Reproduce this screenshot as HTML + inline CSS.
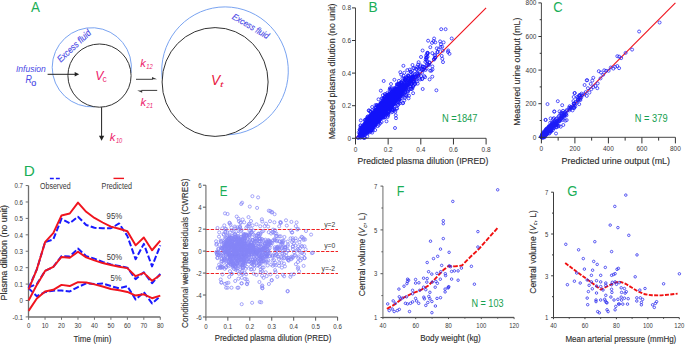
<!DOCTYPE html>
<html><head><meta charset="utf-8"><title>figure</title>
<style>
html,body{margin:0;padding:0;background:#fff;}
body{width:685px;height:344px;overflow:hidden;}
svg{display:block;font-family:"Liberation Sans",sans-serif;}
text[fill="#2d2d2d"]{stroke:#2d2d2d;stroke-width:0.13px;}
</style></head><body>
<svg xmlns="http://www.w3.org/2000/svg" width="685" height="344" viewBox="0 0 685 344">
<rect width="685" height="344" fill="#fff"/>
<text x="30.97" y="11.80" font-size="14.2" fill="#1aae57" textLength="8.95" lengthAdjust="spacingAndGlyphs">A</text>
<path d="M 94.53 106.81 A 39.6 39.6 0 1 1 130.99 72.98" fill="none" stroke="#6a98ee" stroke-width="0.9"/>
<circle cx="99.5" cy="75.6" r="31.6" fill="none" stroke="#333" stroke-width="1.0"/>
<path d="M 162.19 78.81 A 63.3 64.0 0 1 1 227.65 134.84" fill="none" stroke="#6a98ee" stroke-width="0.9"/>
<ellipse cx="215.1" cy="82" rx="53" ry="54.4" fill="none" stroke="#333" stroke-width="1.0"/>
<line x1="47.60" y1="74.30" x2="75.50" y2="74.30" stroke="#222" stroke-width="1"/>
<polygon points="79.20,74.30 74.70,76.50 74.70,72.10" fill="#222"/>
<line x1="101.60" y1="107.20" x2="101.60" y2="136.60" stroke="#222" stroke-width="1"/>
<polygon points="101.60,140.70 98.95,135.80 104.25,135.80" fill="#222"/>
<line x1="136.00" y1="79.30" x2="152.80" y2="79.30" stroke="#333" stroke-width="0.95"/>
<polygon points="157.00,79.30 152.00,76.90 152.00,79.30" fill="#333"/>
<line x1="157.20" y1="90.40" x2="141.40" y2="90.40" stroke="#333" stroke-width="0.95"/>
<polygon points="137.20,90.40 142.20,92.80 142.20,90.40" fill="#333"/>
<text x="15.90" y="71.70" font-size="8.9" fill="#4a4ae6" textLength="29.9" lengthAdjust="spacingAndGlyphs" font-style="italic">Infusion</text>
<text x="25.50" y="83.00" font-size="10.0" fill="#4a4ae6" textLength="6.4" lengthAdjust="spacingAndGlyphs" font-style="italic">R</text>
<text x="31.20" y="86.20" font-size="9.0" fill="#4a4ae6" stroke="#4a4ae6" stroke-width="0.2">o</text>
<text x="95.30" y="79.80" font-size="13.4" fill="#ec1c6c" textLength="8.2" lengthAdjust="spacingAndGlyphs" font-style="italic">V</text>
<text x="102.40" y="81.90" font-size="9.6" fill="#ec1c6c" textLength="4.2" lengthAdjust="spacingAndGlyphs">c</text>
<text x="211.00" y="85.20" font-size="14.0" fill="#e8203f" textLength="9.2" lengthAdjust="spacingAndGlyphs" font-style="italic">V</text>
<text x="219.90" y="87.10" font-size="7.8" fill="#e8203f" textLength="3.4" lengthAdjust="spacingAndGlyphs" font-style="italic">t</text>
<text x="140.20" y="66.80" font-size="11.2" fill="#ec1c6c" textLength="5.6" lengthAdjust="spacingAndGlyphs" font-style="italic">k</text>
<text x="146.30" y="68.70" font-size="6.6" fill="#ec1c6c" textLength="6.4" lengthAdjust="spacingAndGlyphs" font-style="italic">12</text>
<text x="140.40" y="105.60" font-size="11.2" fill="#ec1c6c" textLength="5.6" lengthAdjust="spacingAndGlyphs" font-style="italic">k</text>
<text x="146.50" y="107.50" font-size="6.6" fill="#ec1c6c" textLength="6.4" lengthAdjust="spacingAndGlyphs" font-style="italic">21</text>
<text x="109.80" y="140.80" font-size="11.2" fill="#ec1c6c" textLength="5.6" lengthAdjust="spacingAndGlyphs" font-style="italic">k</text>
<text x="115.90" y="142.70" font-size="6.6" fill="#ec1c6c" textLength="6.4" lengthAdjust="spacingAndGlyphs" font-style="italic">10</text>
<text transform="translate(60.7,62.8) rotate(-43.2)" font-size="9.4" fill="#4a4ae6" font-style="italic" stroke="#4a4ae6" stroke-width="0.15" textLength="42.5" lengthAdjust="spacingAndGlyphs">Excess fluid</text>
<text transform="translate(231.6,18.4) rotate(30.5)" font-size="9.0" fill="#4a4ae6" font-style="italic" stroke="#4a4ae6" stroke-width="0.15" textLength="41" lengthAdjust="spacingAndGlyphs">Excess fluid</text>
<line x1="355.50" y1="138.30" x2="486.10" y2="7.90" stroke="#f0141e" stroke-width="1.15"/>
<g fill="none" stroke="#1212fa" stroke-width="0.72">
<circle cx="382.2" cy="112.5" r="1.5"/><circle cx="378.1" cy="117.2" r="1.5"/><circle cx="375.7" cy="114.1" r="1.5"/><circle cx="383.1" cy="117.1" r="1.5"/><circle cx="375.2" cy="119.0" r="1.5"/><circle cx="390.5" cy="103.0" r="1.5"/><circle cx="383.8" cy="113.3" r="1.5"/><circle cx="381.7" cy="114.8" r="1.5"/><circle cx="366.3" cy="130.4" r="1.5"/><circle cx="362.6" cy="134.1" r="1.5"/><circle cx="367.0" cy="129.0" r="1.5"/><circle cx="384.6" cy="110.4" r="1.5"/><circle cx="381.4" cy="110.5" r="1.5"/><circle cx="364.8" cy="132.5" r="1.5"/><circle cx="384.5" cy="102.7" r="1.5"/><circle cx="371.5" cy="122.4" r="1.5"/><circle cx="371.5" cy="122.2" r="1.5"/><circle cx="398.3" cy="95.4" r="1.5"/><circle cx="380.4" cy="114.7" r="1.5"/><circle cx="383.1" cy="113.4" r="1.5"/><circle cx="383.3" cy="103.7" r="1.5"/><circle cx="364.7" cy="128.0" r="1.5"/><circle cx="384.0" cy="108.6" r="1.5"/><circle cx="426.6" cy="58.1" r="1.5"/><circle cx="367.6" cy="127.8" r="1.5"/><circle cx="392.1" cy="97.2" r="1.5"/><circle cx="394.2" cy="97.5" r="1.5"/><circle cx="393.8" cy="102.7" r="1.5"/><circle cx="373.0" cy="117.0" r="1.5"/><circle cx="375.6" cy="114.8" r="1.5"/><circle cx="367.7" cy="123.3" r="1.5"/><circle cx="379.2" cy="116.8" r="1.5"/><circle cx="404.1" cy="85.1" r="1.5"/><circle cx="371.6" cy="116.3" r="1.5"/><circle cx="361.7" cy="130.2" r="1.5"/><circle cx="380.7" cy="114.2" r="1.5"/><circle cx="394.3" cy="97.7" r="1.5"/><circle cx="376.8" cy="117.1" r="1.5"/><circle cx="413.3" cy="85.9" r="1.5"/><circle cx="377.7" cy="119.2" r="1.5"/><circle cx="380.3" cy="111.9" r="1.5"/><circle cx="368.4" cy="122.9" r="1.5"/><circle cx="375.8" cy="123.5" r="1.5"/><circle cx="393.6" cy="98.7" r="1.5"/><circle cx="393.9" cy="94.3" r="1.5"/><circle cx="401.9" cy="89.2" r="1.5"/><circle cx="392.2" cy="104.9" r="1.5"/><circle cx="387.9" cy="99.3" r="1.5"/><circle cx="361.4" cy="135.4" r="1.5"/><circle cx="370.5" cy="120.2" r="1.5"/><circle cx="434.1" cy="38.5" r="1.5"/><circle cx="373.6" cy="126.6" r="1.5"/><circle cx="390.5" cy="100.2" r="1.5"/><circle cx="379.1" cy="112.1" r="1.5"/><circle cx="391.0" cy="99.9" r="1.5"/><circle cx="380.9" cy="114.7" r="1.5"/><circle cx="368.9" cy="125.1" r="1.5"/><circle cx="370.9" cy="126.8" r="1.5"/><circle cx="385.2" cy="106.4" r="1.5"/><circle cx="374.0" cy="118.3" r="1.5"/><circle cx="361.6" cy="133.7" r="1.5"/><circle cx="388.2" cy="108.4" r="1.5"/><circle cx="397.5" cy="97.0" r="1.5"/><circle cx="395.6" cy="96.3" r="1.5"/><circle cx="396.1" cy="95.5" r="1.5"/><circle cx="364.7" cy="128.9" r="1.5"/><circle cx="411.2" cy="80.1" r="1.5"/><circle cx="378.1" cy="119.7" r="1.5"/><circle cx="369.7" cy="132.4" r="1.5"/><circle cx="374.6" cy="115.8" r="1.5"/><circle cx="371.7" cy="116.3" r="1.5"/><circle cx="366.9" cy="130.8" r="1.5"/><circle cx="379.8" cy="115.4" r="1.5"/><circle cx="382.3" cy="108.7" r="1.5"/><circle cx="377.4" cy="111.4" r="1.5"/><circle cx="382.3" cy="107.3" r="1.5"/><circle cx="377.8" cy="109.7" r="1.5"/><circle cx="371.5" cy="121.6" r="1.5"/><circle cx="373.0" cy="118.3" r="1.5"/><circle cx="387.7" cy="102.5" r="1.5"/><circle cx="365.4" cy="129.2" r="1.5"/><circle cx="373.5" cy="114.9" r="1.5"/><circle cx="395.2" cy="93.4" r="1.5"/><circle cx="383.3" cy="104.8" r="1.5"/><circle cx="389.8" cy="104.2" r="1.5"/><circle cx="380.0" cy="108.2" r="1.5"/><circle cx="367.4" cy="129.1" r="1.5"/><circle cx="375.0" cy="116.2" r="1.5"/><circle cx="381.6" cy="122.0" r="1.5"/><circle cx="375.0" cy="121.5" r="1.5"/><circle cx="377.7" cy="111.9" r="1.5"/><circle cx="382.5" cy="111.9" r="1.5"/><circle cx="394.1" cy="97.0" r="1.5"/><circle cx="374.3" cy="124.4" r="1.5"/><circle cx="399.7" cy="83.4" r="1.5"/><circle cx="380.0" cy="110.0" r="1.5"/><circle cx="396.1" cy="96.0" r="1.5"/><circle cx="399.1" cy="90.5" r="1.5"/><circle cx="413.1" cy="76.6" r="1.5"/><circle cx="397.8" cy="86.3" r="1.5"/><circle cx="398.1" cy="84.1" r="1.5"/><circle cx="412.3" cy="88.9" r="1.5"/><circle cx="363.6" cy="130.5" r="1.5"/><circle cx="369.3" cy="119.5" r="1.5"/><circle cx="397.3" cy="91.5" r="1.5"/><circle cx="361.0" cy="133.7" r="1.5"/><circle cx="382.8" cy="106.9" r="1.5"/><circle cx="382.7" cy="109.1" r="1.5"/><circle cx="364.9" cy="119.9" r="1.5"/><circle cx="369.8" cy="128.6" r="1.5"/><circle cx="390.7" cy="105.8" r="1.5"/><circle cx="388.9" cy="100.0" r="1.5"/><circle cx="373.2" cy="120.4" r="1.5"/><circle cx="370.6" cy="121.1" r="1.5"/><circle cx="371.8" cy="114.3" r="1.5"/><circle cx="387.7" cy="105.9" r="1.5"/><circle cx="365.9" cy="126.7" r="1.5"/><circle cx="380.8" cy="114.0" r="1.5"/><circle cx="365.4" cy="133.9" r="1.5"/><circle cx="395.4" cy="97.0" r="1.5"/><circle cx="383.4" cy="115.4" r="1.5"/><circle cx="404.3" cy="100.3" r="1.5"/><circle cx="360.5" cy="137.8" r="1.5"/><circle cx="361.8" cy="132.0" r="1.5"/><circle cx="372.9" cy="115.9" r="1.5"/><circle cx="408.5" cy="82.5" r="1.5"/><circle cx="367.8" cy="124.9" r="1.5"/><circle cx="403.7" cy="84.1" r="1.5"/><circle cx="382.9" cy="106.4" r="1.5"/><circle cx="382.7" cy="114.9" r="1.5"/><circle cx="391.6" cy="94.4" r="1.5"/><circle cx="369.0" cy="127.2" r="1.5"/><circle cx="372.9" cy="119.2" r="1.5"/><circle cx="366.9" cy="118.3" r="1.5"/><circle cx="382.0" cy="110.0" r="1.5"/><circle cx="418.6" cy="62.2" r="1.5"/><circle cx="375.6" cy="118.4" r="1.5"/><circle cx="388.4" cy="100.8" r="1.5"/><circle cx="386.2" cy="105.8" r="1.5"/><circle cx="383.4" cy="107.1" r="1.5"/><circle cx="378.2" cy="117.8" r="1.5"/><circle cx="405.1" cy="92.4" r="1.5"/><circle cx="382.1" cy="108.9" r="1.5"/><circle cx="374.4" cy="124.1" r="1.5"/><circle cx="400.0" cy="96.7" r="1.5"/><circle cx="393.9" cy="94.8" r="1.5"/><circle cx="385.6" cy="109.5" r="1.5"/><circle cx="379.1" cy="117.0" r="1.5"/><circle cx="413.0" cy="85.8" r="1.5"/><circle cx="381.2" cy="110.6" r="1.5"/><circle cx="373.5" cy="120.7" r="1.5"/><circle cx="390.8" cy="100.6" r="1.5"/><circle cx="377.1" cy="116.2" r="1.5"/><circle cx="381.1" cy="103.5" r="1.5"/><circle cx="376.5" cy="117.8" r="1.5"/><circle cx="378.9" cy="121.6" r="1.5"/><circle cx="364.3" cy="128.7" r="1.5"/><circle cx="371.0" cy="122.0" r="1.5"/><circle cx="371.9" cy="120.4" r="1.5"/><circle cx="377.6" cy="121.4" r="1.5"/><circle cx="385.2" cy="101.9" r="1.5"/><circle cx="369.5" cy="123.6" r="1.5"/><circle cx="427.0" cy="65.2" r="1.5"/><circle cx="379.1" cy="119.8" r="1.5"/><circle cx="387.4" cy="102.6" r="1.5"/><circle cx="368.4" cy="124.9" r="1.5"/><circle cx="370.4" cy="118.0" r="1.5"/><circle cx="413.3" cy="81.1" r="1.5"/><circle cx="391.6" cy="106.7" r="1.5"/><circle cx="379.2" cy="112.8" r="1.5"/><circle cx="366.2" cy="129.8" r="1.5"/><circle cx="412.2" cy="77.0" r="1.5"/><circle cx="370.1" cy="126.6" r="1.5"/><circle cx="375.1" cy="118.1" r="1.5"/><circle cx="379.1" cy="114.4" r="1.5"/><circle cx="387.0" cy="105.4" r="1.5"/><circle cx="381.5" cy="113.1" r="1.5"/><circle cx="380.9" cy="115.4" r="1.5"/><circle cx="422.8" cy="69.4" r="1.5"/><circle cx="383.0" cy="111.9" r="1.5"/><circle cx="388.6" cy="102.8" r="1.5"/><circle cx="365.7" cy="128.3" r="1.5"/><circle cx="394.6" cy="109.2" r="1.5"/><circle cx="363.5" cy="130.1" r="1.5"/><circle cx="373.0" cy="114.9" r="1.5"/><circle cx="434.5" cy="55.4" r="1.5"/><circle cx="371.8" cy="119.0" r="1.5"/><circle cx="381.3" cy="109.2" r="1.5"/><circle cx="368.0" cy="126.6" r="1.5"/><circle cx="368.0" cy="129.4" r="1.5"/><circle cx="402.2" cy="85.0" r="1.5"/><circle cx="375.5" cy="113.3" r="1.5"/><circle cx="380.1" cy="110.0" r="1.5"/><circle cx="377.2" cy="113.7" r="1.5"/><circle cx="365.5" cy="126.6" r="1.5"/><circle cx="379.3" cy="113.3" r="1.5"/><circle cx="400.8" cy="89.5" r="1.5"/><circle cx="371.8" cy="121.1" r="1.5"/><circle cx="388.7" cy="101.9" r="1.5"/><circle cx="401.4" cy="95.9" r="1.5"/><circle cx="367.4" cy="127.7" r="1.5"/><circle cx="396.6" cy="92.3" r="1.5"/><circle cx="362.2" cy="132.2" r="1.5"/><circle cx="392.5" cy="111.8" r="1.5"/><circle cx="376.6" cy="115.5" r="1.5"/><circle cx="368.2" cy="132.2" r="1.5"/><circle cx="379.5" cy="105.2" r="1.5"/><circle cx="373.3" cy="116.9" r="1.5"/><circle cx="363.7" cy="127.7" r="1.5"/><circle cx="400.4" cy="95.2" r="1.5"/><circle cx="402.4" cy="96.0" r="1.5"/><circle cx="369.0" cy="124.7" r="1.5"/><circle cx="375.6" cy="117.0" r="1.5"/><circle cx="374.7" cy="120.9" r="1.5"/><circle cx="377.7" cy="106.7" r="1.5"/><circle cx="366.8" cy="124.3" r="1.5"/><circle cx="398.3" cy="90.4" r="1.5"/><circle cx="382.2" cy="114.6" r="1.5"/><circle cx="369.7" cy="130.4" r="1.5"/><circle cx="374.9" cy="117.8" r="1.5"/><circle cx="371.8" cy="130.1" r="1.5"/><circle cx="378.8" cy="110.5" r="1.5"/><circle cx="392.3" cy="91.5" r="1.5"/><circle cx="392.6" cy="91.2" r="1.5"/><circle cx="368.6" cy="123.5" r="1.5"/><circle cx="382.9" cy="104.6" r="1.5"/><circle cx="370.4" cy="117.0" r="1.5"/><circle cx="363.4" cy="129.9" r="1.5"/><circle cx="368.7" cy="123.5" r="1.5"/><circle cx="381.2" cy="107.6" r="1.5"/><circle cx="364.8" cy="128.6" r="1.5"/><circle cx="372.2" cy="122.4" r="1.5"/><circle cx="388.4" cy="107.2" r="1.5"/><circle cx="372.5" cy="120.3" r="1.5"/><circle cx="372.1" cy="122.9" r="1.5"/><circle cx="369.8" cy="120.6" r="1.5"/><circle cx="362.6" cy="131.7" r="1.5"/><circle cx="377.5" cy="109.4" r="1.5"/><circle cx="381.7" cy="105.6" r="1.5"/><circle cx="382.9" cy="114.7" r="1.5"/><circle cx="369.1" cy="120.5" r="1.5"/><circle cx="369.4" cy="124.9" r="1.5"/><circle cx="395.4" cy="89.3" r="1.5"/><circle cx="369.9" cy="121.4" r="1.5"/><circle cx="377.0" cy="115.7" r="1.5"/><circle cx="358.0" cy="137.8" r="1.5"/><circle cx="368.7" cy="126.1" r="1.5"/><circle cx="368.7" cy="123.3" r="1.5"/><circle cx="365.0" cy="127.2" r="1.5"/><circle cx="409.8" cy="82.7" r="1.5"/><circle cx="376.4" cy="114.7" r="1.5"/><circle cx="362.3" cy="133.9" r="1.5"/><circle cx="381.7" cy="108.3" r="1.5"/><circle cx="380.7" cy="116.6" r="1.5"/><circle cx="381.1" cy="108.6" r="1.5"/><circle cx="407.5" cy="81.3" r="1.5"/><circle cx="380.1" cy="109.4" r="1.5"/><circle cx="381.1" cy="113.5" r="1.5"/><circle cx="372.2" cy="110.1" r="1.5"/><circle cx="369.0" cy="124.7" r="1.5"/><circle cx="380.6" cy="108.5" r="1.5"/><circle cx="379.4" cy="116.0" r="1.5"/><circle cx="370.0" cy="118.2" r="1.5"/><circle cx="374.5" cy="119.8" r="1.5"/><circle cx="382.1" cy="106.0" r="1.5"/><circle cx="383.2" cy="113.1" r="1.5"/><circle cx="373.7" cy="117.9" r="1.5"/><circle cx="361.2" cy="131.7" r="1.5"/><circle cx="384.5" cy="103.5" r="1.5"/><circle cx="376.1" cy="117.5" r="1.5"/><circle cx="369.7" cy="126.0" r="1.5"/><circle cx="374.5" cy="116.5" r="1.5"/><circle cx="367.5" cy="133.3" r="1.5"/><circle cx="384.4" cy="111.9" r="1.5"/><circle cx="375.9" cy="113.8" r="1.5"/><circle cx="363.8" cy="134.7" r="1.5"/><circle cx="386.1" cy="102.2" r="1.5"/><circle cx="388.5" cy="105.3" r="1.5"/><circle cx="378.3" cy="117.6" r="1.5"/><circle cx="389.4" cy="101.4" r="1.5"/><circle cx="364.9" cy="134.6" r="1.5"/><circle cx="404.6" cy="90.4" r="1.5"/><circle cx="385.9" cy="106.9" r="1.5"/><circle cx="399.5" cy="87.7" r="1.5"/><circle cx="365.1" cy="125.9" r="1.5"/><circle cx="373.5" cy="119.3" r="1.5"/><circle cx="376.8" cy="118.5" r="1.5"/><circle cx="419.3" cy="78.2" r="1.5"/><circle cx="380.6" cy="114.1" r="1.5"/><circle cx="367.0" cy="124.0" r="1.5"/><circle cx="389.3" cy="99.9" r="1.5"/><circle cx="383.9" cy="106.9" r="1.5"/><circle cx="371.9" cy="116.1" r="1.5"/><circle cx="395.1" cy="98.1" r="1.5"/><circle cx="402.4" cy="91.3" r="1.5"/><circle cx="377.6" cy="116.2" r="1.5"/><circle cx="369.4" cy="117.3" r="1.5"/><circle cx="392.2" cy="109.7" r="1.5"/><circle cx="387.2" cy="103.4" r="1.5"/><circle cx="376.9" cy="113.8" r="1.5"/><circle cx="370.9" cy="121.6" r="1.5"/><circle cx="377.3" cy="106.2" r="1.5"/><circle cx="388.5" cy="97.9" r="1.5"/><circle cx="381.9" cy="107.0" r="1.5"/><circle cx="358.2" cy="137.6" r="1.5"/><circle cx="391.5" cy="97.9" r="1.5"/><circle cx="418.0" cy="75.7" r="1.5"/><circle cx="387.3" cy="104.4" r="1.5"/><circle cx="396.3" cy="94.3" r="1.5"/><circle cx="381.5" cy="112.6" r="1.5"/><circle cx="425.3" cy="61.9" r="1.5"/><circle cx="381.4" cy="104.0" r="1.5"/><circle cx="408.8" cy="76.3" r="1.5"/><circle cx="411.9" cy="78.1" r="1.5"/><circle cx="379.4" cy="120.5" r="1.5"/><circle cx="396.2" cy="89.6" r="1.5"/><circle cx="364.9" cy="125.1" r="1.5"/><circle cx="387.7" cy="105.0" r="1.5"/><circle cx="364.8" cy="129.6" r="1.5"/><circle cx="390.5" cy="98.0" r="1.5"/><circle cx="375.4" cy="119.9" r="1.5"/><circle cx="378.6" cy="110.5" r="1.5"/><circle cx="370.4" cy="125.9" r="1.5"/><circle cx="385.4" cy="110.5" r="1.5"/><circle cx="394.0" cy="97.5" r="1.5"/><circle cx="370.3" cy="127.2" r="1.5"/><circle cx="377.1" cy="115.2" r="1.5"/><circle cx="385.6" cy="103.9" r="1.5"/><circle cx="373.5" cy="122.9" r="1.5"/><circle cx="405.6" cy="80.3" r="1.5"/><circle cx="426.6" cy="68.5" r="1.5"/><circle cx="385.7" cy="103.8" r="1.5"/><circle cx="380.3" cy="111.0" r="1.5"/><circle cx="384.0" cy="109.9" r="1.5"/><circle cx="371.3" cy="127.9" r="1.5"/><circle cx="365.5" cy="132.4" r="1.5"/><circle cx="372.0" cy="122.9" r="1.5"/><circle cx="385.6" cy="106.7" r="1.5"/><circle cx="377.3" cy="108.8" r="1.5"/><circle cx="370.6" cy="118.7" r="1.5"/><circle cx="369.2" cy="127.9" r="1.5"/><circle cx="381.7" cy="107.0" r="1.5"/><circle cx="377.1" cy="114.4" r="1.5"/><circle cx="394.5" cy="98.9" r="1.5"/><circle cx="369.1" cy="122.2" r="1.5"/><circle cx="443.6" cy="42.4" r="1.5"/><circle cx="380.5" cy="113.9" r="1.5"/><circle cx="428.3" cy="64.8" r="1.5"/><circle cx="376.9" cy="114.8" r="1.5"/><circle cx="390.5" cy="105.8" r="1.5"/><circle cx="375.0" cy="116.7" r="1.5"/><circle cx="418.3" cy="73.4" r="1.5"/><circle cx="394.2" cy="100.8" r="1.5"/><circle cx="372.5" cy="122.9" r="1.5"/><circle cx="379.2" cy="111.7" r="1.5"/><circle cx="394.1" cy="93.0" r="1.5"/><circle cx="363.6" cy="128.6" r="1.5"/><circle cx="372.2" cy="123.2" r="1.5"/><circle cx="373.8" cy="118.5" r="1.5"/><circle cx="360.0" cy="133.0" r="1.5"/><circle cx="386.3" cy="102.9" r="1.5"/><circle cx="426.0" cy="57.6" r="1.5"/><circle cx="362.9" cy="132.8" r="1.5"/><circle cx="367.5" cy="125.8" r="1.5"/><circle cx="383.4" cy="111.1" r="1.5"/><circle cx="387.8" cy="107.9" r="1.5"/><circle cx="387.0" cy="95.8" r="1.5"/><circle cx="377.6" cy="110.2" r="1.5"/><circle cx="374.6" cy="124.1" r="1.5"/><circle cx="363.7" cy="128.3" r="1.5"/><circle cx="422.1" cy="72.7" r="1.5"/><circle cx="408.3" cy="76.1" r="1.5"/><circle cx="373.0" cy="119.2" r="1.5"/><circle cx="381.3" cy="111.5" r="1.5"/><circle cx="377.9" cy="113.8" r="1.5"/><circle cx="376.0" cy="114.9" r="1.5"/><circle cx="368.6" cy="124.0" r="1.5"/><circle cx="435.3" cy="57.7" r="1.5"/><circle cx="378.6" cy="114.1" r="1.5"/><circle cx="394.7" cy="94.2" r="1.5"/><circle cx="379.1" cy="117.5" r="1.5"/><circle cx="386.5" cy="121.3" r="1.5"/><circle cx="414.1" cy="79.9" r="1.5"/><circle cx="383.4" cy="110.5" r="1.5"/><circle cx="412.5" cy="74.2" r="1.5"/><circle cx="373.1" cy="123.9" r="1.5"/><circle cx="393.8" cy="99.6" r="1.5"/><circle cx="410.1" cy="86.2" r="1.5"/><circle cx="395.5" cy="93.1" r="1.5"/><circle cx="373.1" cy="117.6" r="1.5"/><circle cx="370.3" cy="122.2" r="1.5"/><circle cx="376.8" cy="114.0" r="1.5"/><circle cx="373.3" cy="124.7" r="1.5"/><circle cx="387.3" cy="102.4" r="1.5"/><circle cx="379.2" cy="115.9" r="1.5"/><circle cx="372.1" cy="121.3" r="1.5"/><circle cx="367.4" cy="125.8" r="1.5"/><circle cx="373.4" cy="116.3" r="1.5"/><circle cx="381.3" cy="107.7" r="1.5"/><circle cx="394.4" cy="88.1" r="1.5"/><circle cx="388.0" cy="102.9" r="1.5"/><circle cx="393.1" cy="100.7" r="1.5"/><circle cx="406.2" cy="88.0" r="1.5"/><circle cx="388.7" cy="100.0" r="1.5"/><circle cx="365.4" cy="123.0" r="1.5"/><circle cx="378.3" cy="112.5" r="1.5"/><circle cx="366.2" cy="128.5" r="1.5"/><circle cx="383.8" cy="106.9" r="1.5"/><circle cx="363.5" cy="129.0" r="1.5"/><circle cx="380.8" cy="111.1" r="1.5"/><circle cx="383.6" cy="111.5" r="1.5"/><circle cx="391.6" cy="112.2" r="1.5"/><circle cx="381.5" cy="112.6" r="1.5"/><circle cx="375.6" cy="112.9" r="1.5"/><circle cx="396.2" cy="94.1" r="1.5"/><circle cx="375.3" cy="125.0" r="1.5"/><circle cx="369.7" cy="123.0" r="1.5"/><circle cx="375.4" cy="123.6" r="1.5"/><circle cx="365.5" cy="121.8" r="1.5"/><circle cx="384.5" cy="106.5" r="1.5"/><circle cx="363.0" cy="133.4" r="1.5"/><circle cx="396.5" cy="90.8" r="1.5"/><circle cx="380.9" cy="114.2" r="1.5"/><circle cx="393.1" cy="95.6" r="1.5"/><circle cx="367.8" cy="124.9" r="1.5"/><circle cx="411.4" cy="86.9" r="1.5"/><circle cx="404.4" cy="83.0" r="1.5"/><circle cx="399.4" cy="99.1" r="1.5"/><circle cx="379.8" cy="107.0" r="1.5"/><circle cx="395.8" cy="95.3" r="1.5"/><circle cx="380.8" cy="115.3" r="1.5"/><circle cx="405.6" cy="96.2" r="1.5"/><circle cx="363.3" cy="125.5" r="1.5"/><circle cx="382.4" cy="98.8" r="1.5"/><circle cx="408.1" cy="90.5" r="1.5"/><circle cx="396.8" cy="86.0" r="1.5"/><circle cx="397.9" cy="92.5" r="1.5"/><circle cx="396.0" cy="96.6" r="1.5"/><circle cx="384.6" cy="107.6" r="1.5"/><circle cx="370.2" cy="123.3" r="1.5"/><circle cx="389.9" cy="95.0" r="1.5"/><circle cx="375.9" cy="115.8" r="1.5"/><circle cx="378.1" cy="121.1" r="1.5"/><circle cx="380.1" cy="103.6" r="1.5"/><circle cx="381.8" cy="106.6" r="1.5"/><circle cx="369.8" cy="126.4" r="1.5"/><circle cx="393.8" cy="99.5" r="1.5"/><circle cx="385.1" cy="110.7" r="1.5"/><circle cx="403.8" cy="87.2" r="1.5"/><circle cx="427.2" cy="61.4" r="1.5"/><circle cx="395.3" cy="94.9" r="1.5"/><circle cx="383.7" cy="110.7" r="1.5"/><circle cx="366.5" cy="128.8" r="1.5"/><circle cx="381.4" cy="107.2" r="1.5"/><circle cx="385.1" cy="107.1" r="1.5"/><circle cx="386.7" cy="95.1" r="1.5"/><circle cx="382.7" cy="112.6" r="1.5"/><circle cx="374.9" cy="114.7" r="1.5"/><circle cx="398.6" cy="92.5" r="1.5"/><circle cx="384.5" cy="110.6" r="1.5"/><circle cx="401.6" cy="82.1" r="1.5"/><circle cx="372.6" cy="119.4" r="1.5"/><circle cx="387.2" cy="108.6" r="1.5"/><circle cx="405.1" cy="88.0" r="1.5"/><circle cx="405.1" cy="80.2" r="1.5"/><circle cx="368.5" cy="128.1" r="1.5"/><circle cx="380.7" cy="105.8" r="1.5"/><circle cx="377.0" cy="112.7" r="1.5"/><circle cx="405.2" cy="87.7" r="1.5"/><circle cx="388.9" cy="96.5" r="1.5"/><circle cx="373.4" cy="113.0" r="1.5"/><circle cx="381.6" cy="107.9" r="1.5"/><circle cx="375.2" cy="116.5" r="1.5"/><circle cx="382.6" cy="101.7" r="1.5"/><circle cx="376.1" cy="110.7" r="1.5"/><circle cx="385.6" cy="110.3" r="1.5"/><circle cx="405.4" cy="87.0" r="1.5"/><circle cx="435.0" cy="58.0" r="1.5"/><circle cx="396.7" cy="96.9" r="1.5"/><circle cx="422.4" cy="78.5" r="1.5"/><circle cx="361.9" cy="129.0" r="1.5"/><circle cx="393.8" cy="97.3" r="1.5"/><circle cx="395.2" cy="95.7" r="1.5"/><circle cx="389.8" cy="93.5" r="1.5"/><circle cx="381.0" cy="113.4" r="1.5"/><circle cx="360.2" cy="133.3" r="1.5"/><circle cx="369.1" cy="122.7" r="1.5"/><circle cx="378.8" cy="115.1" r="1.5"/><circle cx="388.3" cy="103.9" r="1.5"/><circle cx="370.4" cy="119.8" r="1.5"/><circle cx="381.7" cy="110.3" r="1.5"/><circle cx="379.8" cy="107.0" r="1.5"/><circle cx="380.0" cy="115.1" r="1.5"/><circle cx="382.4" cy="102.8" r="1.5"/><circle cx="392.0" cy="106.5" r="1.5"/><circle cx="377.2" cy="115.5" r="1.5"/><circle cx="379.7" cy="115.1" r="1.5"/><circle cx="370.5" cy="112.0" r="1.5"/><circle cx="376.4" cy="113.1" r="1.5"/><circle cx="371.3" cy="119.6" r="1.5"/><circle cx="388.7" cy="94.5" r="1.5"/><circle cx="427.2" cy="54.4" r="1.5"/><circle cx="420.2" cy="66.4" r="1.5"/><circle cx="373.2" cy="121.7" r="1.5"/><circle cx="389.5" cy="109.0" r="1.5"/><circle cx="382.9" cy="109.1" r="1.5"/><circle cx="362.8" cy="131.3" r="1.5"/><circle cx="360.5" cy="134.6" r="1.5"/><circle cx="372.4" cy="121.1" r="1.5"/><circle cx="378.9" cy="119.7" r="1.5"/><circle cx="365.6" cy="119.6" r="1.5"/><circle cx="368.8" cy="127.5" r="1.5"/><circle cx="369.8" cy="125.0" r="1.5"/><circle cx="368.9" cy="122.0" r="1.5"/><circle cx="366.1" cy="131.7" r="1.5"/><circle cx="377.5" cy="111.2" r="1.5"/><circle cx="391.9" cy="95.0" r="1.5"/><circle cx="385.3" cy="107.9" r="1.5"/><circle cx="369.7" cy="126.4" r="1.5"/><circle cx="378.5" cy="115.5" r="1.5"/><circle cx="381.5" cy="118.1" r="1.5"/><circle cx="361.7" cy="127.9" r="1.5"/><circle cx="398.2" cy="98.3" r="1.5"/><circle cx="371.7" cy="123.4" r="1.5"/><circle cx="366.0" cy="129.6" r="1.5"/><circle cx="440.5" cy="47.0" r="1.5"/><circle cx="368.4" cy="119.7" r="1.5"/><circle cx="376.4" cy="120.7" r="1.5"/><circle cx="371.3" cy="123.2" r="1.5"/><circle cx="398.3" cy="102.5" r="1.5"/><circle cx="376.8" cy="112.9" r="1.5"/><circle cx="364.6" cy="129.0" r="1.5"/><circle cx="360.4" cy="127.3" r="1.5"/><circle cx="373.5" cy="113.0" r="1.5"/><circle cx="422.7" cy="89.0" r="1.5"/><circle cx="368.0" cy="127.0" r="1.5"/><circle cx="404.4" cy="81.9" r="1.5"/><circle cx="369.9" cy="128.0" r="1.5"/><circle cx="364.3" cy="126.7" r="1.5"/><circle cx="378.2" cy="113.0" r="1.5"/><circle cx="384.8" cy="109.3" r="1.5"/><circle cx="379.0" cy="116.7" r="1.5"/><circle cx="360.9" cy="129.8" r="1.5"/><circle cx="372.5" cy="113.5" r="1.5"/><circle cx="385.7" cy="108.1" r="1.5"/><circle cx="373.4" cy="117.2" r="1.5"/><circle cx="387.9" cy="95.8" r="1.5"/><circle cx="365.3" cy="129.5" r="1.5"/><circle cx="442.8" cy="50.7" r="1.5"/><circle cx="367.7" cy="128.9" r="1.5"/><circle cx="379.0" cy="113.7" r="1.5"/><circle cx="379.0" cy="113.5" r="1.5"/><circle cx="395.4" cy="98.2" r="1.5"/><circle cx="375.9" cy="119.2" r="1.5"/><circle cx="381.4" cy="110.9" r="1.5"/><circle cx="379.4" cy="118.0" r="1.5"/><circle cx="388.2" cy="108.0" r="1.5"/><circle cx="388.0" cy="100.7" r="1.5"/><circle cx="380.2" cy="113.9" r="1.5"/><circle cx="395.7" cy="100.2" r="1.5"/><circle cx="408.7" cy="78.5" r="1.5"/><circle cx="372.2" cy="118.4" r="1.5"/><circle cx="373.0" cy="122.1" r="1.5"/><circle cx="372.5" cy="122.2" r="1.5"/><circle cx="371.8" cy="118.5" r="1.5"/><circle cx="372.4" cy="118.9" r="1.5"/><circle cx="381.5" cy="113.9" r="1.5"/><circle cx="393.5" cy="96.8" r="1.5"/><circle cx="372.0" cy="120.6" r="1.5"/><circle cx="387.4" cy="99.2" r="1.5"/><circle cx="375.0" cy="120.5" r="1.5"/><circle cx="440.9" cy="44.3" r="1.5"/><circle cx="384.4" cy="113.9" r="1.5"/><circle cx="392.9" cy="103.7" r="1.5"/><circle cx="368.9" cy="120.5" r="1.5"/><circle cx="370.0" cy="119.7" r="1.5"/><circle cx="383.7" cy="113.9" r="1.5"/><circle cx="371.0" cy="114.9" r="1.5"/><circle cx="379.7" cy="117.0" r="1.5"/><circle cx="401.8" cy="94.7" r="1.5"/><circle cx="371.3" cy="122.3" r="1.5"/><circle cx="370.2" cy="119.9" r="1.5"/><circle cx="382.8" cy="106.6" r="1.5"/><circle cx="376.8" cy="115.8" r="1.5"/><circle cx="390.7" cy="89.0" r="1.5"/><circle cx="378.4" cy="112.1" r="1.5"/><circle cx="368.0" cy="120.4" r="1.5"/><circle cx="360.6" cy="125.5" r="1.5"/><circle cx="385.7" cy="105.3" r="1.5"/><circle cx="371.5" cy="129.9" r="1.5"/><circle cx="382.1" cy="111.8" r="1.5"/><circle cx="362.4" cy="133.8" r="1.5"/><circle cx="371.0" cy="121.3" r="1.5"/><circle cx="385.8" cy="105.6" r="1.5"/><circle cx="398.6" cy="99.5" r="1.5"/><circle cx="399.1" cy="98.6" r="1.5"/><circle cx="403.9" cy="88.9" r="1.5"/><circle cx="379.9" cy="112.9" r="1.5"/><circle cx="397.0" cy="108.4" r="1.5"/><circle cx="385.5" cy="101.9" r="1.5"/><circle cx="376.8" cy="114.4" r="1.5"/><circle cx="374.2" cy="118.3" r="1.5"/><circle cx="370.6" cy="121.0" r="1.5"/><circle cx="398.4" cy="84.6" r="1.5"/><circle cx="380.9" cy="111.3" r="1.5"/><circle cx="371.2" cy="117.8" r="1.5"/><circle cx="378.5" cy="109.4" r="1.5"/><circle cx="419.4" cy="68.7" r="1.5"/><circle cx="365.0" cy="128.8" r="1.5"/><circle cx="365.4" cy="130.1" r="1.5"/><circle cx="407.9" cy="75.3" r="1.5"/><circle cx="364.9" cy="126.6" r="1.5"/><circle cx="406.8" cy="87.0" r="1.5"/><circle cx="373.0" cy="127.2" r="1.5"/><circle cx="386.8" cy="109.0" r="1.5"/><circle cx="404.9" cy="97.9" r="1.5"/><circle cx="405.0" cy="78.7" r="1.5"/><circle cx="393.7" cy="96.8" r="1.5"/><circle cx="380.2" cy="115.0" r="1.5"/><circle cx="376.6" cy="116.7" r="1.5"/><circle cx="376.9" cy="105.2" r="1.5"/><circle cx="411.3" cy="72.2" r="1.5"/><circle cx="385.7" cy="112.3" r="1.5"/><circle cx="402.2" cy="89.9" r="1.5"/><circle cx="359.3" cy="137.2" r="1.5"/><circle cx="375.7" cy="123.2" r="1.5"/><circle cx="385.3" cy="105.7" r="1.5"/><circle cx="375.3" cy="107.9" r="1.5"/><circle cx="427.4" cy="53.0" r="1.5"/><circle cx="367.3" cy="125.5" r="1.5"/><circle cx="389.3" cy="104.2" r="1.5"/><circle cx="396.3" cy="94.0" r="1.5"/><circle cx="370.3" cy="118.9" r="1.5"/><circle cx="395.9" cy="103.4" r="1.5"/><circle cx="387.6" cy="117.0" r="1.5"/><circle cx="409.8" cy="69.6" r="1.5"/><circle cx="380.2" cy="110.7" r="1.5"/><circle cx="398.5" cy="83.9" r="1.5"/><circle cx="387.5" cy="103.0" r="1.5"/><circle cx="374.7" cy="112.2" r="1.5"/><circle cx="392.2" cy="102.5" r="1.5"/><circle cx="389.1" cy="100.1" r="1.5"/><circle cx="413.2" cy="68.0" r="1.5"/><circle cx="365.1" cy="124.8" r="1.5"/><circle cx="365.5" cy="128.9" r="1.5"/><circle cx="371.1" cy="118.4" r="1.5"/><circle cx="392.3" cy="102.7" r="1.5"/><circle cx="400.9" cy="98.7" r="1.5"/><circle cx="379.2" cy="110.8" r="1.5"/><circle cx="384.9" cy="100.5" r="1.5"/><circle cx="381.6" cy="106.7" r="1.5"/><circle cx="363.5" cy="133.2" r="1.5"/><circle cx="370.4" cy="119.2" r="1.5"/><circle cx="397.4" cy="90.3" r="1.5"/><circle cx="396.0" cy="101.6" r="1.5"/><circle cx="403.2" cy="103.0" r="1.5"/><circle cx="393.0" cy="93.3" r="1.5"/><circle cx="358.8" cy="132.5" r="1.5"/><circle cx="385.7" cy="103.8" r="1.5"/><circle cx="386.8" cy="113.1" r="1.5"/><circle cx="365.7" cy="131.8" r="1.5"/><circle cx="421.0" cy="57.0" r="1.5"/><circle cx="378.9" cy="110.0" r="1.5"/><circle cx="398.3" cy="90.3" r="1.5"/><circle cx="394.8" cy="98.0" r="1.5"/><circle cx="391.4" cy="98.1" r="1.5"/><circle cx="408.6" cy="98.3" r="1.5"/><circle cx="379.0" cy="114.4" r="1.5"/><circle cx="398.3" cy="98.0" r="1.5"/><circle cx="388.6" cy="101.8" r="1.5"/><circle cx="366.8" cy="130.0" r="1.5"/><circle cx="372.6" cy="130.6" r="1.5"/><circle cx="367.0" cy="123.6" r="1.5"/><circle cx="364.0" cy="137.8" r="1.5"/><circle cx="389.0" cy="93.7" r="1.5"/><circle cx="365.0" cy="131.4" r="1.5"/><circle cx="398.9" cy="89.9" r="1.5"/><circle cx="377.4" cy="110.5" r="1.5"/><circle cx="377.2" cy="109.9" r="1.5"/><circle cx="366.5" cy="133.3" r="1.5"/><circle cx="387.1" cy="99.8" r="1.5"/><circle cx="369.6" cy="118.9" r="1.5"/><circle cx="392.1" cy="92.0" r="1.5"/><circle cx="393.0" cy="110.2" r="1.5"/><circle cx="363.0" cy="132.1" r="1.5"/><circle cx="389.1" cy="103.1" r="1.5"/><circle cx="360.9" cy="133.7" r="1.5"/><circle cx="395.5" cy="88.6" r="1.5"/><circle cx="360.6" cy="134.6" r="1.5"/><circle cx="368.2" cy="120.5" r="1.5"/><circle cx="406.1" cy="81.6" r="1.5"/><circle cx="384.5" cy="114.0" r="1.5"/><circle cx="393.0" cy="103.7" r="1.5"/><circle cx="359.1" cy="135.6" r="1.5"/><circle cx="394.7" cy="96.3" r="1.5"/><circle cx="370.4" cy="118.8" r="1.5"/><circle cx="415.1" cy="77.3" r="1.5"/><circle cx="381.8" cy="106.2" r="1.5"/><circle cx="379.5" cy="119.2" r="1.5"/><circle cx="363.5" cy="137.8" r="1.5"/><circle cx="369.6" cy="124.3" r="1.5"/><circle cx="380.5" cy="109.6" r="1.5"/><circle cx="407.7" cy="85.8" r="1.5"/><circle cx="405.5" cy="92.0" r="1.5"/><circle cx="377.3" cy="113.3" r="1.5"/><circle cx="367.2" cy="119.5" r="1.5"/><circle cx="366.5" cy="126.8" r="1.5"/><circle cx="416.2" cy="79.8" r="1.5"/><circle cx="385.8" cy="110.0" r="1.5"/><circle cx="368.0" cy="118.3" r="1.5"/><circle cx="411.6" cy="79.9" r="1.5"/><circle cx="390.3" cy="98.2" r="1.5"/><circle cx="394.6" cy="90.3" r="1.5"/><circle cx="396.6" cy="88.9" r="1.5"/><circle cx="386.7" cy="109.5" r="1.5"/><circle cx="374.1" cy="114.7" r="1.5"/><circle cx="363.4" cy="127.3" r="1.5"/><circle cx="365.6" cy="125.8" r="1.5"/><circle cx="369.9" cy="125.4" r="1.5"/><circle cx="389.8" cy="104.7" r="1.5"/><circle cx="371.4" cy="121.4" r="1.5"/><circle cx="395.4" cy="98.9" r="1.5"/><circle cx="397.6" cy="89.5" r="1.5"/><circle cx="411.8" cy="83.6" r="1.5"/><circle cx="412.7" cy="75.9" r="1.5"/><circle cx="414.8" cy="83.6" r="1.5"/><circle cx="384.8" cy="107.6" r="1.5"/><circle cx="383.7" cy="109.8" r="1.5"/><circle cx="372.9" cy="120.0" r="1.5"/><circle cx="385.7" cy="105.4" r="1.5"/><circle cx="383.4" cy="109.3" r="1.5"/><circle cx="372.5" cy="120.8" r="1.5"/><circle cx="362.1" cy="136.9" r="1.5"/><circle cx="408.4" cy="75.7" r="1.5"/><circle cx="391.2" cy="103.6" r="1.5"/><circle cx="369.0" cy="124.5" r="1.5"/><circle cx="374.9" cy="120.6" r="1.5"/><circle cx="395.6" cy="90.4" r="1.5"/><circle cx="374.2" cy="121.7" r="1.5"/><circle cx="386.7" cy="102.6" r="1.5"/><circle cx="401.4" cy="82.9" r="1.5"/><circle cx="397.4" cy="84.7" r="1.5"/><circle cx="379.6" cy="107.5" r="1.5"/><circle cx="370.4" cy="120.1" r="1.5"/><circle cx="376.5" cy="120.5" r="1.5"/><circle cx="395.4" cy="89.0" r="1.5"/><circle cx="379.2" cy="108.0" r="1.5"/><circle cx="416.5" cy="69.0" r="1.5"/><circle cx="420.5" cy="65.2" r="1.5"/><circle cx="412.5" cy="78.2" r="1.5"/><circle cx="394.8" cy="99.4" r="1.5"/><circle cx="367.3" cy="122.0" r="1.5"/><circle cx="418.0" cy="64.6" r="1.5"/><circle cx="395.8" cy="115.3" r="1.5"/><circle cx="373.1" cy="116.0" r="1.5"/><circle cx="370.6" cy="121.1" r="1.5"/><circle cx="373.5" cy="115.6" r="1.5"/><circle cx="384.5" cy="106.0" r="1.5"/><circle cx="365.4" cy="124.2" r="1.5"/><circle cx="405.0" cy="79.9" r="1.5"/><circle cx="376.9" cy="111.8" r="1.5"/><circle cx="391.8" cy="106.8" r="1.5"/><circle cx="363.4" cy="127.3" r="1.5"/><circle cx="401.2" cy="89.7" r="1.5"/><circle cx="380.4" cy="116.4" r="1.5"/><circle cx="367.4" cy="123.1" r="1.5"/><circle cx="412.8" cy="87.2" r="1.5"/><circle cx="376.0" cy="112.7" r="1.5"/><circle cx="375.7" cy="110.0" r="1.5"/><circle cx="370.2" cy="117.3" r="1.5"/><circle cx="366.8" cy="123.2" r="1.5"/><circle cx="380.5" cy="109.6" r="1.5"/><circle cx="382.0" cy="107.0" r="1.5"/><circle cx="375.7" cy="121.8" r="1.5"/><circle cx="368.0" cy="122.7" r="1.5"/><circle cx="412.2" cy="77.9" r="1.5"/><circle cx="414.9" cy="71.2" r="1.5"/><circle cx="370.4" cy="122.1" r="1.5"/><circle cx="406.9" cy="77.4" r="1.5"/><circle cx="382.2" cy="111.1" r="1.5"/><circle cx="380.4" cy="108.7" r="1.5"/><circle cx="426.2" cy="55.3" r="1.5"/><circle cx="423.0" cy="66.7" r="1.5"/><circle cx="375.2" cy="113.2" r="1.5"/><circle cx="393.7" cy="96.5" r="1.5"/><circle cx="372.9" cy="117.6" r="1.5"/><circle cx="363.4" cy="131.2" r="1.5"/><circle cx="397.0" cy="90.0" r="1.5"/><circle cx="388.6" cy="97.0" r="1.5"/><circle cx="393.9" cy="97.9" r="1.5"/><circle cx="432.3" cy="53.1" r="1.5"/><circle cx="376.9" cy="113.6" r="1.5"/><circle cx="389.2" cy="107.8" r="1.5"/><circle cx="383.3" cy="99.1" r="1.5"/><circle cx="361.5" cy="128.1" r="1.5"/><circle cx="377.9" cy="116.1" r="1.5"/><circle cx="363.6" cy="134.6" r="1.5"/><circle cx="381.5" cy="109.5" r="1.5"/><circle cx="367.9" cy="126.9" r="1.5"/><circle cx="367.1" cy="119.7" r="1.5"/><circle cx="408.7" cy="82.5" r="1.5"/><circle cx="374.8" cy="117.4" r="1.5"/><circle cx="376.5" cy="118.1" r="1.5"/><circle cx="385.8" cy="104.7" r="1.5"/><circle cx="360.2" cy="134.6" r="1.5"/><circle cx="369.1" cy="126.5" r="1.5"/><circle cx="370.7" cy="122.0" r="1.5"/><circle cx="387.2" cy="108.2" r="1.5"/><circle cx="384.1" cy="101.7" r="1.5"/><circle cx="372.2" cy="124.4" r="1.5"/><circle cx="417.4" cy="74.0" r="1.5"/><circle cx="373.3" cy="121.6" r="1.5"/><circle cx="370.3" cy="126.9" r="1.5"/><circle cx="386.7" cy="97.1" r="1.5"/><circle cx="371.2" cy="128.6" r="1.5"/><circle cx="403.9" cy="78.4" r="1.5"/><circle cx="385.2" cy="112.9" r="1.5"/><circle cx="371.2" cy="121.0" r="1.5"/><circle cx="432.0" cy="42.9" r="1.5"/><circle cx="374.8" cy="125.5" r="1.5"/><circle cx="379.7" cy="118.0" r="1.5"/><circle cx="385.2" cy="100.5" r="1.5"/><circle cx="385.6" cy="105.3" r="1.5"/><circle cx="386.6" cy="107.5" r="1.5"/><circle cx="365.5" cy="127.5" r="1.5"/><circle cx="381.1" cy="114.9" r="1.5"/><circle cx="360.8" cy="120.4" r="1.5"/><circle cx="376.6" cy="109.7" r="1.5"/><circle cx="378.4" cy="115.2" r="1.5"/><circle cx="388.9" cy="101.9" r="1.5"/><circle cx="370.2" cy="111.3" r="1.5"/><circle cx="384.5" cy="98.3" r="1.5"/><circle cx="374.2" cy="120.2" r="1.5"/><circle cx="381.2" cy="109.3" r="1.5"/><circle cx="368.9" cy="125.6" r="1.5"/><circle cx="397.4" cy="97.3" r="1.5"/><circle cx="396.2" cy="97.2" r="1.5"/><circle cx="363.3" cy="131.5" r="1.5"/><circle cx="376.3" cy="122.5" r="1.5"/><circle cx="374.9" cy="124.8" r="1.5"/><circle cx="360.9" cy="134.3" r="1.5"/><circle cx="365.7" cy="126.8" r="1.5"/><circle cx="376.2" cy="111.2" r="1.5"/><circle cx="366.1" cy="128.4" r="1.5"/><circle cx="382.0" cy="110.6" r="1.5"/><circle cx="391.9" cy="96.2" r="1.5"/><circle cx="371.7" cy="118.2" r="1.5"/><circle cx="389.7" cy="102.3" r="1.5"/><circle cx="406.2" cy="85.1" r="1.5"/><circle cx="371.8" cy="114.1" r="1.5"/><circle cx="401.5" cy="91.5" r="1.5"/><circle cx="402.0" cy="92.0" r="1.5"/><circle cx="406.0" cy="94.9" r="1.5"/><circle cx="380.6" cy="109.4" r="1.5"/><circle cx="384.8" cy="108.1" r="1.5"/><circle cx="370.3" cy="115.8" r="1.5"/><circle cx="396.1" cy="97.0" r="1.5"/><circle cx="393.5" cy="93.6" r="1.5"/><circle cx="386.7" cy="100.6" r="1.5"/><circle cx="380.6" cy="104.4" r="1.5"/><circle cx="372.0" cy="125.0" r="1.5"/><circle cx="359.7" cy="129.7" r="1.5"/><circle cx="373.1" cy="123.8" r="1.5"/><circle cx="362.6" cy="128.5" r="1.5"/><circle cx="378.6" cy="114.6" r="1.5"/><circle cx="370.2" cy="123.6" r="1.5"/><circle cx="434.0" cy="59.6" r="1.5"/><circle cx="372.6" cy="128.1" r="1.5"/><circle cx="369.2" cy="121.7" r="1.5"/><circle cx="418.7" cy="69.6" r="1.5"/><circle cx="363.4" cy="132.4" r="1.5"/><circle cx="403.2" cy="88.2" r="1.5"/><circle cx="404.3" cy="72.8" r="1.5"/><circle cx="379.6" cy="110.8" r="1.5"/><circle cx="365.7" cy="128.4" r="1.5"/><circle cx="373.0" cy="113.1" r="1.5"/><circle cx="383.3" cy="112.0" r="1.5"/><circle cx="396.5" cy="95.6" r="1.5"/><circle cx="390.4" cy="100.5" r="1.5"/><circle cx="388.3" cy="104.4" r="1.5"/><circle cx="375.2" cy="114.2" r="1.5"/><circle cx="401.2" cy="86.6" r="1.5"/><circle cx="368.5" cy="126.6" r="1.5"/><circle cx="372.1" cy="120.8" r="1.5"/><circle cx="383.9" cy="107.5" r="1.5"/><circle cx="394.7" cy="98.8" r="1.5"/><circle cx="388.9" cy="102.7" r="1.5"/><circle cx="389.8" cy="105.2" r="1.5"/><circle cx="374.5" cy="120.5" r="1.5"/><circle cx="399.3" cy="99.7" r="1.5"/><circle cx="360.8" cy="135.2" r="1.5"/><circle cx="372.4" cy="118.5" r="1.5"/><circle cx="365.8" cy="127.6" r="1.5"/><circle cx="368.0" cy="127.7" r="1.5"/><circle cx="388.3" cy="106.2" r="1.5"/><circle cx="395.5" cy="98.3" r="1.5"/><circle cx="368.8" cy="110.5" r="1.5"/><circle cx="381.0" cy="110.4" r="1.5"/><circle cx="422.1" cy="70.3" r="1.5"/><circle cx="386.1" cy="109.5" r="1.5"/><circle cx="410.5" cy="71.5" r="1.5"/><circle cx="401.0" cy="84.9" r="1.5"/><circle cx="403.5" cy="86.9" r="1.5"/><circle cx="376.9" cy="111.5" r="1.5"/><circle cx="387.3" cy="102.7" r="1.5"/><circle cx="434.0" cy="59.0" r="1.5"/><circle cx="371.4" cy="120.8" r="1.5"/><circle cx="367.7" cy="116.6" r="1.5"/><circle cx="405.5" cy="79.5" r="1.5"/><circle cx="373.6" cy="115.0" r="1.5"/><circle cx="382.4" cy="108.0" r="1.5"/><circle cx="391.9" cy="96.4" r="1.5"/><circle cx="376.0" cy="107.6" r="1.5"/><circle cx="378.1" cy="112.2" r="1.5"/><circle cx="367.3" cy="122.1" r="1.5"/><circle cx="379.4" cy="107.4" r="1.5"/><circle cx="366.1" cy="124.8" r="1.5"/><circle cx="388.1" cy="96.0" r="1.5"/><circle cx="383.1" cy="107.6" r="1.5"/><circle cx="401.5" cy="86.7" r="1.5"/><circle cx="377.8" cy="116.7" r="1.5"/><circle cx="401.2" cy="74.7" r="1.5"/><circle cx="403.6" cy="85.7" r="1.5"/><circle cx="405.2" cy="85.1" r="1.5"/><circle cx="394.8" cy="89.2" r="1.5"/><circle cx="388.8" cy="105.1" r="1.5"/><circle cx="385.8" cy="99.3" r="1.5"/><circle cx="375.0" cy="120.2" r="1.5"/><circle cx="380.5" cy="111.3" r="1.5"/><circle cx="380.8" cy="112.8" r="1.5"/><circle cx="427.5" cy="52.8" r="1.5"/><circle cx="366.9" cy="126.3" r="1.5"/><circle cx="377.5" cy="116.9" r="1.5"/><circle cx="385.5" cy="107.5" r="1.5"/><circle cx="369.5" cy="123.6" r="1.5"/><circle cx="393.9" cy="100.1" r="1.5"/><circle cx="372.8" cy="116.3" r="1.5"/><circle cx="387.1" cy="101.4" r="1.5"/><circle cx="381.8" cy="109.4" r="1.5"/><circle cx="359.9" cy="136.5" r="1.5"/><circle cx="391.4" cy="97.5" r="1.5"/><circle cx="366.3" cy="130.4" r="1.5"/><circle cx="386.5" cy="104.3" r="1.5"/><circle cx="410.4" cy="81.9" r="1.5"/><circle cx="396.8" cy="97.7" r="1.5"/><circle cx="381.2" cy="114.2" r="1.5"/><circle cx="382.1" cy="112.7" r="1.5"/><circle cx="384.1" cy="98.6" r="1.5"/><circle cx="378.1" cy="115.0" r="1.5"/><circle cx="370.6" cy="122.7" r="1.5"/><circle cx="381.3" cy="106.5" r="1.5"/><circle cx="380.3" cy="109.9" r="1.5"/><circle cx="426.7" cy="57.1" r="1.5"/><circle cx="389.7" cy="107.7" r="1.5"/><circle cx="432.4" cy="66.4" r="1.5"/><circle cx="380.8" cy="90.7" r="1.5"/><circle cx="387.2" cy="104.7" r="1.5"/><circle cx="381.8" cy="98.3" r="1.5"/><circle cx="370.7" cy="121.3" r="1.5"/><circle cx="369.5" cy="119.9" r="1.5"/><circle cx="377.3" cy="119.4" r="1.5"/><circle cx="399.1" cy="90.5" r="1.5"/><circle cx="368.4" cy="124.4" r="1.5"/><circle cx="365.9" cy="125.0" r="1.5"/><circle cx="380.6" cy="110.6" r="1.5"/><circle cx="372.9" cy="121.4" r="1.5"/><circle cx="372.2" cy="123.3" r="1.5"/><circle cx="413.1" cy="93.2" r="1.5"/><circle cx="380.4" cy="107.5" r="1.5"/><circle cx="390.5" cy="108.2" r="1.5"/><circle cx="379.9" cy="113.7" r="1.5"/><circle cx="394.4" cy="88.3" r="1.5"/><circle cx="379.7" cy="114.0" r="1.5"/><circle cx="378.5" cy="111.1" r="1.5"/><circle cx="392.5" cy="100.0" r="1.5"/><circle cx="379.8" cy="109.3" r="1.5"/><circle cx="405.8" cy="85.1" r="1.5"/><circle cx="371.8" cy="122.4" r="1.5"/><circle cx="410.7" cy="72.0" r="1.5"/><circle cx="367.7" cy="125.8" r="1.5"/><circle cx="375.2" cy="130.1" r="1.5"/><circle cx="382.6" cy="110.6" r="1.5"/><circle cx="367.5" cy="123.6" r="1.5"/><circle cx="372.9" cy="123.4" r="1.5"/><circle cx="393.1" cy="94.3" r="1.5"/><circle cx="377.3" cy="111.9" r="1.5"/><circle cx="371.3" cy="114.0" r="1.5"/><circle cx="393.5" cy="101.1" r="1.5"/><circle cx="382.2" cy="107.7" r="1.5"/><circle cx="390.3" cy="109.3" r="1.5"/><circle cx="409.5" cy="84.1" r="1.5"/><circle cx="380.8" cy="110.7" r="1.5"/><circle cx="386.2" cy="103.6" r="1.5"/><circle cx="361.1" cy="132.3" r="1.5"/><circle cx="383.9" cy="108.3" r="1.5"/><circle cx="370.9" cy="123.7" r="1.5"/><circle cx="387.8" cy="105.9" r="1.5"/><circle cx="370.6" cy="120.9" r="1.5"/><circle cx="374.6" cy="115.6" r="1.5"/><circle cx="366.0" cy="125.0" r="1.5"/><circle cx="393.5" cy="92.7" r="1.5"/><circle cx="381.1" cy="105.9" r="1.5"/><circle cx="376.7" cy="122.3" r="1.5"/><circle cx="368.3" cy="126.0" r="1.5"/><circle cx="403.1" cy="89.0" r="1.5"/><circle cx="363.2" cy="131.7" r="1.5"/><circle cx="400.3" cy="72.2" r="1.5"/><circle cx="387.0" cy="101.2" r="1.5"/><circle cx="373.8" cy="118.9" r="1.5"/><circle cx="382.2" cy="106.4" r="1.5"/><circle cx="364.8" cy="124.5" r="1.5"/><circle cx="408.3" cy="84.9" r="1.5"/><circle cx="366.2" cy="127.6" r="1.5"/><circle cx="373.2" cy="115.9" r="1.5"/><circle cx="396.7" cy="92.1" r="1.5"/><circle cx="375.4" cy="111.5" r="1.5"/><circle cx="384.3" cy="105.8" r="1.5"/><circle cx="383.7" cy="104.8" r="1.5"/><circle cx="372.0" cy="122.3" r="1.5"/><circle cx="374.5" cy="121.3" r="1.5"/><circle cx="417.2" cy="72.9" r="1.5"/><circle cx="396.6" cy="108.8" r="1.5"/><circle cx="390.3" cy="99.2" r="1.5"/><circle cx="381.8" cy="106.0" r="1.5"/><circle cx="370.0" cy="122.4" r="1.5"/><circle cx="366.0" cy="127.5" r="1.5"/><circle cx="391.0" cy="95.1" r="1.5"/><circle cx="373.1" cy="119.4" r="1.5"/><circle cx="377.0" cy="111.4" r="1.5"/><circle cx="367.7" cy="118.3" r="1.5"/><circle cx="363.3" cy="127.7" r="1.5"/><circle cx="382.5" cy="105.4" r="1.5"/><circle cx="369.4" cy="121.7" r="1.5"/><circle cx="422.8" cy="66.5" r="1.5"/><circle cx="414.2" cy="75.0" r="1.5"/><circle cx="376.9" cy="115.0" r="1.5"/><circle cx="401.7" cy="83.2" r="1.5"/><circle cx="370.1" cy="127.8" r="1.5"/><circle cx="401.9" cy="90.7" r="1.5"/><circle cx="426.6" cy="60.0" r="1.5"/><circle cx="391.4" cy="104.2" r="1.5"/><circle cx="429.5" cy="62.3" r="1.5"/><circle cx="360.5" cy="134.6" r="1.5"/><circle cx="380.0" cy="110.1" r="1.5"/><circle cx="377.2" cy="111.6" r="1.5"/><circle cx="392.4" cy="91.7" r="1.5"/><circle cx="381.2" cy="108.6" r="1.5"/><circle cx="391.0" cy="104.0" r="1.5"/><circle cx="383.4" cy="107.4" r="1.5"/><circle cx="370.3" cy="120.3" r="1.5"/><circle cx="365.9" cy="122.7" r="1.5"/><circle cx="399.8" cy="103.3" r="1.5"/><circle cx="372.0" cy="119.2" r="1.5"/><circle cx="390.1" cy="110.2" r="1.5"/><circle cx="386.8" cy="101.5" r="1.5"/><circle cx="374.4" cy="116.3" r="1.5"/><circle cx="364.5" cy="125.1" r="1.5"/><circle cx="384.6" cy="103.3" r="1.5"/><circle cx="404.4" cy="84.4" r="1.5"/><circle cx="365.4" cy="129.4" r="1.5"/><circle cx="442.2" cy="46.7" r="1.5"/><circle cx="383.3" cy="104.3" r="1.5"/><circle cx="387.9" cy="104.2" r="1.5"/><circle cx="407.4" cy="78.9" r="1.5"/><circle cx="414.6" cy="84.0" r="1.5"/><circle cx="386.7" cy="99.7" r="1.5"/><circle cx="394.8" cy="99.2" r="1.5"/><circle cx="372.7" cy="122.3" r="1.5"/><circle cx="381.4" cy="112.4" r="1.5"/><circle cx="366.7" cy="128.7" r="1.5"/><circle cx="392.7" cy="103.3" r="1.5"/><circle cx="390.0" cy="95.3" r="1.5"/><circle cx="390.4" cy="97.2" r="1.5"/><circle cx="391.8" cy="92.5" r="1.5"/><circle cx="362.2" cy="126.9" r="1.5"/><circle cx="378.3" cy="117.3" r="1.5"/><circle cx="369.8" cy="121.2" r="1.5"/><circle cx="376.7" cy="109.8" r="1.5"/><circle cx="390.5" cy="89.8" r="1.5"/><circle cx="411.0" cy="88.7" r="1.5"/><circle cx="378.5" cy="119.2" r="1.5"/><circle cx="371.7" cy="119.1" r="1.5"/><circle cx="374.6" cy="118.9" r="1.5"/><circle cx="379.5" cy="116.5" r="1.5"/><circle cx="378.2" cy="112.3" r="1.5"/><circle cx="384.7" cy="117.1" r="1.5"/><circle cx="393.0" cy="109.8" r="1.5"/><circle cx="364.1" cy="129.0" r="1.5"/><circle cx="363.6" cy="129.1" r="1.5"/><circle cx="372.0" cy="118.3" r="1.5"/><circle cx="373.6" cy="115.4" r="1.5"/><circle cx="410.2" cy="79.7" r="1.5"/><circle cx="377.2" cy="115.8" r="1.5"/><circle cx="398.1" cy="96.8" r="1.5"/><circle cx="368.2" cy="129.7" r="1.5"/><circle cx="365.8" cy="128.4" r="1.5"/><circle cx="399.7" cy="85.9" r="1.5"/><circle cx="368.5" cy="122.2" r="1.5"/><circle cx="378.7" cy="105.3" r="1.5"/><circle cx="424.5" cy="67.5" r="1.5"/><circle cx="388.5" cy="111.5" r="1.5"/><circle cx="374.1" cy="115.2" r="1.5"/><circle cx="398.1" cy="87.5" r="1.5"/><circle cx="389.1" cy="108.0" r="1.5"/><circle cx="361.4" cy="136.0" r="1.5"/><circle cx="435.2" cy="55.0" r="1.5"/><circle cx="401.1" cy="86.1" r="1.5"/><circle cx="380.3" cy="116.2" r="1.5"/><circle cx="374.0" cy="119.5" r="1.5"/><circle cx="371.5" cy="123.6" r="1.5"/><circle cx="362.2" cy="134.2" r="1.5"/><circle cx="383.6" cy="113.9" r="1.5"/><circle cx="372.5" cy="119.5" r="1.5"/><circle cx="367.5" cy="126.5" r="1.5"/><circle cx="371.5" cy="123.3" r="1.5"/><circle cx="429.6" cy="79.4" r="1.5"/><circle cx="372.5" cy="113.9" r="1.5"/><circle cx="402.2" cy="94.4" r="1.5"/><circle cx="411.5" cy="80.4" r="1.5"/><circle cx="383.2" cy="113.5" r="1.5"/><circle cx="395.5" cy="93.9" r="1.5"/><circle cx="369.0" cy="128.6" r="1.5"/><circle cx="376.7" cy="115.1" r="1.5"/><circle cx="383.8" cy="108.9" r="1.5"/><circle cx="369.6" cy="120.1" r="1.5"/><circle cx="370.1" cy="126.2" r="1.5"/><circle cx="425.5" cy="70.0" r="1.5"/><circle cx="405.0" cy="87.5" r="1.5"/><circle cx="381.0" cy="102.4" r="1.5"/><circle cx="368.7" cy="128.7" r="1.5"/><circle cx="383.7" cy="106.9" r="1.5"/><circle cx="368.8" cy="126.0" r="1.5"/><circle cx="378.3" cy="112.6" r="1.5"/><circle cx="382.1" cy="107.1" r="1.5"/><circle cx="384.2" cy="107.0" r="1.5"/><circle cx="373.1" cy="118.4" r="1.5"/><circle cx="395.5" cy="94.4" r="1.5"/><circle cx="407.4" cy="85.5" r="1.5"/><circle cx="376.5" cy="116.5" r="1.5"/><circle cx="384.9" cy="96.4" r="1.5"/><circle cx="375.0" cy="118.7" r="1.5"/><circle cx="385.0" cy="110.2" r="1.5"/><circle cx="408.6" cy="84.1" r="1.5"/><circle cx="374.2" cy="117.5" r="1.5"/><circle cx="372.3" cy="118.9" r="1.5"/><circle cx="378.9" cy="111.3" r="1.5"/><circle cx="376.8" cy="111.2" r="1.5"/><circle cx="385.2" cy="117.2" r="1.5"/><circle cx="382.7" cy="117.1" r="1.5"/><circle cx="362.3" cy="131.0" r="1.5"/><circle cx="403.7" cy="88.0" r="1.5"/><circle cx="376.6" cy="120.6" r="1.5"/><circle cx="380.1" cy="109.7" r="1.5"/><circle cx="374.1" cy="114.2" r="1.5"/><circle cx="405.1" cy="80.0" r="1.5"/><circle cx="399.8" cy="99.3" r="1.5"/><circle cx="383.3" cy="105.9" r="1.5"/><circle cx="390.0" cy="97.2" r="1.5"/><circle cx="386.0" cy="97.5" r="1.5"/><circle cx="371.8" cy="116.5" r="1.5"/><circle cx="378.0" cy="113.6" r="1.5"/><circle cx="411.8" cy="78.7" r="1.5"/><circle cx="391.3" cy="99.5" r="1.5"/><circle cx="437.6" cy="52.2" r="1.5"/><circle cx="391.5" cy="88.0" r="1.5"/><circle cx="365.7" cy="125.0" r="1.5"/><circle cx="388.9" cy="106.0" r="1.5"/><circle cx="378.6" cy="116.7" r="1.5"/><circle cx="365.5" cy="126.4" r="1.5"/><circle cx="365.4" cy="129.3" r="1.5"/><circle cx="404.2" cy="88.4" r="1.5"/><circle cx="398.2" cy="104.5" r="1.5"/><circle cx="370.8" cy="130.5" r="1.5"/><circle cx="376.6" cy="122.1" r="1.5"/><circle cx="379.5" cy="113.1" r="1.5"/><circle cx="392.8" cy="96.4" r="1.5"/><circle cx="385.6" cy="105.3" r="1.5"/><circle cx="411.4" cy="84.1" r="1.5"/><circle cx="375.7" cy="109.7" r="1.5"/><circle cx="415.8" cy="78.1" r="1.5"/><circle cx="395.5" cy="90.8" r="1.5"/><circle cx="384.9" cy="98.8" r="1.5"/><circle cx="383.4" cy="111.2" r="1.5"/><circle cx="391.0" cy="100.1" r="1.5"/><circle cx="397.7" cy="98.1" r="1.5"/><circle cx="377.9" cy="110.2" r="1.5"/><circle cx="375.9" cy="117.7" r="1.5"/><circle cx="378.2" cy="113.1" r="1.5"/><circle cx="376.5" cy="110.8" r="1.5"/><circle cx="398.8" cy="92.1" r="1.5"/><circle cx="394.1" cy="101.9" r="1.5"/><circle cx="363.9" cy="125.9" r="1.5"/><circle cx="375.0" cy="116.7" r="1.5"/><circle cx="367.7" cy="116.7" r="1.5"/><circle cx="378.6" cy="106.8" r="1.5"/><circle cx="376.0" cy="118.3" r="1.5"/><circle cx="372.1" cy="121.3" r="1.5"/><circle cx="392.2" cy="103.7" r="1.5"/><circle cx="375.7" cy="116.1" r="1.5"/><circle cx="384.8" cy="106.8" r="1.5"/><circle cx="378.3" cy="110.9" r="1.5"/><circle cx="392.3" cy="98.8" r="1.5"/><circle cx="391.4" cy="107.4" r="1.5"/><circle cx="377.7" cy="117.6" r="1.5"/><circle cx="388.4" cy="96.6" r="1.5"/><circle cx="384.1" cy="102.7" r="1.5"/><circle cx="409.8" cy="82.3" r="1.5"/><circle cx="371.8" cy="121.2" r="1.5"/><circle cx="384.8" cy="97.2" r="1.5"/><circle cx="381.3" cy="110.6" r="1.5"/><circle cx="378.8" cy="122.5" r="1.5"/><circle cx="425.7" cy="59.5" r="1.5"/><circle cx="386.6" cy="113.8" r="1.5"/><circle cx="401.2" cy="89.3" r="1.5"/><circle cx="402.6" cy="103.2" r="1.5"/><circle cx="386.3" cy="104.4" r="1.5"/><circle cx="387.1" cy="98.5" r="1.5"/><circle cx="371.8" cy="128.4" r="1.5"/><circle cx="373.0" cy="114.1" r="1.5"/><circle cx="383.2" cy="106.7" r="1.5"/><circle cx="363.7" cy="131.5" r="1.5"/><circle cx="397.9" cy="102.0" r="1.5"/><circle cx="417.1" cy="66.6" r="1.5"/><circle cx="367.5" cy="124.5" r="1.5"/><circle cx="389.6" cy="99.3" r="1.5"/><circle cx="399.4" cy="93.5" r="1.5"/><circle cx="374.0" cy="121.3" r="1.5"/><circle cx="372.1" cy="107.0" r="1.5"/><circle cx="365.4" cy="130.4" r="1.5"/><circle cx="392.1" cy="95.0" r="1.5"/><circle cx="381.1" cy="117.8" r="1.5"/><circle cx="388.5" cy="107.5" r="1.5"/><circle cx="371.8" cy="125.8" r="1.5"/><circle cx="382.6" cy="103.7" r="1.5"/><circle cx="399.3" cy="101.7" r="1.5"/><circle cx="382.4" cy="114.4" r="1.5"/><circle cx="394.7" cy="93.4" r="1.5"/><circle cx="403.5" cy="86.4" r="1.5"/><circle cx="384.6" cy="97.6" r="1.5"/><circle cx="391.0" cy="84.0" r="1.5"/><circle cx="399.6" cy="88.3" r="1.5"/><circle cx="398.1" cy="89.5" r="1.5"/><circle cx="406.6" cy="95.6" r="1.5"/><circle cx="383.8" cy="111.9" r="1.5"/><circle cx="379.2" cy="114.2" r="1.5"/><circle cx="429.6" cy="62.9" r="1.5"/><circle cx="384.5" cy="113.4" r="1.5"/><circle cx="391.5" cy="102.1" r="1.5"/><circle cx="424.1" cy="66.9" r="1.5"/><circle cx="360.3" cy="130.4" r="1.5"/><circle cx="377.1" cy="113.5" r="1.5"/><circle cx="360.8" cy="133.4" r="1.5"/><circle cx="404.7" cy="88.2" r="1.5"/><circle cx="437.5" cy="51.9" r="1.5"/><circle cx="379.3" cy="115.6" r="1.5"/><circle cx="391.1" cy="101.7" r="1.5"/><circle cx="394.7" cy="105.7" r="1.5"/><circle cx="362.9" cy="128.4" r="1.5"/><circle cx="377.1" cy="111.5" r="1.5"/><circle cx="387.7" cy="104.3" r="1.5"/><circle cx="366.2" cy="125.3" r="1.5"/><circle cx="374.9" cy="116.1" r="1.5"/><circle cx="403.5" cy="75.8" r="1.5"/><circle cx="390.5" cy="100.1" r="1.5"/><circle cx="368.6" cy="128.3" r="1.5"/><circle cx="370.1" cy="126.1" r="1.5"/><circle cx="389.8" cy="98.4" r="1.5"/><circle cx="366.3" cy="123.4" r="1.5"/><circle cx="371.9" cy="117.9" r="1.5"/><circle cx="380.3" cy="108.3" r="1.5"/><circle cx="399.2" cy="91.2" r="1.5"/><circle cx="374.0" cy="123.8" r="1.5"/><circle cx="377.8" cy="117.2" r="1.5"/><circle cx="384.1" cy="115.7" r="1.5"/><circle cx="375.9" cy="117.9" r="1.5"/><circle cx="378.3" cy="119.2" r="1.5"/><circle cx="412.7" cy="77.8" r="1.5"/><circle cx="415.6" cy="76.6" r="1.5"/><circle cx="388.5" cy="112.4" r="1.5"/><circle cx="386.9" cy="101.5" r="1.5"/><circle cx="386.1" cy="102.3" r="1.5"/><circle cx="407.9" cy="91.8" r="1.5"/><circle cx="377.7" cy="114.0" r="1.5"/><circle cx="400.8" cy="86.5" r="1.5"/><circle cx="396.5" cy="96.5" r="1.5"/><circle cx="417.8" cy="67.9" r="1.5"/><circle cx="399.4" cy="90.9" r="1.5"/><circle cx="377.0" cy="111.1" r="1.5"/><circle cx="388.7" cy="102.2" r="1.5"/><circle cx="388.1" cy="113.1" r="1.5"/><circle cx="371.4" cy="119.5" r="1.5"/><circle cx="376.4" cy="113.0" r="1.5"/><circle cx="368.4" cy="123.6" r="1.5"/><circle cx="364.9" cy="129.5" r="1.5"/><circle cx="392.7" cy="91.9" r="1.5"/><circle cx="367.3" cy="126.7" r="1.5"/><circle cx="384.4" cy="105.2" r="1.5"/><circle cx="373.4" cy="118.4" r="1.5"/><circle cx="400.8" cy="95.1" r="1.5"/><circle cx="388.3" cy="103.9" r="1.5"/><circle cx="388.9" cy="102.8" r="1.5"/><circle cx="397.3" cy="89.0" r="1.5"/><circle cx="384.0" cy="101.1" r="1.5"/><circle cx="368.4" cy="120.6" r="1.5"/><circle cx="382.7" cy="111.8" r="1.5"/><circle cx="388.7" cy="101.0" r="1.5"/><circle cx="381.3" cy="112.1" r="1.5"/><circle cx="386.8" cy="107.8" r="1.5"/><circle cx="367.5" cy="126.1" r="1.5"/><circle cx="386.0" cy="108.7" r="1.5"/><circle cx="430.2" cy="70.7" r="1.5"/><circle cx="370.8" cy="130.2" r="1.5"/><circle cx="371.1" cy="120.9" r="1.5"/><circle cx="394.8" cy="90.6" r="1.5"/><circle cx="421.1" cy="76.1" r="1.5"/><circle cx="405.8" cy="78.6" r="1.5"/><circle cx="365.9" cy="128.3" r="1.5"/><circle cx="412.1" cy="77.4" r="1.5"/><circle cx="385.8" cy="109.7" r="1.5"/><circle cx="372.8" cy="120.5" r="1.5"/><circle cx="393.7" cy="98.5" r="1.5"/><circle cx="388.4" cy="114.6" r="1.5"/><circle cx="390.7" cy="99.9" r="1.5"/><circle cx="367.8" cy="125.5" r="1.5"/><circle cx="432.3" cy="76.7" r="1.5"/><circle cx="380.2" cy="109.3" r="1.5"/><circle cx="399.9" cy="91.8" r="1.5"/><circle cx="364.1" cy="128.4" r="1.5"/><circle cx="367.7" cy="124.1" r="1.5"/><circle cx="391.5" cy="102.2" r="1.5"/><circle cx="396.7" cy="100.6" r="1.5"/><circle cx="373.4" cy="120.8" r="1.5"/><circle cx="395.0" cy="98.9" r="1.5"/><circle cx="373.4" cy="111.2" r="1.5"/><circle cx="374.7" cy="110.9" r="1.5"/><circle cx="373.2" cy="121.1" r="1.5"/><circle cx="369.5" cy="124.7" r="1.5"/><circle cx="366.1" cy="125.9" r="1.5"/><circle cx="383.1" cy="106.5" r="1.5"/><circle cx="401.8" cy="93.7" r="1.5"/><circle cx="393.9" cy="102.9" r="1.5"/><circle cx="435.3" cy="42.4" r="1.5"/><circle cx="378.9" cy="109.0" r="1.5"/><circle cx="388.5" cy="110.7" r="1.5"/><circle cx="371.8" cy="127.0" r="1.5"/><circle cx="383.3" cy="112.3" r="1.5"/><circle cx="399.7" cy="90.5" r="1.5"/><circle cx="386.8" cy="102.6" r="1.5"/><circle cx="371.1" cy="122.8" r="1.5"/><circle cx="369.5" cy="128.6" r="1.5"/><circle cx="374.1" cy="117.6" r="1.5"/><circle cx="368.5" cy="122.4" r="1.5"/><circle cx="367.6" cy="125.4" r="1.5"/><circle cx="384.7" cy="109.5" r="1.5"/><circle cx="366.9" cy="124.3" r="1.5"/><circle cx="371.6" cy="121.3" r="1.5"/><circle cx="388.5" cy="108.7" r="1.5"/><circle cx="362.9" cy="130.1" r="1.5"/><circle cx="391.8" cy="106.4" r="1.5"/><circle cx="369.2" cy="120.4" r="1.5"/><circle cx="366.1" cy="125.5" r="1.5"/><circle cx="377.2" cy="119.0" r="1.5"/><circle cx="374.8" cy="116.9" r="1.5"/><circle cx="377.3" cy="110.1" r="1.5"/><circle cx="409.0" cy="95.7" r="1.5"/><circle cx="382.8" cy="109.8" r="1.5"/><circle cx="364.6" cy="123.7" r="1.5"/><circle cx="375.4" cy="122.9" r="1.5"/><circle cx="388.0" cy="104.6" r="1.5"/><circle cx="385.7" cy="112.7" r="1.5"/><circle cx="369.4" cy="123.6" r="1.5"/><circle cx="374.9" cy="126.6" r="1.5"/><circle cx="373.3" cy="125.2" r="1.5"/><circle cx="367.2" cy="127.5" r="1.5"/><circle cx="380.6" cy="111.0" r="1.5"/><circle cx="373.2" cy="118.0" r="1.5"/><circle cx="378.9" cy="111.7" r="1.5"/><circle cx="382.8" cy="104.3" r="1.5"/><circle cx="373.0" cy="117.1" r="1.5"/><circle cx="409.6" cy="77.1" r="1.5"/><circle cx="384.0" cy="112.4" r="1.5"/><circle cx="378.7" cy="114.2" r="1.5"/><circle cx="382.9" cy="95.2" r="1.5"/><circle cx="407.3" cy="70.1" r="1.5"/><circle cx="369.0" cy="121.1" r="1.5"/><circle cx="394.6" cy="93.2" r="1.5"/><circle cx="368.8" cy="120.9" r="1.5"/><circle cx="390.3" cy="103.5" r="1.5"/><circle cx="367.1" cy="119.7" r="1.5"/><circle cx="378.1" cy="115.7" r="1.5"/><circle cx="372.5" cy="120.4" r="1.5"/><circle cx="375.5" cy="108.6" r="1.5"/><circle cx="397.9" cy="105.2" r="1.5"/><circle cx="400.5" cy="88.9" r="1.5"/><circle cx="381.2" cy="118.2" r="1.5"/><circle cx="373.2" cy="121.7" r="1.5"/><circle cx="397.1" cy="90.3" r="1.5"/><circle cx="368.0" cy="126.0" r="1.5"/><circle cx="365.4" cy="127.2" r="1.5"/><circle cx="380.1" cy="115.3" r="1.5"/><circle cx="379.9" cy="112.7" r="1.5"/><circle cx="384.6" cy="112.8" r="1.5"/><circle cx="381.4" cy="112.4" r="1.5"/><circle cx="371.2" cy="126.3" r="1.5"/><circle cx="375.9" cy="114.0" r="1.5"/><circle cx="372.4" cy="124.9" r="1.5"/><circle cx="398.3" cy="89.4" r="1.5"/><circle cx="371.7" cy="122.4" r="1.5"/><circle cx="367.8" cy="126.1" r="1.5"/><circle cx="378.9" cy="116.7" r="1.5"/><circle cx="373.5" cy="118.6" r="1.5"/><circle cx="386.3" cy="114.5" r="1.5"/><circle cx="361.6" cy="130.4" r="1.5"/><circle cx="395.3" cy="111.9" r="1.5"/><circle cx="385.5" cy="105.3" r="1.5"/><circle cx="376.3" cy="117.6" r="1.5"/><circle cx="373.1" cy="124.5" r="1.5"/><circle cx="387.8" cy="103.7" r="1.5"/><circle cx="377.4" cy="116.2" r="1.5"/><circle cx="387.5" cy="94.8" r="1.5"/><circle cx="418.5" cy="75.8" r="1.5"/><circle cx="382.3" cy="101.3" r="1.5"/><circle cx="401.3" cy="82.0" r="1.5"/><circle cx="391.3" cy="103.5" r="1.5"/><circle cx="373.4" cy="122.2" r="1.5"/><circle cx="405.8" cy="77.4" r="1.5"/><circle cx="394.1" cy="92.0" r="1.5"/><circle cx="369.7" cy="122.6" r="1.5"/><circle cx="386.5" cy="106.6" r="1.5"/><circle cx="420.0" cy="79.5" r="1.5"/><circle cx="398.2" cy="95.4" r="1.5"/><circle cx="394.8" cy="102.0" r="1.5"/><circle cx="375.6" cy="122.7" r="1.5"/><circle cx="381.2" cy="112.2" r="1.5"/><circle cx="388.8" cy="94.2" r="1.5"/><circle cx="372.2" cy="114.6" r="1.5"/><circle cx="363.6" cy="129.8" r="1.5"/><circle cx="414.1" cy="76.4" r="1.5"/><circle cx="372.8" cy="117.9" r="1.5"/><circle cx="414.2" cy="68.2" r="1.5"/><circle cx="378.9" cy="112.1" r="1.5"/><circle cx="370.5" cy="123.9" r="1.5"/><circle cx="368.3" cy="125.9" r="1.5"/><circle cx="400.7" cy="84.1" r="1.5"/><circle cx="376.9" cy="105.2" r="1.5"/><circle cx="366.3" cy="128.7" r="1.5"/><circle cx="387.8" cy="114.0" r="1.5"/><circle cx="381.4" cy="107.2" r="1.5"/><circle cx="373.2" cy="119.7" r="1.5"/><circle cx="372.6" cy="128.0" r="1.5"/><circle cx="372.7" cy="115.5" r="1.5"/><circle cx="381.5" cy="110.4" r="1.5"/><circle cx="374.6" cy="115.7" r="1.5"/><circle cx="368.0" cy="131.3" r="1.5"/><circle cx="399.4" cy="92.3" r="1.5"/><circle cx="407.5" cy="91.2" r="1.5"/><circle cx="379.0" cy="112.0" r="1.5"/><circle cx="381.7" cy="116.0" r="1.5"/><circle cx="399.6" cy="94.0" r="1.5"/><circle cx="372.9" cy="125.1" r="1.5"/><circle cx="387.2" cy="106.4" r="1.5"/><circle cx="405.0" cy="89.2" r="1.5"/><circle cx="378.0" cy="111.8" r="1.5"/><circle cx="361.9" cy="127.8" r="1.5"/><circle cx="367.5" cy="126.1" r="1.5"/><circle cx="372.2" cy="132.6" r="1.5"/><circle cx="381.1" cy="102.6" r="1.5"/><circle cx="363.7" cy="124.8" r="1.5"/><circle cx="365.2" cy="126.0" r="1.5"/><circle cx="388.2" cy="102.7" r="1.5"/><circle cx="427.9" cy="53.2" r="1.5"/><circle cx="392.5" cy="94.0" r="1.5"/><circle cx="379.3" cy="106.9" r="1.5"/><circle cx="403.1" cy="89.2" r="1.5"/><circle cx="402.0" cy="94.6" r="1.5"/><circle cx="399.9" cy="95.1" r="1.5"/><circle cx="367.2" cy="126.1" r="1.5"/><circle cx="421.5" cy="69.2" r="1.5"/><circle cx="365.7" cy="127.3" r="1.5"/><circle cx="376.9" cy="114.2" r="1.5"/><circle cx="360.1" cy="133.3" r="1.5"/><circle cx="386.6" cy="107.4" r="1.5"/><circle cx="378.5" cy="120.5" r="1.5"/><circle cx="392.6" cy="94.7" r="1.5"/><circle cx="377.7" cy="112.2" r="1.5"/><circle cx="367.3" cy="122.3" r="1.5"/><circle cx="380.3" cy="109.8" r="1.5"/><circle cx="365.4" cy="126.5" r="1.5"/><circle cx="427.1" cy="63.8" r="1.5"/><circle cx="363.6" cy="134.9" r="1.5"/><circle cx="392.5" cy="105.5" r="1.5"/><circle cx="368.3" cy="126.6" r="1.5"/><circle cx="371.7" cy="115.1" r="1.5"/><circle cx="373.8" cy="121.9" r="1.5"/><circle cx="394.8" cy="98.7" r="1.5"/><circle cx="381.8" cy="115.2" r="1.5"/><circle cx="383.4" cy="110.8" r="1.5"/><circle cx="365.8" cy="131.2" r="1.5"/><circle cx="396.0" cy="118.2" r="1.5"/><circle cx="377.7" cy="126.1" r="1.5"/><circle cx="375.3" cy="114.6" r="1.5"/><circle cx="410.0" cy="81.1" r="1.5"/><circle cx="398.3" cy="96.7" r="1.5"/><circle cx="382.5" cy="105.3" r="1.5"/><circle cx="395.0" cy="91.3" r="1.5"/><circle cx="367.7" cy="132.1" r="1.5"/><circle cx="379.4" cy="113.6" r="1.5"/><circle cx="384.7" cy="102.2" r="1.5"/><circle cx="376.1" cy="118.9" r="1.5"/><circle cx="373.1" cy="120.7" r="1.5"/><circle cx="380.0" cy="108.1" r="1.5"/><circle cx="367.8" cy="126.0" r="1.5"/><circle cx="380.1" cy="117.2" r="1.5"/><circle cx="403.1" cy="92.5" r="1.5"/><circle cx="390.8" cy="107.7" r="1.5"/><circle cx="386.2" cy="103.1" r="1.5"/><circle cx="374.2" cy="124.8" r="1.5"/><circle cx="427.6" cy="56.7" r="1.5"/><circle cx="383.2" cy="116.2" r="1.5"/><circle cx="369.0" cy="123.7" r="1.5"/><circle cx="431.4" cy="70.7" r="1.5"/><circle cx="429.0" cy="64.8" r="1.5"/><circle cx="383.3" cy="104.1" r="1.5"/><circle cx="393.2" cy="92.5" r="1.5"/><circle cx="389.5" cy="95.8" r="1.5"/><circle cx="385.0" cy="107.4" r="1.5"/><circle cx="396.9" cy="84.1" r="1.5"/><circle cx="373.5" cy="118.2" r="1.5"/><circle cx="373.6" cy="116.6" r="1.5"/><circle cx="369.9" cy="124.2" r="1.5"/><circle cx="389.2" cy="97.1" r="1.5"/><circle cx="382.3" cy="108.4" r="1.5"/><circle cx="381.0" cy="106.2" r="1.5"/><circle cx="400.8" cy="87.8" r="1.5"/><circle cx="375.1" cy="114.7" r="1.5"/><circle cx="379.8" cy="115.5" r="1.5"/><circle cx="390.3" cy="103.6" r="1.5"/><circle cx="424.3" cy="76.1" r="1.5"/><circle cx="423.8" cy="69.6" r="1.5"/><circle cx="395.0" cy="97.6" r="1.5"/><circle cx="384.3" cy="106.3" r="1.5"/><circle cx="394.1" cy="104.2" r="1.5"/><circle cx="394.4" cy="79.8" r="1.5"/><circle cx="401.0" cy="83.1" r="1.5"/><circle cx="381.8" cy="104.8" r="1.5"/><circle cx="365.9" cy="123.9" r="1.5"/><circle cx="394.7" cy="110.5" r="1.5"/><circle cx="376.0" cy="117.5" r="1.5"/><circle cx="382.5" cy="103.0" r="1.5"/><circle cx="372.7" cy="128.7" r="1.5"/><circle cx="385.8" cy="102.5" r="1.5"/><circle cx="366.6" cy="129.2" r="1.5"/><circle cx="378.1" cy="116.1" r="1.5"/><circle cx="394.9" cy="95.5" r="1.5"/><circle cx="378.9" cy="121.1" r="1.5"/><circle cx="377.7" cy="113.8" r="1.5"/><circle cx="407.8" cy="87.7" r="1.5"/><circle cx="441.7" cy="55.9" r="1.5"/><circle cx="380.1" cy="109.1" r="1.5"/><circle cx="378.5" cy="99.3" r="1.5"/><circle cx="370.0" cy="121.6" r="1.5"/><circle cx="387.8" cy="101.3" r="1.5"/><circle cx="400.9" cy="90.9" r="1.5"/><circle cx="387.4" cy="107.9" r="1.5"/><circle cx="376.2" cy="115.2" r="1.5"/><circle cx="391.6" cy="92.3" r="1.5"/><circle cx="383.1" cy="108.1" r="1.5"/><circle cx="377.4" cy="106.7" r="1.5"/><circle cx="369.5" cy="124.1" r="1.5"/><circle cx="389.7" cy="89.5" r="1.5"/><circle cx="383.0" cy="116.4" r="1.5"/><circle cx="408.3" cy="79.4" r="1.5"/><circle cx="373.8" cy="116.7" r="1.5"/><circle cx="384.2" cy="106.6" r="1.5"/><circle cx="390.2" cy="107.2" r="1.5"/><circle cx="375.4" cy="121.5" r="1.5"/><circle cx="377.9" cy="115.4" r="1.5"/><circle cx="378.6" cy="113.2" r="1.5"/><circle cx="389.1" cy="108.7" r="1.5"/><circle cx="417.0" cy="81.5" r="1.5"/><circle cx="391.3" cy="97.5" r="1.5"/><circle cx="365.7" cy="124.2" r="1.5"/><circle cx="371.0" cy="123.7" r="1.5"/><circle cx="381.7" cy="113.5" r="1.5"/><circle cx="395.2" cy="100.4" r="1.5"/><circle cx="385.9" cy="94.4" r="1.5"/><circle cx="393.6" cy="95.5" r="1.5"/><circle cx="372.6" cy="120.3" r="1.5"/><circle cx="378.4" cy="109.8" r="1.5"/><circle cx="365.4" cy="120.6" r="1.5"/><circle cx="383.1" cy="103.7" r="1.5"/><circle cx="422.1" cy="79.2" r="1.5"/><circle cx="370.6" cy="131.4" r="1.5"/><circle cx="393.0" cy="100.8" r="1.5"/><circle cx="390.3" cy="103.3" r="1.5"/><circle cx="415.1" cy="84.3" r="1.5"/><circle cx="387.9" cy="105.9" r="1.5"/><circle cx="398.6" cy="99.2" r="1.5"/><circle cx="387.6" cy="92.7" r="1.5"/><circle cx="390.9" cy="100.7" r="1.5"/><circle cx="371.0" cy="126.7" r="1.5"/><circle cx="369.0" cy="129.6" r="1.5"/><circle cx="386.4" cy="107.9" r="1.5"/><circle cx="382.5" cy="106.8" r="1.5"/><circle cx="384.8" cy="104.9" r="1.5"/><circle cx="407.0" cy="84.8" r="1.5"/><circle cx="367.3" cy="136.3" r="1.5"/><circle cx="382.0" cy="112.4" r="1.5"/><circle cx="404.6" cy="91.5" r="1.5"/><circle cx="367.6" cy="126.4" r="1.5"/><circle cx="370.5" cy="126.5" r="1.5"/><circle cx="363.1" cy="131.5" r="1.5"/><circle cx="393.4" cy="101.8" r="1.5"/><circle cx="389.9" cy="88.2" r="1.5"/><circle cx="365.4" cy="125.6" r="1.5"/><circle cx="404.4" cy="88.3" r="1.5"/><circle cx="375.7" cy="117.0" r="1.5"/><circle cx="377.4" cy="115.4" r="1.5"/><circle cx="390.3" cy="100.5" r="1.5"/><circle cx="396.4" cy="97.5" r="1.5"/><circle cx="370.1" cy="122.7" r="1.5"/><circle cx="386.3" cy="100.7" r="1.5"/><circle cx="381.0" cy="107.6" r="1.5"/><circle cx="411.1" cy="78.3" r="1.5"/><circle cx="372.4" cy="115.4" r="1.5"/><circle cx="410.7" cy="79.3" r="1.5"/><circle cx="363.3" cy="132.9" r="1.5"/><circle cx="392.8" cy="108.2" r="1.5"/><circle cx="414.1" cy="81.9" r="1.5"/><circle cx="394.1" cy="98.0" r="1.5"/><circle cx="408.3" cy="80.6" r="1.5"/><circle cx="401.5" cy="83.6" r="1.5"/><circle cx="365.7" cy="129.1" r="1.5"/><circle cx="373.8" cy="121.8" r="1.5"/><circle cx="405.3" cy="81.3" r="1.5"/><circle cx="386.6" cy="99.7" r="1.5"/><circle cx="380.3" cy="113.9" r="1.5"/><circle cx="411.5" cy="77.7" r="1.5"/><circle cx="390.4" cy="94.4" r="1.5"/><circle cx="361.6" cy="129.4" r="1.5"/><circle cx="368.3" cy="124.8" r="1.5"/><circle cx="383.7" cy="117.9" r="1.5"/><circle cx="376.6" cy="110.6" r="1.5"/><circle cx="369.9" cy="120.7" r="1.5"/><circle cx="378.8" cy="113.0" r="1.5"/><circle cx="376.0" cy="118.2" r="1.5"/><circle cx="381.9" cy="115.8" r="1.5"/><circle cx="380.9" cy="111.8" r="1.5"/><circle cx="377.2" cy="115.6" r="1.5"/><circle cx="375.6" cy="112.6" r="1.5"/><circle cx="382.1" cy="115.4" r="1.5"/><circle cx="379.6" cy="106.6" r="1.5"/><circle cx="382.0" cy="110.0" r="1.5"/><circle cx="381.3" cy="105.7" r="1.5"/><circle cx="371.3" cy="124.9" r="1.5"/><circle cx="385.2" cy="105.2" r="1.5"/><circle cx="368.9" cy="110.5" r="1.5"/><circle cx="391.1" cy="99.0" r="1.5"/><circle cx="417.7" cy="83.6" r="1.5"/><circle cx="380.5" cy="113.1" r="1.5"/><circle cx="383.2" cy="106.5" r="1.5"/><circle cx="432.5" cy="69.4" r="1.5"/><circle cx="380.7" cy="117.8" r="1.5"/><circle cx="368.8" cy="123.3" r="1.5"/><circle cx="388.6" cy="108.0" r="1.5"/><circle cx="370.6" cy="119.8" r="1.5"/><circle cx="393.7" cy="104.3" r="1.5"/><circle cx="367.5" cy="131.4" r="1.5"/><circle cx="383.8" cy="111.8" r="1.5"/><circle cx="386.7" cy="98.1" r="1.5"/><circle cx="403.7" cy="93.1" r="1.5"/><circle cx="389.0" cy="102.9" r="1.5"/><circle cx="368.5" cy="117.4" r="1.5"/><circle cx="385.7" cy="110.8" r="1.5"/><circle cx="383.7" cy="114.1" r="1.5"/><circle cx="413.6" cy="76.6" r="1.5"/><circle cx="376.6" cy="114.1" r="1.5"/><circle cx="378.7" cy="120.6" r="1.5"/><circle cx="389.4" cy="111.2" r="1.5"/><circle cx="378.8" cy="124.9" r="1.5"/><circle cx="369.5" cy="124.0" r="1.5"/><circle cx="372.6" cy="116.5" r="1.5"/><circle cx="384.2" cy="104.5" r="1.5"/><circle cx="381.9" cy="103.7" r="1.5"/><circle cx="370.3" cy="123.4" r="1.5"/><circle cx="378.8" cy="114.6" r="1.5"/><circle cx="383.3" cy="106.8" r="1.5"/><circle cx="361.5" cy="127.6" r="1.5"/><circle cx="365.1" cy="130.6" r="1.5"/><circle cx="361.8" cy="129.8" r="1.5"/><circle cx="363.7" cy="130.2" r="1.5"/><circle cx="385.4" cy="108.2" r="1.5"/><circle cx="383.9" cy="104.4" r="1.5"/><circle cx="362.9" cy="132.7" r="1.5"/><circle cx="393.8" cy="103.6" r="1.5"/><circle cx="399.5" cy="88.2" r="1.5"/><circle cx="382.2" cy="110.0" r="1.5"/><circle cx="387.8" cy="105.4" r="1.5"/><circle cx="388.1" cy="104.4" r="1.5"/><circle cx="373.7" cy="117.0" r="1.5"/><circle cx="411.8" cy="82.0" r="1.5"/><circle cx="370.4" cy="122.4" r="1.5"/><circle cx="376.1" cy="114.7" r="1.5"/><circle cx="359.7" cy="129.9" r="1.5"/><circle cx="394.7" cy="90.0" r="1.5"/><circle cx="373.4" cy="116.0" r="1.5"/><circle cx="416.1" cy="76.6" r="1.5"/><circle cx="364.4" cy="128.4" r="1.5"/><circle cx="413.3" cy="81.9" r="1.5"/><circle cx="360.5" cy="125.4" r="1.5"/><circle cx="379.2" cy="114.0" r="1.5"/><circle cx="381.5" cy="108.3" r="1.5"/><circle cx="375.7" cy="111.4" r="1.5"/><circle cx="411.0" cy="89.1" r="1.5"/><circle cx="370.1" cy="125.5" r="1.5"/><circle cx="376.9" cy="117.1" r="1.5"/><circle cx="382.2" cy="114.3" r="1.5"/><circle cx="380.7" cy="117.0" r="1.5"/><circle cx="377.6" cy="116.8" r="1.5"/><circle cx="387.6" cy="105.3" r="1.5"/><circle cx="377.9" cy="111.5" r="1.5"/><circle cx="407.9" cy="83.3" r="1.5"/><circle cx="371.6" cy="121.0" r="1.5"/><circle cx="380.5" cy="118.8" r="1.5"/><circle cx="388.9" cy="99.5" r="1.5"/><circle cx="390.8" cy="98.8" r="1.5"/><circle cx="408.8" cy="89.5" r="1.5"/><circle cx="374.1" cy="117.6" r="1.5"/><circle cx="398.2" cy="94.4" r="1.5"/><circle cx="380.7" cy="113.7" r="1.5"/><circle cx="362.7" cy="133.5" r="1.5"/><circle cx="395.9" cy="99.4" r="1.5"/><circle cx="366.8" cy="129.2" r="1.5"/><circle cx="374.7" cy="116.0" r="1.5"/><circle cx="389.1" cy="100.9" r="1.5"/><circle cx="374.0" cy="117.3" r="1.5"/><circle cx="370.3" cy="123.1" r="1.5"/><circle cx="389.5" cy="104.3" r="1.5"/><circle cx="398.9" cy="80.9" r="1.5"/><circle cx="373.5" cy="124.7" r="1.5"/><circle cx="376.5" cy="111.1" r="1.5"/><circle cx="387.3" cy="102.9" r="1.5"/><circle cx="382.2" cy="109.6" r="1.5"/><circle cx="377.7" cy="116.7" r="1.5"/><circle cx="418.4" cy="74.4" r="1.5"/><circle cx="377.1" cy="120.0" r="1.5"/><circle cx="370.5" cy="127.1" r="1.5"/><circle cx="375.9" cy="116.9" r="1.5"/><circle cx="386.9" cy="113.0" r="1.5"/><circle cx="372.3" cy="117.3" r="1.5"/><circle cx="369.8" cy="119.2" r="1.5"/><circle cx="364.9" cy="137.8" r="1.5"/><circle cx="425.1" cy="77.2" r="1.5"/><circle cx="390.0" cy="100.4" r="1.5"/><circle cx="367.8" cy="124.4" r="1.5"/><circle cx="388.9" cy="102.3" r="1.5"/><circle cx="387.8" cy="102.0" r="1.5"/><circle cx="402.3" cy="84.6" r="1.5"/><circle cx="369.7" cy="115.7" r="1.5"/><circle cx="402.4" cy="78.3" r="1.5"/><circle cx="394.6" cy="96.9" r="1.5"/><circle cx="367.9" cy="122.2" r="1.5"/><circle cx="383.7" cy="105.9" r="1.5"/><circle cx="384.4" cy="99.6" r="1.5"/><circle cx="385.8" cy="106.3" r="1.5"/><circle cx="361.0" cy="128.6" r="1.5"/><circle cx="384.8" cy="94.0" r="1.5"/><circle cx="376.0" cy="114.2" r="1.5"/><circle cx="394.8" cy="103.8" r="1.5"/><circle cx="384.1" cy="108.4" r="1.5"/><circle cx="373.6" cy="118.8" r="1.5"/><circle cx="369.4" cy="122.7" r="1.5"/><circle cx="377.4" cy="110.6" r="1.5"/><circle cx="385.2" cy="102.3" r="1.5"/><circle cx="380.2" cy="123.3" r="1.5"/><circle cx="365.9" cy="122.9" r="1.5"/><circle cx="411.1" cy="83.5" r="1.5"/><circle cx="395.2" cy="99.5" r="1.5"/><circle cx="382.0" cy="103.9" r="1.5"/><circle cx="384.0" cy="109.2" r="1.5"/><circle cx="389.9" cy="108.8" r="1.5"/><circle cx="384.6" cy="113.5" r="1.5"/><circle cx="378.3" cy="113.7" r="1.5"/><circle cx="400.9" cy="85.2" r="1.5"/><circle cx="378.9" cy="107.1" r="1.5"/><circle cx="377.2" cy="115.8" r="1.5"/><circle cx="381.9" cy="112.3" r="1.5"/><circle cx="379.7" cy="105.6" r="1.5"/><circle cx="383.7" cy="114.3" r="1.5"/><circle cx="374.7" cy="112.2" r="1.5"/><circle cx="388.5" cy="102.2" r="1.5"/><circle cx="395.9" cy="94.3" r="1.5"/><circle cx="365.6" cy="128.2" r="1.5"/><circle cx="377.6" cy="113.5" r="1.5"/><circle cx="365.2" cy="129.3" r="1.5"/><circle cx="372.4" cy="122.7" r="1.5"/><circle cx="365.4" cy="128.1" r="1.5"/><circle cx="384.1" cy="110.8" r="1.5"/><circle cx="373.6" cy="117.8" r="1.5"/><circle cx="398.8" cy="92.2" r="1.5"/><circle cx="441.2" cy="29.2" r="1.5"/><circle cx="445.6" cy="29.2" r="1.5"/><circle cx="428.1" cy="40.7" r="1.5"/><circle cx="433.6" cy="41.1" r="1.5"/><circle cx="440.1" cy="41.4" r="1.5"/><circle cx="451.7" cy="38.5" r="1.5"/><circle cx="422.6" cy="50.5" r="1.5"/><circle cx="430.3" cy="47.2" r="1.5"/><circle cx="436.8" cy="48.3" r="1.5"/><circle cx="438.6" cy="49.4" r="1.5"/><circle cx="448.2" cy="50.5" r="1.5"/><circle cx="449.5" cy="53.8" r="1.5"/><circle cx="442.3" cy="58.8" r="1.5"/><circle cx="443.0" cy="62.1" r="1.5"/><circle cx="436.4" cy="90.3" r="1.5"/><circle cx="412.5" cy="65.0" r="1.5"/><circle cx="399.7" cy="86.2" r="1.5"/><circle cx="388.0" cy="115.5" r="1.5"/><circle cx="395.0" cy="128.0" r="1.5"/><circle cx="375.5" cy="105.0" r="1.5"/><circle cx="383.7" cy="81.0" r="1.5"/><circle cx="403.4" cy="65.8" r="1.5"/><circle cx="448.0" cy="52.0" r="1.5"/>
</g>
<line x1="355.50" y1="7.90" x2="355.50" y2="138.30" stroke="#333" stroke-width="0.9"/>
<line x1="355.50" y1="138.30" x2="486.10" y2="138.30" stroke="#333" stroke-width="0.9"/>
<line x1="352.00" y1="138.30" x2="355.50" y2="138.30" stroke="#333" stroke-width="1"/>
<text x="351.00" y="140.80" font-size="7.2" fill="#383838" text-anchor="end" textLength="3.6" lengthAdjust="spacingAndGlyphs">0</text>
<line x1="352.00" y1="105.70" x2="355.50" y2="105.70" stroke="#333" stroke-width="1"/>
<text x="351.00" y="108.20" font-size="7.2" fill="#383838" text-anchor="end" textLength="9.01" lengthAdjust="spacingAndGlyphs">0.2</text>
<line x1="352.00" y1="73.10" x2="355.50" y2="73.10" stroke="#333" stroke-width="1"/>
<text x="351.00" y="75.60" font-size="7.2" fill="#383838" text-anchor="end" textLength="9.01" lengthAdjust="spacingAndGlyphs">0.4</text>
<line x1="352.00" y1="40.50" x2="355.50" y2="40.50" stroke="#333" stroke-width="1"/>
<text x="351.00" y="43.00" font-size="7.2" fill="#383838" text-anchor="end" textLength="9.01" lengthAdjust="spacingAndGlyphs">0.6</text>
<line x1="352.00" y1="7.90" x2="355.50" y2="7.90" stroke="#333" stroke-width="1"/>
<text x="351.00" y="10.40" font-size="7.2" fill="#383838" text-anchor="end" textLength="9.01" lengthAdjust="spacingAndGlyphs">0.8</text>
<line x1="355.50" y1="138.30" x2="355.50" y2="144.50" stroke="#333" stroke-width="1"/>
<text x="355.50" y="152.00" font-size="7.2" fill="#383838" text-anchor="middle" textLength="3.6" lengthAdjust="spacingAndGlyphs">0</text>
<line x1="388.15" y1="138.30" x2="388.15" y2="144.50" stroke="#333" stroke-width="1"/>
<text x="388.15" y="152.00" font-size="7.2" fill="#383838" text-anchor="middle" textLength="9.01" lengthAdjust="spacingAndGlyphs">0.2</text>
<line x1="420.80" y1="138.30" x2="420.80" y2="144.50" stroke="#333" stroke-width="1"/>
<text x="420.80" y="152.00" font-size="7.2" fill="#383838" text-anchor="middle" textLength="9.01" lengthAdjust="spacingAndGlyphs">0.4</text>
<line x1="453.45" y1="138.30" x2="453.45" y2="144.50" stroke="#333" stroke-width="1"/>
<text x="453.45" y="152.00" font-size="7.2" fill="#383838" text-anchor="middle" textLength="9.01" lengthAdjust="spacingAndGlyphs">0.6</text>
<line x1="486.10" y1="138.30" x2="486.10" y2="144.50" stroke="#333" stroke-width="1"/>
<text x="486.10" y="152.00" font-size="7.2" fill="#383838" text-anchor="middle" textLength="9.01" lengthAdjust="spacingAndGlyphs">0.8</text>
<text x="368.38" y="11.90" font-size="14.2" fill="#1aae57" textLength="9.14" lengthAdjust="spacingAndGlyphs">B</text>
<text x="441.90" y="121.80" font-size="10.5" fill="#17a050" textLength="35.6" lengthAdjust="spacingAndGlyphs">N =1847</text>
<text x="357.50" y="164.40" font-size="9.0" fill="#2d2d2d" textLength="130.9" lengthAdjust="spacingAndGlyphs">Predicted plasma dilution (IPRED)</text>
<text transform="translate(334.6,71.4) rotate(-90)" x="0" y="0" font-size="9.0" fill="#2d2d2d" text-anchor="middle" textLength="135.8" lengthAdjust="spacingAndGlyphs">Measured plasma dilution (no unit)</text>
<line x1="541.40" y1="137.30" x2="675.40" y2="2.90" stroke="#f0141e" stroke-width="1.15"/>
<g fill="none" stroke="#1c1cf6" stroke-width="0.72">
<circle cx="543.1" cy="136.4" r="1.5"/><circle cx="553.8" cy="118.1" r="1.5"/><circle cx="543.5" cy="133.9" r="1.5"/><circle cx="548.9" cy="126.1" r="1.5"/><circle cx="543.3" cy="134.4" r="1.5"/><circle cx="548.7" cy="128.5" r="1.5"/><circle cx="550.6" cy="127.7" r="1.5"/><circle cx="543.2" cy="135.8" r="1.5"/><circle cx="546.0" cy="131.6" r="1.5"/><circle cx="547.0" cy="131.4" r="1.5"/><circle cx="545.4" cy="133.5" r="1.5"/><circle cx="550.7" cy="131.1" r="1.5"/><circle cx="550.7" cy="128.7" r="1.5"/><circle cx="547.1" cy="130.5" r="1.5"/><circle cx="558.9" cy="121.3" r="1.5"/><circle cx="542.8" cy="135.4" r="1.5"/><circle cx="543.5" cy="135.4" r="1.5"/><circle cx="541.4" cy="137.3" r="1.5"/><circle cx="546.7" cy="133.5" r="1.5"/><circle cx="544.5" cy="135.2" r="1.5"/><circle cx="548.0" cy="131.2" r="1.5"/><circle cx="543.1" cy="135.9" r="1.5"/><circle cx="542.9" cy="134.4" r="1.5"/><circle cx="546.0" cy="134.4" r="1.5"/><circle cx="543.4" cy="137.3" r="1.5"/><circle cx="547.4" cy="130.0" r="1.5"/><circle cx="547.3" cy="132.2" r="1.5"/><circle cx="545.4" cy="133.5" r="1.5"/><circle cx="550.2" cy="122.7" r="1.5"/><circle cx="546.3" cy="129.8" r="1.5"/><circle cx="544.2" cy="133.6" r="1.5"/><circle cx="542.7" cy="134.8" r="1.5"/><circle cx="547.9" cy="130.6" r="1.5"/><circle cx="543.1" cy="134.4" r="1.5"/><circle cx="552.2" cy="127.9" r="1.5"/><circle cx="547.6" cy="132.3" r="1.5"/><circle cx="543.8" cy="135.5" r="1.5"/><circle cx="542.4" cy="134.4" r="1.5"/><circle cx="542.2" cy="134.7" r="1.5"/><circle cx="555.9" cy="124.5" r="1.5"/><circle cx="541.5" cy="136.0" r="1.5"/><circle cx="543.0" cy="135.8" r="1.5"/><circle cx="551.6" cy="124.5" r="1.5"/><circle cx="559.5" cy="120.1" r="1.5"/><circle cx="549.1" cy="127.5" r="1.5"/><circle cx="546.5" cy="132.3" r="1.5"/><circle cx="548.5" cy="130.7" r="1.5"/><circle cx="543.1" cy="135.6" r="1.5"/><circle cx="542.5" cy="135.9" r="1.5"/><circle cx="542.3" cy="137.1" r="1.5"/><circle cx="542.8" cy="137.3" r="1.5"/><circle cx="552.1" cy="122.3" r="1.5"/><circle cx="546.1" cy="133.2" r="1.5"/><circle cx="549.6" cy="132.8" r="1.5"/><circle cx="542.2" cy="137.3" r="1.5"/><circle cx="544.7" cy="137.3" r="1.5"/><circle cx="556.0" cy="124.4" r="1.5"/><circle cx="554.6" cy="120.2" r="1.5"/><circle cx="542.8" cy="137.3" r="1.5"/><circle cx="561.4" cy="118.3" r="1.5"/><circle cx="558.3" cy="126.3" r="1.5"/><circle cx="552.4" cy="123.4" r="1.5"/><circle cx="541.8" cy="136.4" r="1.5"/><circle cx="543.2" cy="135.1" r="1.5"/><circle cx="548.2" cy="127.8" r="1.5"/><circle cx="545.4" cy="130.6" r="1.5"/><circle cx="546.2" cy="130.7" r="1.5"/><circle cx="548.5" cy="131.3" r="1.5"/><circle cx="547.1" cy="133.9" r="1.5"/><circle cx="550.6" cy="130.3" r="1.5"/><circle cx="558.8" cy="125.6" r="1.5"/><circle cx="547.2" cy="128.2" r="1.5"/><circle cx="544.3" cy="134.6" r="1.5"/><circle cx="545.8" cy="132.6" r="1.5"/><circle cx="542.3" cy="136.2" r="1.5"/><circle cx="546.5" cy="128.6" r="1.5"/><circle cx="554.6" cy="125.5" r="1.5"/><circle cx="541.5" cy="135.9" r="1.5"/><circle cx="541.6" cy="136.8" r="1.5"/><circle cx="552.6" cy="126.4" r="1.5"/><circle cx="543.4" cy="137.3" r="1.5"/><circle cx="545.3" cy="131.8" r="1.5"/><circle cx="548.4" cy="131.7" r="1.5"/><circle cx="561.4" cy="118.8" r="1.5"/><circle cx="552.4" cy="125.6" r="1.5"/><circle cx="552.5" cy="125.8" r="1.5"/><circle cx="550.2" cy="125.9" r="1.5"/><circle cx="542.9" cy="136.6" r="1.5"/><circle cx="548.4" cy="129.9" r="1.5"/><circle cx="541.5" cy="136.9" r="1.5"/><circle cx="549.4" cy="129.1" r="1.5"/><circle cx="542.2" cy="135.6" r="1.5"/><circle cx="544.5" cy="134.5" r="1.5"/><circle cx="547.5" cy="128.9" r="1.5"/><circle cx="560.3" cy="120.7" r="1.5"/><circle cx="545.8" cy="135.2" r="1.5"/><circle cx="547.1" cy="131.6" r="1.5"/><circle cx="555.9" cy="119.1" r="1.5"/><circle cx="543.2" cy="136.1" r="1.5"/><circle cx="541.9" cy="137.3" r="1.5"/><circle cx="555.9" cy="123.7" r="1.5"/><circle cx="541.7" cy="136.8" r="1.5"/><circle cx="542.1" cy="136.7" r="1.5"/><circle cx="550.6" cy="127.2" r="1.5"/><circle cx="551.0" cy="131.6" r="1.5"/><circle cx="549.0" cy="126.5" r="1.5"/><circle cx="553.3" cy="123.7" r="1.5"/><circle cx="543.0" cy="136.7" r="1.5"/><circle cx="544.8" cy="131.8" r="1.5"/><circle cx="543.5" cy="134.5" r="1.5"/><circle cx="546.0" cy="130.2" r="1.5"/><circle cx="545.8" cy="134.7" r="1.5"/><circle cx="542.2" cy="134.5" r="1.5"/><circle cx="547.7" cy="130.8" r="1.5"/><circle cx="549.4" cy="133.5" r="1.5"/><circle cx="550.4" cy="126.5" r="1.5"/><circle cx="545.0" cy="134.1" r="1.5"/><circle cx="546.9" cy="133.5" r="1.5"/><circle cx="544.5" cy="134.4" r="1.5"/><circle cx="541.6" cy="137.3" r="1.5"/><circle cx="554.5" cy="122.4" r="1.5"/><circle cx="554.8" cy="124.3" r="1.5"/><circle cx="542.7" cy="136.3" r="1.5"/><circle cx="544.6" cy="132.0" r="1.5"/><circle cx="547.1" cy="131.5" r="1.5"/><circle cx="548.3" cy="131.6" r="1.5"/><circle cx="546.5" cy="133.8" r="1.5"/><circle cx="545.7" cy="133.0" r="1.5"/><circle cx="547.2" cy="129.4" r="1.5"/><circle cx="541.9" cy="137.3" r="1.5"/><circle cx="547.1" cy="133.4" r="1.5"/><circle cx="544.9" cy="132.4" r="1.5"/><circle cx="564.7" cy="113.5" r="1.5"/><circle cx="548.3" cy="130.4" r="1.5"/><circle cx="544.3" cy="131.3" r="1.5"/><circle cx="551.1" cy="130.3" r="1.5"/><circle cx="542.8" cy="135.6" r="1.5"/><circle cx="556.7" cy="127.3" r="1.5"/><circle cx="544.6" cy="134.4" r="1.5"/><circle cx="546.3" cy="131.3" r="1.5"/><circle cx="542.7" cy="134.6" r="1.5"/><circle cx="543.1" cy="137.2" r="1.5"/><circle cx="561.5" cy="113.9" r="1.5"/><circle cx="549.1" cy="127.9" r="1.5"/><circle cx="544.6" cy="134.2" r="1.5"/><circle cx="553.1" cy="119.1" r="1.5"/><circle cx="545.0" cy="133.6" r="1.5"/><circle cx="547.2" cy="133.0" r="1.5"/><circle cx="547.8" cy="130.0" r="1.5"/><circle cx="543.2" cy="137.3" r="1.5"/><circle cx="545.9" cy="130.2" r="1.5"/><circle cx="551.5" cy="124.7" r="1.5"/><circle cx="548.4" cy="131.0" r="1.5"/><circle cx="542.0" cy="136.0" r="1.5"/><circle cx="544.5" cy="133.3" r="1.5"/><circle cx="542.7" cy="133.6" r="1.5"/><circle cx="543.4" cy="136.0" r="1.5"/><circle cx="546.2" cy="134.6" r="1.5"/><circle cx="542.1" cy="137.3" r="1.5"/><circle cx="541.6" cy="137.3" r="1.5"/><circle cx="555.9" cy="127.3" r="1.5"/><circle cx="541.7" cy="137.1" r="1.5"/><circle cx="553.6" cy="123.9" r="1.5"/><circle cx="546.9" cy="132.4" r="1.5"/><circle cx="547.7" cy="132.7" r="1.5"/><circle cx="563.0" cy="110.8" r="1.5"/><circle cx="542.4" cy="136.5" r="1.5"/><circle cx="541.8" cy="136.6" r="1.5"/><circle cx="553.6" cy="122.4" r="1.5"/><circle cx="553.9" cy="128.2" r="1.5"/><circle cx="548.0" cy="132.3" r="1.5"/><circle cx="542.9" cy="132.6" r="1.5"/><circle cx="542.1" cy="136.7" r="1.5"/><circle cx="544.8" cy="135.4" r="1.5"/><circle cx="548.0" cy="131.1" r="1.5"/><circle cx="542.3" cy="137.1" r="1.5"/><circle cx="553.3" cy="128.5" r="1.5"/><circle cx="543.5" cy="135.7" r="1.5"/><circle cx="544.5" cy="134.2" r="1.5"/><circle cx="553.4" cy="125.2" r="1.5"/><circle cx="544.1" cy="133.8" r="1.5"/><circle cx="552.8" cy="130.2" r="1.5"/><circle cx="547.0" cy="134.3" r="1.5"/><circle cx="543.1" cy="134.5" r="1.5"/><circle cx="543.4" cy="135.8" r="1.5"/><circle cx="548.6" cy="127.5" r="1.5"/><circle cx="550.5" cy="127.4" r="1.5"/><circle cx="550.8" cy="131.0" r="1.5"/><circle cx="555.1" cy="121.9" r="1.5"/><circle cx="550.3" cy="130.5" r="1.5"/><circle cx="549.3" cy="128.7" r="1.5"/><circle cx="544.9" cy="131.9" r="1.5"/><circle cx="545.7" cy="129.5" r="1.5"/><circle cx="542.5" cy="136.2" r="1.5"/><circle cx="543.7" cy="134.0" r="1.5"/><circle cx="545.8" cy="132.3" r="1.5"/><circle cx="544.3" cy="133.2" r="1.5"/><circle cx="541.6" cy="137.3" r="1.5"/><circle cx="542.3" cy="136.8" r="1.5"/><circle cx="557.2" cy="120.4" r="1.5"/><circle cx="542.1" cy="136.0" r="1.5"/><circle cx="555.0" cy="125.7" r="1.5"/><circle cx="547.7" cy="129.3" r="1.5"/><circle cx="549.4" cy="126.9" r="1.5"/><circle cx="549.6" cy="128.8" r="1.5"/><circle cx="544.0" cy="134.9" r="1.5"/><circle cx="543.0" cy="136.1" r="1.5"/><circle cx="543.8" cy="134.6" r="1.5"/><circle cx="550.2" cy="125.7" r="1.5"/><circle cx="542.4" cy="134.5" r="1.5"/><circle cx="546.1" cy="133.3" r="1.5"/><circle cx="547.3" cy="133.0" r="1.5"/><circle cx="548.8" cy="131.4" r="1.5"/><circle cx="548.1" cy="128.6" r="1.5"/><circle cx="542.0" cy="136.4" r="1.5"/><circle cx="561.5" cy="115.9" r="1.5"/><circle cx="543.5" cy="134.5" r="1.5"/><circle cx="550.0" cy="127.7" r="1.5"/><circle cx="545.4" cy="133.4" r="1.5"/><circle cx="545.1" cy="135.2" r="1.5"/><circle cx="543.7" cy="135.8" r="1.5"/><circle cx="557.5" cy="120.7" r="1.5"/><circle cx="544.4" cy="133.7" r="1.5"/><circle cx="542.2" cy="136.9" r="1.5"/><circle cx="542.1" cy="137.1" r="1.5"/><circle cx="543.5" cy="133.3" r="1.5"/><circle cx="553.0" cy="126.8" r="1.5"/><circle cx="544.3" cy="134.0" r="1.5"/><circle cx="546.2" cy="132.9" r="1.5"/><circle cx="553.4" cy="127.4" r="1.5"/><circle cx="551.0" cy="131.1" r="1.5"/><circle cx="551.7" cy="128.2" r="1.5"/><circle cx="549.7" cy="130.7" r="1.5"/><circle cx="546.1" cy="131.1" r="1.5"/><circle cx="547.1" cy="133.6" r="1.5"/><circle cx="548.8" cy="130.6" r="1.5"/><circle cx="547.1" cy="130.3" r="1.5"/><circle cx="546.4" cy="132.4" r="1.5"/><circle cx="543.9" cy="134.0" r="1.5"/><circle cx="542.8" cy="134.8" r="1.5"/><circle cx="544.9" cy="136.2" r="1.5"/><circle cx="543.1" cy="136.1" r="1.5"/><circle cx="541.9" cy="137.3" r="1.5"/><circle cx="552.0" cy="123.3" r="1.5"/><circle cx="542.6" cy="136.2" r="1.5"/><circle cx="562.7" cy="120.0" r="1.5"/><circle cx="582.1" cy="95.4" r="1.5"/><circle cx="576.8" cy="102.9" r="1.5"/><circle cx="555.3" cy="122.2" r="1.5"/><circle cx="563.2" cy="113.0" r="1.5"/><circle cx="580.4" cy="100.0" r="1.5"/><circle cx="576.1" cy="101.9" r="1.5"/><circle cx="577.6" cy="98.6" r="1.5"/><circle cx="560.2" cy="118.0" r="1.5"/><circle cx="579.9" cy="99.5" r="1.5"/><circle cx="573.5" cy="107.7" r="1.5"/><circle cx="566.3" cy="113.9" r="1.5"/><circle cx="574.2" cy="107.5" r="1.5"/><circle cx="561.8" cy="114.3" r="1.5"/><circle cx="580.4" cy="97.9" r="1.5"/><circle cx="557.0" cy="124.6" r="1.5"/><circle cx="562.4" cy="116.1" r="1.5"/><circle cx="575.3" cy="106.5" r="1.5"/><circle cx="566.7" cy="120.1" r="1.5"/><circle cx="579.9" cy="95.5" r="1.5"/><circle cx="578.4" cy="97.2" r="1.5"/><circle cx="574.2" cy="108.1" r="1.5"/><circle cx="565.1" cy="115.3" r="1.5"/><circle cx="567.3" cy="110.7" r="1.5"/><circle cx="564.2" cy="115.3" r="1.5"/><circle cx="563.7" cy="117.0" r="1.5"/><circle cx="555.1" cy="124.7" r="1.5"/><circle cx="562.2" cy="117.0" r="1.5"/><circle cx="574.6" cy="105.3" r="1.5"/><circle cx="570.2" cy="107.8" r="1.5"/><circle cx="564.2" cy="114.9" r="1.5"/><circle cx="564.1" cy="116.4" r="1.5"/><circle cx="559.9" cy="118.6" r="1.5"/><circle cx="557.0" cy="125.8" r="1.5"/><circle cx="559.2" cy="115.7" r="1.5"/><circle cx="572.5" cy="110.4" r="1.5"/><circle cx="581.3" cy="97.5" r="1.5"/><circle cx="574.4" cy="103.3" r="1.5"/><circle cx="564.6" cy="112.9" r="1.5"/><circle cx="570.8" cy="107.1" r="1.5"/><circle cx="558.6" cy="116.8" r="1.5"/><circle cx="557.1" cy="124.3" r="1.5"/><circle cx="556.6" cy="122.2" r="1.5"/><circle cx="570.9" cy="107.2" r="1.5"/><circle cx="571.5" cy="108.3" r="1.5"/><circle cx="559.2" cy="120.9" r="1.5"/><circle cx="581.6" cy="93.6" r="1.5"/><circle cx="558.8" cy="121.6" r="1.5"/><circle cx="569.3" cy="110.4" r="1.5"/><circle cx="573.3" cy="105.9" r="1.5"/><circle cx="555.7" cy="123.4" r="1.5"/><circle cx="562.5" cy="115.6" r="1.5"/><circle cx="570.0" cy="109.1" r="1.5"/><circle cx="574.1" cy="103.5" r="1.5"/><circle cx="574.2" cy="104.0" r="1.5"/><circle cx="573.6" cy="103.7" r="1.5"/><circle cx="556.9" cy="118.3" r="1.5"/><circle cx="556.4" cy="124.3" r="1.5"/><circle cx="579.3" cy="95.1" r="1.5"/><circle cx="559.0" cy="120.7" r="1.5"/><circle cx="565.1" cy="111.8" r="1.5"/><circle cx="578.7" cy="99.4" r="1.5"/><circle cx="556.1" cy="123.3" r="1.5"/><circle cx="579.2" cy="104.2" r="1.5"/><circle cx="573.4" cy="101.1" r="1.5"/><circle cx="565.8" cy="114.6" r="1.5"/><circle cx="561.6" cy="118.9" r="1.5"/><circle cx="569.6" cy="106.2" r="1.5"/><circle cx="578.3" cy="100.1" r="1.5"/><circle cx="560.6" cy="113.2" r="1.5"/><circle cx="561.8" cy="112.5" r="1.5"/><circle cx="569.0" cy="107.7" r="1.5"/><circle cx="577.9" cy="100.0" r="1.5"/><circle cx="566.7" cy="110.0" r="1.5"/><circle cx="566.5" cy="115.4" r="1.5"/><circle cx="639.1" cy="31.5" r="1.5"/><circle cx="659.6" cy="22.5" r="1.5"/><circle cx="632.1" cy="49.6" r="1.5"/><circle cx="625.6" cy="52.9" r="1.5"/><circle cx="621.2" cy="58.1" r="1.5"/><circle cx="619.1" cy="56.6" r="1.5"/><circle cx="617.3" cy="56.2" r="1.5"/><circle cx="619.1" cy="68.2" r="1.5"/><circle cx="617.3" cy="66.0" r="1.5"/><circle cx="615.1" cy="66.9" r="1.5"/><circle cx="613.4" cy="68.6" r="1.5"/><circle cx="610.8" cy="67.5" r="1.5"/><circle cx="608.6" cy="70.8" r="1.5"/><circle cx="606.0" cy="70.8" r="1.5"/><circle cx="604.2" cy="70.3" r="1.5"/><circle cx="601.0" cy="72.5" r="1.5"/><circle cx="598.8" cy="71.2" r="1.5"/><circle cx="603.2" cy="74.7" r="1.5"/><circle cx="600.5" cy="78.4" r="1.5"/><circle cx="593.3" cy="77.8" r="1.5"/><circle cx="592.3" cy="80.6" r="1.5"/><circle cx="587.2" cy="80.2" r="1.5"/><circle cx="597.7" cy="83.4" r="1.5"/><circle cx="595.5" cy="86.0" r="1.5"/><circle cx="593.3" cy="87.1" r="1.5"/><circle cx="597.3" cy="88.2" r="1.5"/><circle cx="590.7" cy="83.9" r="1.5"/><circle cx="584.6" cy="85.0" r="1.5"/><circle cx="587.9" cy="88.2" r="1.5"/><circle cx="591.2" cy="89.3" r="1.5"/><circle cx="589.4" cy="92.6" r="1.5"/><circle cx="585.7" cy="92.1" r="1.5"/><circle cx="584.2" cy="94.3" r="1.5"/><circle cx="580.3" cy="94.8" r="1.5"/><circle cx="574.8" cy="93.0" r="1.5"/><circle cx="573.7" cy="97.0" r="1.5"/><circle cx="577.0" cy="97.0" r="1.5"/><circle cx="579.2" cy="95.9" r="1.5"/><circle cx="586.8" cy="95.9" r="1.5"/><circle cx="547.5" cy="104.1" r="1.5"/><circle cx="557.8" cy="101.2" r="1.5"/><circle cx="554.3" cy="111.4" r="1.5"/><circle cx="545.6" cy="120.0" r="1.5"/><circle cx="556.0" cy="133.5" r="1.5"/><circle cx="550.6" cy="118.4" r="1.5"/><circle cx="565.3" cy="120.7" r="1.5"/><circle cx="563.3" cy="125.0" r="1.5"/><circle cx="560.7" cy="126.7" r="1.5"/><circle cx="562.2" cy="105.2" r="1.5"/><circle cx="559.5" cy="111.4" r="1.5"/><circle cx="574.5" cy="93.1" r="1.5"/><circle cx="586.7" cy="80.3" r="1.5"/><circle cx="554.3" cy="111.7" r="1.5"/><circle cx="545.6" cy="119.8" r="1.5"/>
</g>
<line x1="541.40" y1="2.90" x2="541.40" y2="137.30" stroke="#333" stroke-width="0.9"/>
<line x1="541.40" y1="137.30" x2="675.40" y2="137.30" stroke="#333" stroke-width="0.9"/>
<line x1="538.40" y1="137.30" x2="541.40" y2="137.30" stroke="#333" stroke-width="1"/>
<text x="536.40" y="139.80" font-size="7.2" fill="#383838" text-anchor="end" textLength="3.6" lengthAdjust="spacingAndGlyphs">0</text>
<line x1="538.40" y1="103.70" x2="541.40" y2="103.70" stroke="#333" stroke-width="1"/>
<text x="536.40" y="106.20" font-size="7.2" fill="#383838" text-anchor="end" textLength="10.81" lengthAdjust="spacingAndGlyphs">200</text>
<line x1="538.40" y1="70.10" x2="541.40" y2="70.10" stroke="#333" stroke-width="1"/>
<text x="536.40" y="72.60" font-size="7.2" fill="#383838" text-anchor="end" textLength="10.81" lengthAdjust="spacingAndGlyphs">400</text>
<line x1="538.40" y1="36.50" x2="541.40" y2="36.50" stroke="#333" stroke-width="1"/>
<text x="536.40" y="39.00" font-size="7.2" fill="#383838" text-anchor="end" textLength="10.81" lengthAdjust="spacingAndGlyphs">600</text>
<line x1="538.40" y1="2.90" x2="541.40" y2="2.90" stroke="#333" stroke-width="1"/>
<text x="536.40" y="5.40" font-size="7.2" fill="#383838" text-anchor="end" textLength="10.81" lengthAdjust="spacingAndGlyphs">800</text>
<line x1="539.70" y1="120.50" x2="541.40" y2="120.50" stroke="#333" stroke-width="1"/>
<line x1="539.70" y1="86.90" x2="541.40" y2="86.90" stroke="#333" stroke-width="1"/>
<line x1="539.70" y1="53.30" x2="541.40" y2="53.30" stroke="#333" stroke-width="1"/>
<line x1="539.70" y1="19.70" x2="541.40" y2="19.70" stroke="#333" stroke-width="1"/>
<line x1="541.40" y1="137.30" x2="541.40" y2="143.40" stroke="#333" stroke-width="1"/>
<text x="541.40" y="151.00" font-size="7.2" fill="#383838" text-anchor="middle" textLength="3.6" lengthAdjust="spacingAndGlyphs">0</text>
<line x1="574.90" y1="137.30" x2="574.90" y2="143.40" stroke="#333" stroke-width="1"/>
<text x="574.90" y="151.00" font-size="7.2" fill="#383838" text-anchor="middle" textLength="10.81" lengthAdjust="spacingAndGlyphs">200</text>
<line x1="608.40" y1="137.30" x2="608.40" y2="143.40" stroke="#333" stroke-width="1"/>
<text x="608.40" y="151.00" font-size="7.2" fill="#383838" text-anchor="middle" textLength="10.81" lengthAdjust="spacingAndGlyphs">400</text>
<line x1="641.90" y1="137.30" x2="641.90" y2="143.40" stroke="#333" stroke-width="1"/>
<text x="641.90" y="151.00" font-size="7.2" fill="#383838" text-anchor="middle" textLength="10.81" lengthAdjust="spacingAndGlyphs">600</text>
<line x1="675.40" y1="137.30" x2="675.40" y2="143.40" stroke="#333" stroke-width="1"/>
<text x="675.40" y="151.00" font-size="7.2" fill="#383838" text-anchor="middle" textLength="10.81" lengthAdjust="spacingAndGlyphs">800</text>
<line x1="558.15" y1="137.30" x2="558.15" y2="140.60" stroke="#333" stroke-width="1"/>
<line x1="591.65" y1="137.30" x2="591.65" y2="140.60" stroke="#333" stroke-width="1"/>
<line x1="625.15" y1="137.30" x2="625.15" y2="140.60" stroke="#333" stroke-width="1"/>
<line x1="658.65" y1="137.30" x2="658.65" y2="140.60" stroke="#333" stroke-width="1"/>
<text x="553.15" y="12.20" font-size="14.2" fill="#1aae57" textLength="9.44" lengthAdjust="spacingAndGlyphs">C</text>
<text x="634.80" y="121.80" font-size="10.5" fill="#17a050" textLength="32.8" lengthAdjust="spacingAndGlyphs">N = 379</text>
<text x="561.50" y="163.90" font-size="9.0" fill="#2d2d2d" textLength="108.6" lengthAdjust="spacingAndGlyphs">Predicted urine output (mL)</text>
<text transform="translate(520.3,71.75) rotate(-90)" x="0" y="0" font-size="8.6" fill="#2d2d2d" text-anchor="middle" textLength="108.1" lengthAdjust="spacingAndGlyphs">Measured urine output (mL)</text>
<line x1="28.50" y1="185.56" x2="28.50" y2="317.00" stroke="#6e6e6e" stroke-width="1.3"/>
<line x1="28.50" y1="317.00" x2="160.28" y2="317.00" stroke="#6e6e6e" stroke-width="1.3"/>
<line x1="25.70" y1="316.92" x2="28.50" y2="316.92" stroke="#6e6e6e" stroke-width="1"/>
<text x="23.00" y="319.82" font-size="6.8" fill="#383838" text-anchor="end" textLength="10.54" lengthAdjust="spacingAndGlyphs">-0.1</text>
<line x1="25.70" y1="300.50" x2="28.50" y2="300.50" stroke="#6e6e6e" stroke-width="1"/>
<text x="23.00" y="303.40" font-size="6.8" fill="#383838" text-anchor="end" textLength="3.4" lengthAdjust="spacingAndGlyphs">0</text>
<line x1="25.70" y1="284.08" x2="28.50" y2="284.08" stroke="#6e6e6e" stroke-width="1"/>
<text x="23.00" y="286.98" font-size="6.8" fill="#383838" text-anchor="end" textLength="8.51" lengthAdjust="spacingAndGlyphs">0.1</text>
<line x1="25.70" y1="267.66" x2="28.50" y2="267.66" stroke="#6e6e6e" stroke-width="1"/>
<text x="23.00" y="270.56" font-size="6.8" fill="#383838" text-anchor="end" textLength="8.51" lengthAdjust="spacingAndGlyphs">0.2</text>
<line x1="25.70" y1="251.24" x2="28.50" y2="251.24" stroke="#6e6e6e" stroke-width="1"/>
<text x="23.00" y="254.14" font-size="6.8" fill="#383838" text-anchor="end" textLength="8.51" lengthAdjust="spacingAndGlyphs">0.3</text>
<line x1="25.70" y1="234.82" x2="28.50" y2="234.82" stroke="#6e6e6e" stroke-width="1"/>
<text x="23.00" y="237.72" font-size="6.8" fill="#383838" text-anchor="end" textLength="8.51" lengthAdjust="spacingAndGlyphs">0.4</text>
<line x1="25.70" y1="218.40" x2="28.50" y2="218.40" stroke="#6e6e6e" stroke-width="1"/>
<text x="23.00" y="221.30" font-size="6.8" fill="#383838" text-anchor="end" textLength="8.51" lengthAdjust="spacingAndGlyphs">0.5</text>
<line x1="25.70" y1="201.98" x2="28.50" y2="201.98" stroke="#6e6e6e" stroke-width="1"/>
<text x="23.00" y="204.88" font-size="6.8" fill="#383838" text-anchor="end" textLength="8.51" lengthAdjust="spacingAndGlyphs">0.6</text>
<line x1="25.70" y1="185.56" x2="28.50" y2="185.56" stroke="#6e6e6e" stroke-width="1"/>
<text x="23.00" y="188.46" font-size="6.8" fill="#383838" text-anchor="end" textLength="8.51" lengthAdjust="spacingAndGlyphs">0.7</text>
<line x1="28.60" y1="317.00" x2="28.60" y2="319.80" stroke="#6e6e6e" stroke-width="1"/>
<text x="28.60" y="327.80" font-size="6.8" fill="#383838" text-anchor="middle" textLength="3.4" lengthAdjust="spacingAndGlyphs">0</text>
<line x1="45.06" y1="317.00" x2="45.06" y2="319.80" stroke="#6e6e6e" stroke-width="1"/>
<text x="45.06" y="327.80" font-size="6.8" fill="#383838" text-anchor="middle" textLength="6.81" lengthAdjust="spacingAndGlyphs">10</text>
<line x1="61.52" y1="317.00" x2="61.52" y2="319.80" stroke="#6e6e6e" stroke-width="1"/>
<text x="61.52" y="327.80" font-size="6.8" fill="#383838" text-anchor="middle" textLength="6.81" lengthAdjust="spacingAndGlyphs">20</text>
<line x1="77.98" y1="317.00" x2="77.98" y2="319.80" stroke="#6e6e6e" stroke-width="1"/>
<text x="77.98" y="327.80" font-size="6.8" fill="#383838" text-anchor="middle" textLength="6.81" lengthAdjust="spacingAndGlyphs">30</text>
<line x1="94.44" y1="317.00" x2="94.44" y2="319.80" stroke="#6e6e6e" stroke-width="1"/>
<text x="94.44" y="327.80" font-size="6.8" fill="#383838" text-anchor="middle" textLength="6.81" lengthAdjust="spacingAndGlyphs">40</text>
<line x1="110.90" y1="317.00" x2="110.90" y2="319.80" stroke="#6e6e6e" stroke-width="1"/>
<text x="110.90" y="327.80" font-size="6.8" fill="#383838" text-anchor="middle" textLength="6.81" lengthAdjust="spacingAndGlyphs">50</text>
<line x1="127.36" y1="317.00" x2="127.36" y2="319.80" stroke="#6e6e6e" stroke-width="1"/>
<text x="127.36" y="327.80" font-size="6.8" fill="#383838" text-anchor="middle" textLength="6.81" lengthAdjust="spacingAndGlyphs">60</text>
<line x1="143.82" y1="317.00" x2="143.82" y2="319.80" stroke="#6e6e6e" stroke-width="1"/>
<text x="143.82" y="327.80" font-size="6.8" fill="#383838" text-anchor="middle" textLength="6.81" lengthAdjust="spacingAndGlyphs">70</text>
<line x1="160.28" y1="317.00" x2="160.28" y2="319.80" stroke="#6e6e6e" stroke-width="1"/>
<text x="160.28" y="327.80" font-size="6.8" fill="#383838" text-anchor="middle" textLength="6.81" lengthAdjust="spacingAndGlyphs">80</text>
<polyline points="28.60,288.19 36.83,269.30 45.06,242.21 53.29,239.42 61.52,218.73 69.75,223.33 77.98,216.76 86.21,224.97 94.44,227.76 102.67,228.25 110.90,228.25 119.13,223.49 127.36,235.97 135.59,259.29 143.82,243.85 152.05,266.35 160.28,245.49" fill="none" stroke="#1a1aff" stroke-width="2.0" stroke-linejoin="round" stroke-dasharray="6 2.3"/>
<polyline points="28.60,287.36 36.83,284.08 45.06,270.94 53.29,266.84 61.52,256.17 69.75,256.49 77.98,248.61 86.21,256.17 94.44,258.63 102.67,261.91 110.90,264.38 119.13,266.02 127.36,267.66 135.59,279.15 143.82,272.26 152.05,283.26 160.28,273.90" fill="none" stroke="#1a1aff" stroke-width="2.0" stroke-linejoin="round" stroke-dasharray="6 2.3"/>
<polyline points="28.60,288.19 36.83,296.23 45.06,292.13 53.29,290.65 61.52,290.48 69.75,291.47 77.98,287.04 86.21,283.42 94.44,284.08 102.67,283.59 110.90,286.05 119.13,288.35 127.36,286.21 135.59,299.51 143.82,292.13 152.05,303.46 160.28,296.39" fill="none" stroke="#1a1aff" stroke-width="2.0" stroke-linejoin="round" stroke-dasharray="6 2.3"/>
<polyline points="28.60,289.50 36.83,269.30 45.06,242.21 53.29,233.18 61.52,215.44 69.75,213.47 77.98,202.64 86.21,211.83 94.44,217.91 102.67,222.50 110.90,226.61 119.13,228.74 127.36,231.21 135.59,245.33 143.82,237.45 152.05,250.25 160.28,240.73" fill="none" stroke="#f0141e" stroke-width="1.95" stroke-linejoin="round"/>
<polyline points="28.60,300.50 36.83,284.90 45.06,270.94 53.29,266.84 61.52,256.99 69.75,257.81 77.98,251.73 86.21,257.32 94.44,260.44 102.67,263.06 110.90,265.03 119.13,266.67 127.36,268.15 135.59,276.20 143.82,272.91 152.05,280.80 160.28,275.05" fill="none" stroke="#f0141e" stroke-width="1.95" stroke-linejoin="round"/>
<polyline points="28.60,310.84 36.83,298.53 45.06,291.47 53.29,289.83 61.52,284.90 69.75,286.05 77.98,282.11 86.21,282.44 94.44,284.41 102.67,286.54 110.90,289.01 119.13,290.32 127.36,291.96 135.59,295.57 143.82,294.26 152.05,298.20 160.28,295.57" fill="none" stroke="#f0141e" stroke-width="1.95" stroke-linejoin="round"/>
<text x="23.74" y="175.90" font-size="14.2" fill="#1aae57" textLength="11.08" lengthAdjust="spacingAndGlyphs">D</text>
<line x1="49.90" y1="178.60" x2="60.00" y2="178.60" stroke="#1a1aff" stroke-width="1.5" stroke-dasharray="3.9 2.1"/>
<line x1="113.50" y1="178.40" x2="124.00" y2="178.40" stroke="#f0141e" stroke-width="1.4"/>
<text x="40.00" y="188.90" font-size="8.5" fill="#383838" textLength="30.6" lengthAdjust="spacingAndGlyphs">Observed</text>
<text x="101.60" y="188.90" font-size="8.5" fill="#383838" textLength="30.3" lengthAdjust="spacingAndGlyphs">Predicted</text>
<text x="106.60" y="219.00" font-size="8.6" fill="#383838" textLength="15.6" lengthAdjust="spacingAndGlyphs">95%</text>
<text x="106.70" y="260.20" font-size="8.6" fill="#383838" textLength="15.3" lengthAdjust="spacingAndGlyphs">50%</text>
<text x="110.60" y="280.90" font-size="8.6" fill="#383838" textLength="11.1" lengthAdjust="spacingAndGlyphs">5%</text>
<text x="73.50" y="341.60" font-size="9.6" fill="#2d2d2d" textLength="37.8" lengthAdjust="spacingAndGlyphs">Time (min)</text>
<text transform="translate(6.8,252.65) rotate(-90)" x="0" y="0" font-size="8.6" fill="#2d2d2d" text-anchor="middle" textLength="95.5" lengthAdjust="spacingAndGlyphs">Plasma dilution (no unit)</text>
<line x1="205.90" y1="229.50" x2="338.00" y2="229.50" stroke="#f02020" stroke-width="1.1" stroke-dasharray="3.4 1.4"/>
<line x1="205.90" y1="251.50" x2="338.00" y2="251.50" stroke="#f02020" stroke-width="1.1" stroke-dasharray="3.4 1.4"/>
<line x1="205.90" y1="273.50" x2="338.00" y2="273.50" stroke="#f02020" stroke-width="1.1" stroke-dasharray="3.4 1.4"/>
<g fill="none" stroke="#8484f6" stroke-width="0.72">
<circle cx="244.2" cy="222.3" r="1.55"/><circle cx="234.6" cy="256.4" r="1.55"/><circle cx="223.2" cy="253.5" r="1.55"/><circle cx="265.4" cy="239.7" r="1.55"/><circle cx="243.7" cy="247.5" r="1.55"/><circle cx="260.7" cy="269.7" r="1.55"/><circle cx="228.2" cy="247.8" r="1.55"/><circle cx="278.1" cy="246.6" r="1.55"/><circle cx="242.0" cy="258.4" r="1.55"/><circle cx="237.2" cy="258.8" r="1.55"/><circle cx="240.7" cy="247.6" r="1.55"/><circle cx="284.9" cy="266.4" r="1.55"/><circle cx="238.6" cy="245.1" r="1.55"/><circle cx="241.6" cy="230.0" r="1.55"/><circle cx="258.2" cy="233.7" r="1.55"/><circle cx="232.8" cy="265.9" r="1.55"/><circle cx="254.2" cy="269.0" r="1.55"/><circle cx="252.6" cy="225.4" r="1.55"/><circle cx="241.2" cy="247.2" r="1.55"/><circle cx="239.4" cy="262.2" r="1.55"/><circle cx="256.5" cy="256.7" r="1.55"/><circle cx="235.7" cy="250.7" r="1.55"/><circle cx="240.7" cy="247.6" r="1.55"/><circle cx="263.5" cy="240.2" r="1.55"/><circle cx="234.2" cy="250.1" r="1.55"/><circle cx="273.1" cy="240.3" r="1.55"/><circle cx="217.1" cy="254.7" r="1.55"/><circle cx="226.0" cy="254.6" r="1.55"/><circle cx="302.0" cy="258.6" r="1.55"/><circle cx="262.4" cy="267.6" r="1.55"/><circle cx="262.0" cy="253.5" r="1.55"/><circle cx="231.4" cy="262.4" r="1.55"/><circle cx="223.6" cy="243.2" r="1.55"/><circle cx="238.2" cy="248.5" r="1.55"/><circle cx="238.5" cy="248.3" r="1.55"/><circle cx="236.9" cy="246.2" r="1.55"/><circle cx="296.6" cy="250.4" r="1.55"/><circle cx="243.2" cy="263.6" r="1.55"/><circle cx="246.8" cy="251.3" r="1.55"/><circle cx="244.5" cy="249.6" r="1.55"/><circle cx="235.5" cy="246.8" r="1.55"/><circle cx="236.5" cy="260.1" r="1.55"/><circle cx="270.5" cy="274.4" r="1.55"/><circle cx="262.8" cy="257.9" r="1.55"/><circle cx="244.1" cy="259.9" r="1.55"/><circle cx="256.0" cy="240.9" r="1.55"/><circle cx="248.9" cy="261.3" r="1.55"/><circle cx="282.5" cy="240.7" r="1.55"/><circle cx="255.6" cy="261.1" r="1.55"/><circle cx="272.7" cy="255.7" r="1.55"/><circle cx="234.0" cy="268.9" r="1.55"/><circle cx="226.1" cy="237.6" r="1.55"/><circle cx="270.0" cy="243.6" r="1.55"/><circle cx="235.7" cy="261.4" r="1.55"/><circle cx="224.6" cy="242.6" r="1.55"/><circle cx="237.9" cy="261.5" r="1.55"/><circle cx="270.7" cy="245.2" r="1.55"/><circle cx="244.6" cy="250.3" r="1.55"/><circle cx="250.0" cy="235.0" r="1.55"/><circle cx="257.3" cy="259.8" r="1.55"/><circle cx="231.9" cy="256.1" r="1.55"/><circle cx="263.7" cy="247.4" r="1.55"/><circle cx="243.1" cy="259.1" r="1.55"/><circle cx="223.7" cy="244.1" r="1.55"/><circle cx="252.0" cy="247.7" r="1.55"/><circle cx="232.3" cy="244.9" r="1.55"/><circle cx="228.7" cy="247.8" r="1.55"/><circle cx="216.3" cy="244.7" r="1.55"/><circle cx="225.5" cy="246.4" r="1.55"/><circle cx="299.4" cy="242.3" r="1.55"/><circle cx="280.6" cy="236.3" r="1.55"/><circle cx="238.5" cy="218.7" r="1.55"/><circle cx="247.4" cy="258.5" r="1.55"/><circle cx="220.6" cy="266.0" r="1.55"/><circle cx="241.1" cy="249.5" r="1.55"/><circle cx="231.1" cy="241.1" r="1.55"/><circle cx="227.3" cy="258.6" r="1.55"/><circle cx="234.3" cy="264.7" r="1.55"/><circle cx="226.7" cy="283.1" r="1.55"/><circle cx="230.5" cy="262.4" r="1.55"/><circle cx="240.9" cy="242.0" r="1.55"/><circle cx="255.4" cy="253.0" r="1.55"/><circle cx="227.8" cy="249.3" r="1.55"/><circle cx="264.9" cy="250.6" r="1.55"/><circle cx="254.2" cy="243.7" r="1.55"/><circle cx="250.9" cy="250.5" r="1.55"/><circle cx="220.7" cy="240.6" r="1.55"/><circle cx="262.5" cy="254.7" r="1.55"/><circle cx="279.3" cy="263.0" r="1.55"/><circle cx="235.6" cy="234.8" r="1.55"/><circle cx="291.2" cy="259.2" r="1.55"/><circle cx="243.5" cy="258.1" r="1.55"/><circle cx="238.0" cy="244.0" r="1.55"/><circle cx="251.0" cy="221.0" r="1.55"/><circle cx="250.8" cy="245.3" r="1.55"/><circle cx="259.8" cy="250.2" r="1.55"/><circle cx="238.3" cy="237.8" r="1.55"/><circle cx="268.4" cy="251.0" r="1.55"/><circle cx="228.1" cy="265.0" r="1.55"/><circle cx="241.4" cy="258.8" r="1.55"/><circle cx="231.8" cy="237.5" r="1.55"/><circle cx="232.2" cy="265.6" r="1.55"/><circle cx="237.1" cy="263.2" r="1.55"/><circle cx="270.6" cy="242.4" r="1.55"/><circle cx="218.3" cy="248.6" r="1.55"/><circle cx="228.9" cy="238.7" r="1.55"/><circle cx="288.0" cy="259.8" r="1.55"/><circle cx="241.6" cy="256.8" r="1.55"/><circle cx="219.6" cy="253.2" r="1.55"/><circle cx="266.3" cy="261.5" r="1.55"/><circle cx="251.5" cy="252.2" r="1.55"/><circle cx="234.7" cy="251.6" r="1.55"/><circle cx="230.8" cy="241.9" r="1.55"/><circle cx="227.6" cy="250.8" r="1.55"/><circle cx="266.6" cy="253.7" r="1.55"/><circle cx="262.9" cy="245.4" r="1.55"/><circle cx="229.2" cy="276.9" r="1.55"/><circle cx="274.7" cy="240.3" r="1.55"/><circle cx="254.5" cy="247.4" r="1.55"/><circle cx="242.9" cy="253.5" r="1.55"/><circle cx="240.5" cy="254.4" r="1.55"/><circle cx="243.9" cy="262.1" r="1.55"/><circle cx="305.6" cy="249.3" r="1.55"/><circle cx="221.0" cy="267.9" r="1.55"/><circle cx="256.9" cy="235.7" r="1.55"/><circle cx="250.5" cy="248.0" r="1.55"/><circle cx="242.5" cy="243.0" r="1.55"/><circle cx="231.2" cy="237.8" r="1.55"/><circle cx="298.2" cy="267.4" r="1.55"/><circle cx="230.8" cy="256.0" r="1.55"/><circle cx="237.1" cy="252.2" r="1.55"/><circle cx="222.3" cy="248.9" r="1.55"/><circle cx="239.7" cy="260.5" r="1.55"/><circle cx="292.1" cy="242.0" r="1.55"/><circle cx="240.0" cy="241.6" r="1.55"/><circle cx="225.2" cy="245.3" r="1.55"/><circle cx="236.5" cy="243.6" r="1.55"/><circle cx="238.9" cy="260.2" r="1.55"/><circle cx="250.4" cy="239.4" r="1.55"/><circle cx="231.5" cy="255.7" r="1.55"/><circle cx="226.0" cy="267.5" r="1.55"/><circle cx="235.3" cy="248.8" r="1.55"/><circle cx="253.3" cy="246.0" r="1.55"/><circle cx="254.2" cy="265.4" r="1.55"/><circle cx="260.4" cy="260.7" r="1.55"/><circle cx="258.2" cy="251.4" r="1.55"/><circle cx="253.7" cy="273.6" r="1.55"/><circle cx="225.2" cy="231.6" r="1.55"/><circle cx="283.7" cy="240.7" r="1.55"/><circle cx="262.9" cy="251.7" r="1.55"/><circle cx="234.4" cy="240.1" r="1.55"/><circle cx="226.4" cy="251.5" r="1.55"/><circle cx="240.3" cy="244.1" r="1.55"/><circle cx="224.8" cy="258.6" r="1.55"/><circle cx="236.0" cy="263.1" r="1.55"/><circle cx="255.2" cy="259.1" r="1.55"/><circle cx="247.7" cy="239.1" r="1.55"/><circle cx="256.8" cy="252.8" r="1.55"/><circle cx="249.3" cy="223.8" r="1.55"/><circle cx="264.8" cy="256.1" r="1.55"/><circle cx="242.8" cy="244.4" r="1.55"/><circle cx="246.2" cy="247.0" r="1.55"/><circle cx="233.8" cy="252.1" r="1.55"/><circle cx="244.5" cy="242.2" r="1.55"/><circle cx="252.9" cy="239.9" r="1.55"/><circle cx="229.7" cy="250.5" r="1.55"/><circle cx="241.9" cy="270.9" r="1.55"/><circle cx="243.0" cy="273.9" r="1.55"/><circle cx="297.8" cy="249.3" r="1.55"/><circle cx="231.2" cy="262.1" r="1.55"/><circle cx="281.1" cy="244.6" r="1.55"/><circle cx="241.6" cy="251.5" r="1.55"/><circle cx="226.9" cy="246.4" r="1.55"/><circle cx="243.8" cy="233.9" r="1.55"/><circle cx="247.7" cy="248.3" r="1.55"/><circle cx="252.8" cy="252.4" r="1.55"/><circle cx="262.2" cy="261.1" r="1.55"/><circle cx="240.6" cy="242.2" r="1.55"/><circle cx="263.4" cy="259.4" r="1.55"/><circle cx="260.0" cy="259.8" r="1.55"/><circle cx="269.5" cy="243.9" r="1.55"/><circle cx="238.6" cy="247.0" r="1.55"/><circle cx="275.1" cy="252.0" r="1.55"/><circle cx="234.7" cy="247.7" r="1.55"/><circle cx="237.4" cy="227.4" r="1.55"/><circle cx="238.3" cy="256.0" r="1.55"/><circle cx="244.3" cy="259.4" r="1.55"/><circle cx="261.7" cy="249.0" r="1.55"/><circle cx="247.2" cy="251.6" r="1.55"/><circle cx="235.5" cy="267.0" r="1.55"/><circle cx="258.7" cy="243.9" r="1.55"/><circle cx="232.8" cy="241.4" r="1.55"/><circle cx="235.0" cy="233.8" r="1.55"/><circle cx="245.1" cy="278.9" r="1.55"/><circle cx="249.4" cy="261.7" r="1.55"/><circle cx="237.1" cy="243.8" r="1.55"/><circle cx="232.4" cy="259.5" r="1.55"/><circle cx="294.1" cy="252.2" r="1.55"/><circle cx="237.5" cy="253.7" r="1.55"/><circle cx="239.4" cy="265.7" r="1.55"/><circle cx="235.1" cy="254.1" r="1.55"/><circle cx="239.1" cy="243.4" r="1.55"/><circle cx="236.1" cy="258.5" r="1.55"/><circle cx="246.3" cy="227.7" r="1.55"/><circle cx="287.8" cy="250.4" r="1.55"/><circle cx="266.8" cy="255.8" r="1.55"/><circle cx="224.4" cy="258.9" r="1.55"/><circle cx="252.4" cy="251.7" r="1.55"/><circle cx="267.6" cy="254.3" r="1.55"/><circle cx="236.7" cy="257.7" r="1.55"/><circle cx="241.5" cy="236.9" r="1.55"/><circle cx="261.6" cy="240.9" r="1.55"/><circle cx="235.6" cy="262.8" r="1.55"/><circle cx="237.0" cy="244.7" r="1.55"/><circle cx="220.7" cy="249.8" r="1.55"/><circle cx="271.1" cy="242.7" r="1.55"/><circle cx="258.9" cy="256.1" r="1.55"/><circle cx="274.9" cy="230.1" r="1.55"/><circle cx="278.9" cy="249.2" r="1.55"/><circle cx="233.6" cy="231.3" r="1.55"/><circle cx="227.0" cy="240.0" r="1.55"/><circle cx="237.2" cy="239.2" r="1.55"/><circle cx="232.7" cy="244.7" r="1.55"/><circle cx="235.2" cy="236.7" r="1.55"/><circle cx="244.9" cy="251.6" r="1.55"/><circle cx="226.1" cy="228.9" r="1.55"/><circle cx="230.2" cy="259.9" r="1.55"/><circle cx="248.8" cy="234.5" r="1.55"/><circle cx="249.3" cy="244.3" r="1.55"/><circle cx="284.1" cy="276.3" r="1.55"/><circle cx="224.3" cy="248.8" r="1.55"/><circle cx="244.5" cy="240.0" r="1.55"/><circle cx="260.2" cy="234.6" r="1.55"/><circle cx="237.9" cy="250.6" r="1.55"/><circle cx="228.2" cy="240.5" r="1.55"/><circle cx="235.2" cy="228.3" r="1.55"/><circle cx="275.0" cy="255.6" r="1.55"/><circle cx="259.0" cy="255.2" r="1.55"/><circle cx="228.5" cy="262.6" r="1.55"/><circle cx="230.9" cy="247.7" r="1.55"/><circle cx="245.5" cy="254.9" r="1.55"/><circle cx="288.0" cy="250.5" r="1.55"/><circle cx="293.8" cy="274.2" r="1.55"/><circle cx="216.1" cy="241.3" r="1.55"/><circle cx="238.6" cy="257.4" r="1.55"/><circle cx="233.7" cy="265.8" r="1.55"/><circle cx="243.6" cy="260.2" r="1.55"/><circle cx="277.2" cy="248.2" r="1.55"/><circle cx="245.4" cy="257.2" r="1.55"/><circle cx="230.4" cy="257.7" r="1.55"/><circle cx="273.1" cy="229.6" r="1.55"/><circle cx="260.0" cy="252.5" r="1.55"/><circle cx="246.8" cy="247.7" r="1.55"/><circle cx="253.6" cy="247.8" r="1.55"/><circle cx="238.1" cy="236.3" r="1.55"/><circle cx="245.5" cy="247.0" r="1.55"/><circle cx="225.7" cy="243.4" r="1.55"/><circle cx="292.9" cy="249.1" r="1.55"/><circle cx="246.9" cy="235.4" r="1.55"/><circle cx="232.6" cy="263.3" r="1.55"/><circle cx="268.2" cy="260.3" r="1.55"/><circle cx="265.6" cy="254.6" r="1.55"/><circle cx="263.4" cy="230.9" r="1.55"/><circle cx="244.3" cy="235.4" r="1.55"/><circle cx="252.6" cy="260.1" r="1.55"/><circle cx="228.5" cy="254.1" r="1.55"/><circle cx="234.9" cy="250.0" r="1.55"/><circle cx="228.8" cy="249.2" r="1.55"/><circle cx="287.8" cy="241.5" r="1.55"/><circle cx="234.8" cy="254.4" r="1.55"/><circle cx="244.7" cy="265.3" r="1.55"/><circle cx="237.1" cy="244.0" r="1.55"/><circle cx="245.0" cy="238.1" r="1.55"/><circle cx="233.1" cy="264.1" r="1.55"/><circle cx="232.6" cy="267.3" r="1.55"/><circle cx="227.6" cy="254.0" r="1.55"/><circle cx="242.8" cy="267.2" r="1.55"/><circle cx="250.2" cy="245.8" r="1.55"/><circle cx="223.9" cy="260.6" r="1.55"/><circle cx="259.1" cy="258.9" r="1.55"/><circle cx="269.6" cy="253.0" r="1.55"/><circle cx="230.7" cy="248.6" r="1.55"/><circle cx="237.2" cy="243.6" r="1.55"/><circle cx="228.7" cy="251.7" r="1.55"/><circle cx="261.1" cy="259.3" r="1.55"/><circle cx="276.8" cy="241.3" r="1.55"/><circle cx="245.3" cy="263.5" r="1.55"/><circle cx="219.0" cy="236.7" r="1.55"/><circle cx="268.3" cy="240.1" r="1.55"/><circle cx="220.9" cy="254.7" r="1.55"/><circle cx="287.7" cy="246.1" r="1.55"/><circle cx="246.1" cy="245.9" r="1.55"/><circle cx="238.8" cy="245.1" r="1.55"/><circle cx="236.1" cy="268.5" r="1.55"/><circle cx="230.5" cy="258.0" r="1.55"/><circle cx="235.0" cy="246.6" r="1.55"/><circle cx="257.5" cy="246.3" r="1.55"/><circle cx="247.7" cy="250.6" r="1.55"/><circle cx="235.9" cy="237.7" r="1.55"/><circle cx="229.5" cy="251.4" r="1.55"/><circle cx="228.2" cy="241.0" r="1.55"/><circle cx="234.7" cy="239.7" r="1.55"/><circle cx="251.7" cy="246.5" r="1.55"/><circle cx="249.4" cy="251.6" r="1.55"/><circle cx="244.6" cy="242.9" r="1.55"/><circle cx="234.8" cy="245.6" r="1.55"/><circle cx="232.7" cy="244.0" r="1.55"/><circle cx="239.5" cy="257.8" r="1.55"/><circle cx="251.4" cy="245.4" r="1.55"/><circle cx="223.9" cy="234.9" r="1.55"/><circle cx="300.5" cy="252.4" r="1.55"/><circle cx="242.8" cy="248.5" r="1.55"/><circle cx="224.8" cy="251.7" r="1.55"/><circle cx="256.5" cy="239.0" r="1.55"/><circle cx="259.0" cy="246.8" r="1.55"/><circle cx="234.8" cy="259.7" r="1.55"/><circle cx="251.2" cy="245.0" r="1.55"/><circle cx="227.4" cy="251.8" r="1.55"/><circle cx="225.8" cy="267.1" r="1.55"/><circle cx="300.0" cy="239.2" r="1.55"/><circle cx="267.8" cy="246.3" r="1.55"/><circle cx="258.1" cy="243.5" r="1.55"/><circle cx="303.8" cy="238.5" r="1.55"/><circle cx="300.0" cy="248.1" r="1.55"/><circle cx="247.9" cy="251.9" r="1.55"/><circle cx="244.1" cy="236.0" r="1.55"/><circle cx="227.9" cy="244.5" r="1.55"/><circle cx="243.2" cy="255.5" r="1.55"/><circle cx="267.1" cy="243.5" r="1.55"/><circle cx="249.4" cy="230.7" r="1.55"/><circle cx="224.8" cy="252.6" r="1.55"/><circle cx="236.6" cy="245.4" r="1.55"/><circle cx="220.8" cy="267.0" r="1.55"/><circle cx="259.1" cy="241.4" r="1.55"/><circle cx="266.0" cy="253.5" r="1.55"/><circle cx="261.4" cy="249.8" r="1.55"/><circle cx="262.1" cy="231.5" r="1.55"/><circle cx="234.6" cy="243.2" r="1.55"/><circle cx="244.8" cy="255.4" r="1.55"/><circle cx="281.4" cy="242.3" r="1.55"/><circle cx="217.5" cy="228.0" r="1.55"/><circle cx="249.0" cy="235.4" r="1.55"/><circle cx="271.1" cy="264.6" r="1.55"/><circle cx="251.5" cy="248.7" r="1.55"/><circle cx="247.0" cy="255.9" r="1.55"/><circle cx="238.6" cy="261.4" r="1.55"/><circle cx="282.6" cy="244.1" r="1.55"/><circle cx="238.5" cy="248.4" r="1.55"/><circle cx="240.6" cy="249.3" r="1.55"/><circle cx="298.1" cy="258.0" r="1.55"/><circle cx="247.4" cy="246.8" r="1.55"/><circle cx="253.8" cy="262.5" r="1.55"/><circle cx="293.0" cy="257.4" r="1.55"/><circle cx="243.2" cy="246.6" r="1.55"/><circle cx="286.2" cy="255.6" r="1.55"/><circle cx="233.9" cy="245.6" r="1.55"/><circle cx="233.6" cy="250.1" r="1.55"/><circle cx="269.3" cy="241.7" r="1.55"/><circle cx="225.8" cy="241.2" r="1.55"/><circle cx="224.1" cy="245.9" r="1.55"/><circle cx="286.8" cy="225.6" r="1.55"/><circle cx="220.7" cy="255.7" r="1.55"/><circle cx="242.8" cy="265.3" r="1.55"/><circle cx="223.3" cy="255.7" r="1.55"/><circle cx="228.0" cy="236.4" r="1.55"/><circle cx="240.2" cy="239.8" r="1.55"/><circle cx="239.2" cy="251.8" r="1.55"/><circle cx="251.1" cy="228.6" r="1.55"/><circle cx="244.5" cy="256.2" r="1.55"/><circle cx="232.3" cy="230.4" r="1.55"/><circle cx="237.2" cy="238.5" r="1.55"/><circle cx="295.6" cy="238.3" r="1.55"/><circle cx="240.6" cy="264.5" r="1.55"/><circle cx="256.4" cy="262.1" r="1.55"/><circle cx="295.3" cy="255.1" r="1.55"/><circle cx="230.1" cy="245.1" r="1.55"/><circle cx="224.7" cy="248.6" r="1.55"/><circle cx="255.4" cy="259.7" r="1.55"/><circle cx="268.8" cy="245.2" r="1.55"/><circle cx="233.9" cy="251.7" r="1.55"/><circle cx="232.1" cy="254.8" r="1.55"/><circle cx="225.6" cy="243.6" r="1.55"/><circle cx="258.6" cy="245.5" r="1.55"/><circle cx="236.1" cy="248.4" r="1.55"/><circle cx="243.8" cy="253.0" r="1.55"/><circle cx="241.7" cy="250.1" r="1.55"/><circle cx="222.3" cy="267.4" r="1.55"/><circle cx="219.8" cy="267.7" r="1.55"/><circle cx="266.7" cy="255.9" r="1.55"/><circle cx="260.6" cy="248.4" r="1.55"/><circle cx="276.3" cy="233.4" r="1.55"/><circle cx="237.5" cy="246.0" r="1.55"/><circle cx="229.6" cy="258.8" r="1.55"/><circle cx="240.5" cy="254.1" r="1.55"/><circle cx="228.2" cy="261.3" r="1.55"/><circle cx="245.0" cy="250.1" r="1.55"/><circle cx="237.9" cy="237.4" r="1.55"/><circle cx="234.2" cy="250.0" r="1.55"/><circle cx="244.6" cy="235.0" r="1.55"/><circle cx="236.5" cy="240.1" r="1.55"/><circle cx="227.7" cy="243.4" r="1.55"/><circle cx="300.5" cy="260.3" r="1.55"/><circle cx="238.9" cy="241.9" r="1.55"/><circle cx="235.8" cy="259.0" r="1.55"/><circle cx="252.7" cy="246.1" r="1.55"/><circle cx="274.8" cy="248.8" r="1.55"/><circle cx="245.3" cy="234.2" r="1.55"/><circle cx="224.3" cy="250.6" r="1.55"/><circle cx="237.0" cy="250.5" r="1.55"/><circle cx="224.0" cy="252.2" r="1.55"/><circle cx="232.5" cy="241.7" r="1.55"/><circle cx="248.5" cy="258.2" r="1.55"/><circle cx="231.6" cy="252.1" r="1.55"/><circle cx="234.8" cy="242.0" r="1.55"/><circle cx="305.1" cy="239.5" r="1.55"/><circle cx="234.3" cy="234.7" r="1.55"/><circle cx="258.9" cy="235.8" r="1.55"/><circle cx="233.1" cy="254.5" r="1.55"/><circle cx="298.8" cy="250.5" r="1.55"/><circle cx="264.7" cy="248.1" r="1.55"/><circle cx="242.6" cy="265.3" r="1.55"/><circle cx="238.0" cy="233.8" r="1.55"/><circle cx="275.3" cy="262.8" r="1.55"/><circle cx="244.6" cy="245.9" r="1.55"/><circle cx="264.0" cy="260.9" r="1.55"/><circle cx="291.4" cy="221.9" r="1.55"/><circle cx="251.2" cy="242.0" r="1.55"/><circle cx="265.4" cy="247.1" r="1.55"/><circle cx="248.9" cy="257.5" r="1.55"/><circle cx="235.6" cy="255.5" r="1.55"/><circle cx="239.2" cy="241.0" r="1.55"/><circle cx="240.4" cy="250.2" r="1.55"/><circle cx="262.1" cy="244.2" r="1.55"/><circle cx="257.7" cy="249.1" r="1.55"/><circle cx="244.7" cy="272.7" r="1.55"/><circle cx="241.8" cy="247.2" r="1.55"/><circle cx="244.5" cy="238.0" r="1.55"/><circle cx="260.5" cy="233.2" r="1.55"/><circle cx="277.1" cy="236.1" r="1.55"/><circle cx="245.7" cy="256.3" r="1.55"/><circle cx="228.7" cy="247.7" r="1.55"/><circle cx="225.5" cy="232.3" r="1.55"/><circle cx="228.4" cy="282.8" r="1.55"/><circle cx="277.5" cy="256.2" r="1.55"/><circle cx="225.5" cy="250.9" r="1.55"/><circle cx="235.3" cy="239.9" r="1.55"/><circle cx="242.7" cy="268.3" r="1.55"/><circle cx="230.0" cy="271.2" r="1.55"/><circle cx="243.1" cy="261.6" r="1.55"/><circle cx="248.7" cy="255.3" r="1.55"/><circle cx="246.1" cy="245.6" r="1.55"/><circle cx="259.6" cy="254.4" r="1.55"/><circle cx="278.6" cy="247.9" r="1.55"/><circle cx="219.2" cy="232.4" r="1.55"/><circle cx="280.2" cy="222.1" r="1.55"/><circle cx="279.5" cy="241.5" r="1.55"/><circle cx="286.9" cy="258.5" r="1.55"/><circle cx="277.0" cy="240.4" r="1.55"/><circle cx="246.6" cy="249.6" r="1.55"/><circle cx="228.3" cy="246.4" r="1.55"/><circle cx="295.9" cy="240.7" r="1.55"/><circle cx="224.5" cy="242.5" r="1.55"/><circle cx="253.8" cy="261.6" r="1.55"/><circle cx="237.7" cy="260.0" r="1.55"/><circle cx="266.7" cy="247.1" r="1.55"/><circle cx="238.1" cy="243.1" r="1.55"/><circle cx="237.1" cy="252.9" r="1.55"/><circle cx="228.1" cy="244.1" r="1.55"/><circle cx="275.7" cy="265.3" r="1.55"/><circle cx="237.2" cy="254.0" r="1.55"/><circle cx="261.9" cy="256.1" r="1.55"/><circle cx="267.6" cy="265.5" r="1.55"/><circle cx="247.9" cy="261.6" r="1.55"/><circle cx="243.7" cy="234.8" r="1.55"/><circle cx="236.5" cy="248.7" r="1.55"/><circle cx="241.7" cy="256.6" r="1.55"/><circle cx="250.6" cy="249.5" r="1.55"/><circle cx="255.1" cy="252.2" r="1.55"/><circle cx="264.8" cy="251.7" r="1.55"/><circle cx="256.3" cy="253.6" r="1.55"/><circle cx="242.7" cy="247.0" r="1.55"/><circle cx="229.7" cy="223.3" r="1.55"/><circle cx="231.5" cy="273.9" r="1.55"/><circle cx="237.6" cy="270.7" r="1.55"/><circle cx="253.9" cy="250.9" r="1.55"/><circle cx="259.0" cy="238.8" r="1.55"/><circle cx="232.9" cy="248.1" r="1.55"/><circle cx="235.6" cy="256.0" r="1.55"/><circle cx="276.0" cy="248.5" r="1.55"/><circle cx="219.3" cy="244.7" r="1.55"/><circle cx="250.0" cy="245.2" r="1.55"/><circle cx="298.3" cy="246.4" r="1.55"/><circle cx="230.1" cy="262.9" r="1.55"/><circle cx="229.7" cy="256.0" r="1.55"/><circle cx="227.3" cy="243.2" r="1.55"/><circle cx="241.4" cy="246.0" r="1.55"/><circle cx="222.0" cy="248.4" r="1.55"/><circle cx="288.3" cy="260.0" r="1.55"/><circle cx="238.7" cy="255.9" r="1.55"/><circle cx="263.0" cy="248.2" r="1.55"/><circle cx="227.8" cy="246.9" r="1.55"/><circle cx="240.3" cy="249.8" r="1.55"/><circle cx="260.7" cy="257.3" r="1.55"/><circle cx="216.7" cy="251.8" r="1.55"/><circle cx="224.8" cy="260.3" r="1.55"/><circle cx="247.5" cy="259.7" r="1.55"/><circle cx="281.1" cy="257.1" r="1.55"/><circle cx="242.7" cy="219.5" r="1.55"/><circle cx="228.6" cy="245.4" r="1.55"/><circle cx="241.2" cy="242.7" r="1.55"/><circle cx="285.4" cy="247.2" r="1.55"/><circle cx="255.9" cy="255.4" r="1.55"/><circle cx="243.4" cy="243.2" r="1.55"/><circle cx="242.0" cy="247.4" r="1.55"/><circle cx="229.6" cy="254.0" r="1.55"/><circle cx="256.1" cy="252.6" r="1.55"/><circle cx="218.1" cy="252.6" r="1.55"/><circle cx="252.7" cy="264.4" r="1.55"/><circle cx="231.0" cy="238.1" r="1.55"/><circle cx="223.7" cy="262.8" r="1.55"/><circle cx="230.6" cy="264.1" r="1.55"/><circle cx="248.7" cy="242.4" r="1.55"/><circle cx="261.4" cy="247.1" r="1.55"/><circle cx="303.6" cy="265.9" r="1.55"/><circle cx="250.6" cy="230.6" r="1.55"/><circle cx="302.3" cy="246.5" r="1.55"/><circle cx="239.0" cy="253.2" r="1.55"/><circle cx="265.1" cy="262.6" r="1.55"/><circle cx="272.6" cy="260.6" r="1.55"/><circle cx="232.1" cy="247.5" r="1.55"/><circle cx="245.6" cy="250.7" r="1.55"/><circle cx="291.1" cy="274.6" r="1.55"/><circle cx="217.8" cy="268.0" r="1.55"/><circle cx="241.5" cy="257.7" r="1.55"/><circle cx="235.6" cy="250.3" r="1.55"/><circle cx="241.7" cy="245.8" r="1.55"/><circle cx="270.3" cy="241.5" r="1.55"/><circle cx="282.0" cy="247.7" r="1.55"/><circle cx="249.5" cy="236.7" r="1.55"/><circle cx="265.3" cy="243.2" r="1.55"/><circle cx="258.5" cy="236.3" r="1.55"/><circle cx="217.3" cy="257.7" r="1.55"/><circle cx="287.9" cy="244.5" r="1.55"/><circle cx="303.6" cy="239.9" r="1.55"/><circle cx="238.2" cy="265.9" r="1.55"/><circle cx="279.7" cy="241.4" r="1.55"/><circle cx="301.6" cy="246.0" r="1.55"/><circle cx="237.1" cy="264.7" r="1.55"/><circle cx="222.0" cy="248.2" r="1.55"/><circle cx="236.7" cy="239.4" r="1.55"/><circle cx="229.7" cy="253.6" r="1.55"/><circle cx="225.0" cy="283.9" r="1.55"/><circle cx="272.2" cy="243.2" r="1.55"/><circle cx="238.5" cy="238.3" r="1.55"/><circle cx="267.6" cy="262.0" r="1.55"/><circle cx="244.3" cy="238.9" r="1.55"/><circle cx="274.4" cy="239.1" r="1.55"/><circle cx="231.4" cy="240.4" r="1.55"/><circle cx="265.1" cy="257.5" r="1.55"/><circle cx="232.4" cy="238.3" r="1.55"/><circle cx="304.0" cy="254.1" r="1.55"/><circle cx="266.4" cy="241.4" r="1.55"/><circle cx="247.3" cy="250.2" r="1.55"/><circle cx="224.7" cy="268.8" r="1.55"/><circle cx="265.2" cy="256.2" r="1.55"/><circle cx="218.2" cy="255.3" r="1.55"/><circle cx="238.4" cy="230.4" r="1.55"/><circle cx="232.1" cy="256.8" r="1.55"/><circle cx="272.7" cy="255.3" r="1.55"/><circle cx="250.0" cy="246.8" r="1.55"/><circle cx="278.5" cy="252.1" r="1.55"/><circle cx="241.2" cy="244.1" r="1.55"/><circle cx="257.5" cy="253.2" r="1.55"/><circle cx="234.4" cy="253.0" r="1.55"/><circle cx="247.4" cy="246.6" r="1.55"/><circle cx="244.4" cy="243.7" r="1.55"/><circle cx="244.3" cy="258.8" r="1.55"/><circle cx="241.7" cy="259.7" r="1.55"/><circle cx="266.0" cy="253.9" r="1.55"/><circle cx="250.2" cy="247.7" r="1.55"/><circle cx="272.5" cy="256.8" r="1.55"/><circle cx="233.6" cy="245.8" r="1.55"/><circle cx="242.7" cy="262.5" r="1.55"/><circle cx="277.1" cy="246.8" r="1.55"/><circle cx="242.9" cy="239.0" r="1.55"/><circle cx="239.0" cy="273.8" r="1.55"/><circle cx="259.0" cy="250.0" r="1.55"/><circle cx="223.9" cy="247.5" r="1.55"/><circle cx="252.3" cy="245.7" r="1.55"/><circle cx="234.8" cy="248.9" r="1.55"/><circle cx="241.0" cy="250.4" r="1.55"/><circle cx="242.2" cy="247.2" r="1.55"/><circle cx="277.4" cy="248.8" r="1.55"/><circle cx="264.4" cy="249.0" r="1.55"/><circle cx="254.8" cy="235.5" r="1.55"/><circle cx="249.9" cy="240.5" r="1.55"/><circle cx="244.6" cy="241.4" r="1.55"/><circle cx="234.3" cy="255.5" r="1.55"/><circle cx="241.9" cy="254.2" r="1.55"/><circle cx="275.1" cy="240.2" r="1.55"/><circle cx="221.5" cy="259.3" r="1.55"/><circle cx="269.0" cy="240.6" r="1.55"/><circle cx="261.2" cy="261.9" r="1.55"/><circle cx="253.5" cy="230.6" r="1.55"/><circle cx="255.1" cy="238.6" r="1.55"/><circle cx="265.8" cy="272.3" r="1.55"/><circle cx="217.0" cy="253.9" r="1.55"/><circle cx="238.4" cy="278.7" r="1.55"/><circle cx="248.3" cy="250.2" r="1.55"/><circle cx="228.8" cy="239.0" r="1.55"/><circle cx="246.9" cy="250.5" r="1.55"/><circle cx="282.9" cy="250.5" r="1.55"/><circle cx="241.0" cy="231.3" r="1.55"/><circle cx="250.7" cy="244.8" r="1.55"/><circle cx="225.3" cy="246.1" r="1.55"/><circle cx="286.3" cy="252.5" r="1.55"/><circle cx="251.7" cy="244.5" r="1.55"/><circle cx="248.6" cy="226.1" r="1.55"/><circle cx="229.3" cy="245.7" r="1.55"/><circle cx="241.9" cy="264.8" r="1.55"/><circle cx="221.1" cy="247.8" r="1.55"/><circle cx="273.3" cy="232.5" r="1.55"/><circle cx="235.3" cy="239.0" r="1.55"/><circle cx="233.8" cy="250.4" r="1.55"/><circle cx="244.1" cy="246.6" r="1.55"/><circle cx="251.4" cy="263.1" r="1.55"/><circle cx="226.0" cy="244.0" r="1.55"/><circle cx="223.8" cy="257.7" r="1.55"/><circle cx="246.2" cy="254.6" r="1.55"/><circle cx="276.1" cy="254.9" r="1.55"/><circle cx="268.7" cy="256.2" r="1.55"/><circle cx="246.7" cy="234.5" r="1.55"/><circle cx="279.2" cy="236.4" r="1.55"/><circle cx="235.8" cy="252.4" r="1.55"/><circle cx="238.7" cy="248.9" r="1.55"/><circle cx="253.2" cy="234.6" r="1.55"/><circle cx="250.7" cy="252.4" r="1.55"/><circle cx="258.9" cy="253.8" r="1.55"/><circle cx="290.7" cy="257.4" r="1.55"/><circle cx="232.0" cy="235.7" r="1.55"/><circle cx="253.6" cy="248.3" r="1.55"/><circle cx="242.4" cy="249.7" r="1.55"/><circle cx="221.6" cy="258.4" r="1.55"/><circle cx="288.5" cy="258.0" r="1.55"/><circle cx="228.2" cy="241.2" r="1.55"/><circle cx="229.6" cy="236.0" r="1.55"/><circle cx="235.8" cy="254.5" r="1.55"/><circle cx="254.4" cy="265.0" r="1.55"/><circle cx="296.6" cy="222.4" r="1.55"/><circle cx="226.4" cy="254.5" r="1.55"/><circle cx="234.1" cy="254.2" r="1.55"/><circle cx="284.0" cy="263.5" r="1.55"/><circle cx="239.4" cy="255.4" r="1.55"/><circle cx="260.0" cy="266.8" r="1.55"/><circle cx="256.5" cy="224.3" r="1.55"/><circle cx="267.7" cy="244.6" r="1.55"/><circle cx="247.7" cy="281.8" r="1.55"/><circle cx="298.0" cy="262.0" r="1.55"/><circle cx="238.8" cy="228.8" r="1.55"/><circle cx="238.1" cy="245.9" r="1.55"/><circle cx="252.5" cy="249.9" r="1.55"/><circle cx="254.2" cy="249.5" r="1.55"/><circle cx="262.1" cy="249.8" r="1.55"/><circle cx="264.7" cy="244.0" r="1.55"/><circle cx="228.5" cy="262.2" r="1.55"/><circle cx="261.3" cy="255.2" r="1.55"/><circle cx="253.4" cy="246.4" r="1.55"/><circle cx="230.8" cy="249.7" r="1.55"/><circle cx="252.8" cy="259.5" r="1.55"/><circle cx="225.7" cy="252.5" r="1.55"/><circle cx="269.6" cy="256.2" r="1.55"/><circle cx="258.1" cy="249.7" r="1.55"/><circle cx="242.9" cy="264.9" r="1.55"/><circle cx="234.9" cy="264.6" r="1.55"/><circle cx="243.9" cy="243.9" r="1.55"/><circle cx="223.4" cy="234.0" r="1.55"/><circle cx="231.4" cy="227.6" r="1.55"/><circle cx="260.1" cy="241.1" r="1.55"/><circle cx="238.0" cy="238.9" r="1.55"/><circle cx="262.6" cy="249.8" r="1.55"/><circle cx="246.3" cy="235.6" r="1.55"/><circle cx="226.1" cy="246.7" r="1.55"/><circle cx="218.5" cy="249.3" r="1.55"/><circle cx="242.7" cy="240.1" r="1.55"/><circle cx="231.9" cy="260.9" r="1.55"/><circle cx="235.7" cy="269.7" r="1.55"/><circle cx="288.7" cy="260.7" r="1.55"/><circle cx="243.4" cy="237.3" r="1.55"/><circle cx="232.0" cy="241.8" r="1.55"/><circle cx="237.5" cy="268.4" r="1.55"/><circle cx="246.9" cy="252.1" r="1.55"/><circle cx="228.7" cy="251.5" r="1.55"/><circle cx="225.6" cy="246.5" r="1.55"/><circle cx="287.7" cy="257.8" r="1.55"/><circle cx="266.4" cy="243.0" r="1.55"/><circle cx="246.7" cy="237.8" r="1.55"/><circle cx="268.6" cy="253.0" r="1.55"/><circle cx="233.1" cy="246.4" r="1.55"/><circle cx="230.8" cy="252.6" r="1.55"/><circle cx="233.1" cy="258.4" r="1.55"/><circle cx="226.6" cy="251.2" r="1.55"/><circle cx="228.5" cy="266.3" r="1.55"/><circle cx="244.1" cy="254.4" r="1.55"/><circle cx="244.1" cy="249.3" r="1.55"/><circle cx="239.3" cy="246.5" r="1.55"/><circle cx="236.7" cy="253.5" r="1.55"/><circle cx="259.7" cy="239.0" r="1.55"/><circle cx="258.3" cy="265.3" r="1.55"/><circle cx="252.3" cy="252.0" r="1.55"/><circle cx="265.7" cy="254.4" r="1.55"/><circle cx="249.7" cy="250.1" r="1.55"/><circle cx="241.9" cy="273.5" r="1.55"/><circle cx="250.8" cy="250.1" r="1.55"/><circle cx="258.7" cy="250.0" r="1.55"/><circle cx="283.7" cy="258.4" r="1.55"/><circle cx="239.6" cy="227.5" r="1.55"/><circle cx="241.6" cy="249.7" r="1.55"/><circle cx="226.3" cy="251.5" r="1.55"/><circle cx="267.7" cy="242.0" r="1.55"/><circle cx="225.4" cy="255.4" r="1.55"/><circle cx="236.8" cy="252.1" r="1.55"/><circle cx="238.1" cy="242.2" r="1.55"/><circle cx="258.7" cy="260.8" r="1.55"/><circle cx="240.7" cy="257.0" r="1.55"/><circle cx="235.0" cy="241.5" r="1.55"/><circle cx="231.3" cy="244.6" r="1.55"/><circle cx="226.5" cy="250.8" r="1.55"/><circle cx="268.9" cy="284.0" r="1.55"/><circle cx="257.7" cy="240.2" r="1.55"/><circle cx="227.0" cy="263.4" r="1.55"/><circle cx="241.2" cy="259.1" r="1.55"/><circle cx="266.3" cy="257.2" r="1.55"/><circle cx="245.9" cy="268.7" r="1.55"/><circle cx="252.9" cy="248.2" r="1.55"/><circle cx="282.4" cy="253.7" r="1.55"/><circle cx="221.0" cy="241.8" r="1.55"/><circle cx="228.4" cy="244.0" r="1.55"/><circle cx="229.8" cy="238.5" r="1.55"/><circle cx="282.9" cy="274.8" r="1.55"/><circle cx="268.3" cy="251.4" r="1.55"/><circle cx="250.8" cy="269.4" r="1.55"/><circle cx="230.8" cy="257.9" r="1.55"/><circle cx="232.4" cy="261.9" r="1.55"/><circle cx="231.1" cy="246.9" r="1.55"/><circle cx="254.6" cy="252.4" r="1.55"/><circle cx="220.7" cy="279.5" r="1.55"/><circle cx="256.9" cy="235.4" r="1.55"/><circle cx="224.7" cy="238.7" r="1.55"/><circle cx="260.4" cy="243.7" r="1.55"/><circle cx="277.8" cy="247.7" r="1.55"/><circle cx="242.3" cy="266.4" r="1.55"/><circle cx="293.9" cy="243.6" r="1.55"/><circle cx="266.9" cy="256.0" r="1.55"/><circle cx="292.7" cy="238.2" r="1.55"/><circle cx="236.3" cy="239.5" r="1.55"/><circle cx="241.3" cy="241.4" r="1.55"/><circle cx="244.5" cy="261.6" r="1.55"/><circle cx="235.6" cy="246.0" r="1.55"/><circle cx="266.3" cy="246.6" r="1.55"/><circle cx="230.1" cy="242.0" r="1.55"/><circle cx="231.5" cy="264.1" r="1.55"/><circle cx="221.9" cy="266.7" r="1.55"/><circle cx="247.4" cy="250.7" r="1.55"/><circle cx="235.9" cy="237.3" r="1.55"/><circle cx="243.8" cy="255.4" r="1.55"/><circle cx="255.5" cy="241.8" r="1.55"/><circle cx="231.8" cy="248.6" r="1.55"/><circle cx="229.9" cy="232.4" r="1.55"/><circle cx="233.2" cy="247.0" r="1.55"/><circle cx="274.2" cy="264.6" r="1.55"/><circle cx="217.9" cy="252.5" r="1.55"/><circle cx="265.8" cy="247.6" r="1.55"/><circle cx="260.6" cy="238.4" r="1.55"/><circle cx="251.7" cy="269.2" r="1.55"/><circle cx="262.4" cy="252.5" r="1.55"/><circle cx="246.2" cy="261.5" r="1.55"/><circle cx="241.0" cy="249.6" r="1.55"/><circle cx="225.8" cy="251.1" r="1.55"/><circle cx="240.0" cy="226.5" r="1.55"/><circle cx="239.9" cy="241.5" r="1.55"/><circle cx="281.5" cy="262.7" r="1.55"/><circle cx="262.2" cy="271.1" r="1.55"/><circle cx="267.8" cy="253.7" r="1.55"/><circle cx="223.8" cy="247.5" r="1.55"/><circle cx="254.7" cy="258.8" r="1.55"/><circle cx="251.8" cy="254.7" r="1.55"/><circle cx="260.7" cy="272.0" r="1.55"/><circle cx="240.3" cy="243.2" r="1.55"/><circle cx="272.8" cy="265.7" r="1.55"/><circle cx="292.8" cy="246.8" r="1.55"/><circle cx="229.4" cy="248.5" r="1.55"/><circle cx="257.1" cy="251.8" r="1.55"/><circle cx="226.7" cy="244.8" r="1.55"/><circle cx="252.4" cy="244.6" r="1.55"/><circle cx="240.1" cy="227.2" r="1.55"/><circle cx="250.4" cy="247.8" r="1.55"/><circle cx="230.1" cy="256.6" r="1.55"/><circle cx="241.0" cy="222.6" r="1.55"/><circle cx="247.6" cy="243.3" r="1.55"/><circle cx="268.8" cy="232.2" r="1.55"/><circle cx="248.2" cy="244.4" r="1.55"/><circle cx="237.6" cy="245.0" r="1.55"/><circle cx="231.7" cy="243.0" r="1.55"/><circle cx="284.3" cy="257.7" r="1.55"/><circle cx="268.6" cy="249.2" r="1.55"/><circle cx="269.1" cy="241.3" r="1.55"/><circle cx="290.9" cy="230.5" r="1.55"/><circle cx="255.3" cy="245.6" r="1.55"/><circle cx="269.7" cy="248.2" r="1.55"/><circle cx="262.4" cy="257.7" r="1.55"/><circle cx="257.3" cy="252.3" r="1.55"/><circle cx="219.1" cy="255.1" r="1.55"/><circle cx="237.4" cy="247.1" r="1.55"/><circle cx="216.4" cy="252.5" r="1.55"/><circle cx="230.8" cy="260.6" r="1.55"/><circle cx="244.6" cy="241.3" r="1.55"/><circle cx="222.3" cy="228.4" r="1.55"/><circle cx="236.1" cy="253.5" r="1.55"/><circle cx="233.5" cy="252.9" r="1.55"/><circle cx="228.9" cy="259.9" r="1.55"/><circle cx="242.5" cy="238.4" r="1.55"/><circle cx="228.4" cy="257.6" r="1.55"/><circle cx="229.4" cy="237.5" r="1.55"/><circle cx="251.7" cy="254.4" r="1.55"/><circle cx="241.6" cy="240.5" r="1.55"/><circle cx="242.9" cy="254.8" r="1.55"/><circle cx="248.8" cy="251.9" r="1.55"/><circle cx="246.9" cy="247.7" r="1.55"/><circle cx="267.2" cy="249.0" r="1.55"/><circle cx="246.0" cy="251.2" r="1.55"/><circle cx="216.7" cy="243.7" r="1.55"/><circle cx="234.4" cy="238.9" r="1.55"/><circle cx="282.9" cy="242.0" r="1.55"/><circle cx="254.0" cy="254.2" r="1.55"/><circle cx="246.9" cy="266.8" r="1.55"/><circle cx="241.2" cy="248.8" r="1.55"/><circle cx="262.1" cy="275.8" r="1.55"/><circle cx="282.1" cy="243.7" r="1.55"/><circle cx="268.9" cy="244.1" r="1.55"/><circle cx="238.5" cy="260.9" r="1.55"/><circle cx="249.9" cy="244.5" r="1.55"/><circle cx="251.7" cy="255.9" r="1.55"/><circle cx="240.3" cy="222.8" r="1.55"/><circle cx="257.1" cy="256.8" r="1.55"/><circle cx="233.3" cy="257.4" r="1.55"/><circle cx="294.4" cy="255.8" r="1.55"/><circle cx="255.7" cy="247.6" r="1.55"/><circle cx="248.5" cy="259.3" r="1.55"/><circle cx="234.4" cy="237.3" r="1.55"/><circle cx="232.4" cy="253.2" r="1.55"/><circle cx="275.6" cy="272.0" r="1.55"/><circle cx="228.2" cy="252.4" r="1.55"/><circle cx="244.6" cy="252.7" r="1.55"/><circle cx="240.0" cy="250.7" r="1.55"/><circle cx="278.6" cy="256.8" r="1.55"/><circle cx="240.0" cy="245.8" r="1.55"/><circle cx="259.6" cy="238.9" r="1.55"/><circle cx="276.3" cy="248.8" r="1.55"/><circle cx="231.9" cy="258.0" r="1.55"/><circle cx="251.4" cy="247.9" r="1.55"/><circle cx="251.4" cy="257.0" r="1.55"/><circle cx="246.1" cy="274.3" r="1.55"/><circle cx="233.9" cy="248.7" r="1.55"/><circle cx="233.4" cy="265.8" r="1.55"/><circle cx="230.0" cy="255.6" r="1.55"/><circle cx="284.6" cy="249.3" r="1.55"/><circle cx="254.3" cy="253.5" r="1.55"/><circle cx="240.5" cy="252.2" r="1.55"/><circle cx="227.2" cy="235.7" r="1.55"/><circle cx="241.2" cy="241.1" r="1.55"/><circle cx="246.4" cy="235.9" r="1.55"/><circle cx="256.5" cy="274.9" r="1.55"/><circle cx="242.7" cy="247.7" r="1.55"/><circle cx="258.8" cy="233.7" r="1.55"/><circle cx="232.9" cy="255.5" r="1.55"/><circle cx="295.8" cy="226.1" r="1.55"/><circle cx="259.8" cy="250.7" r="1.55"/><circle cx="285.2" cy="247.1" r="1.55"/><circle cx="252.4" cy="244.3" r="1.55"/><circle cx="229.4" cy="240.6" r="1.55"/><circle cx="230.4" cy="237.4" r="1.55"/><circle cx="262.2" cy="257.5" r="1.55"/><circle cx="241.5" cy="245.3" r="1.55"/><circle cx="240.7" cy="259.3" r="1.55"/><circle cx="252.3" cy="240.0" r="1.55"/><circle cx="221.4" cy="240.9" r="1.55"/><circle cx="267.2" cy="251.7" r="1.55"/><circle cx="237.5" cy="254.5" r="1.55"/><circle cx="261.2" cy="250.1" r="1.55"/><circle cx="237.9" cy="244.8" r="1.55"/><circle cx="259.9" cy="263.6" r="1.55"/><circle cx="278.7" cy="259.0" r="1.55"/><circle cx="227.3" cy="241.3" r="1.55"/><circle cx="239.2" cy="251.8" r="1.55"/><circle cx="251.8" cy="261.6" r="1.55"/><circle cx="275.1" cy="270.1" r="1.55"/><circle cx="276.7" cy="253.9" r="1.55"/><circle cx="235.0" cy="265.9" r="1.55"/><circle cx="281.4" cy="248.8" r="1.55"/><circle cx="245.3" cy="250.7" r="1.55"/><circle cx="274.9" cy="233.2" r="1.55"/><circle cx="222.2" cy="261.3" r="1.55"/><circle cx="241.6" cy="244.2" r="1.55"/><circle cx="240.2" cy="259.4" r="1.55"/><circle cx="255.8" cy="251.9" r="1.55"/><circle cx="263.5" cy="261.3" r="1.55"/><circle cx="271.1" cy="233.5" r="1.55"/><circle cx="256.9" cy="250.5" r="1.55"/><circle cx="259.9" cy="256.9" r="1.55"/><circle cx="225.3" cy="229.0" r="1.55"/><circle cx="236.4" cy="257.3" r="1.55"/><circle cx="253.1" cy="261.5" r="1.55"/><circle cx="253.9" cy="252.0" r="1.55"/><circle cx="227.4" cy="232.3" r="1.55"/><circle cx="230.8" cy="244.6" r="1.55"/><circle cx="254.5" cy="239.3" r="1.55"/><circle cx="232.1" cy="261.8" r="1.55"/><circle cx="259.4" cy="282.0" r="1.55"/><circle cx="282.4" cy="253.6" r="1.55"/><circle cx="245.1" cy="262.8" r="1.55"/><circle cx="252.3" cy="262.1" r="1.55"/><circle cx="248.8" cy="253.5" r="1.55"/><circle cx="262.7" cy="249.0" r="1.55"/><circle cx="279.7" cy="247.4" r="1.55"/><circle cx="251.4" cy="242.8" r="1.55"/><circle cx="240.2" cy="248.5" r="1.55"/><circle cx="230.1" cy="247.6" r="1.55"/><circle cx="284.2" cy="254.4" r="1.55"/><circle cx="235.7" cy="255.7" r="1.55"/><circle cx="259.0" cy="263.9" r="1.55"/><circle cx="262.1" cy="239.1" r="1.55"/><circle cx="237.5" cy="251.0" r="1.55"/><circle cx="243.2" cy="245.3" r="1.55"/><circle cx="255.5" cy="252.5" r="1.55"/><circle cx="233.9" cy="260.8" r="1.55"/><circle cx="253.5" cy="247.5" r="1.55"/><circle cx="247.6" cy="254.1" r="1.55"/><circle cx="256.9" cy="265.7" r="1.55"/><circle cx="224.3" cy="225.4" r="1.55"/><circle cx="250.3" cy="246.8" r="1.55"/><circle cx="229.6" cy="243.7" r="1.55"/><circle cx="247.3" cy="226.3" r="1.55"/><circle cx="240.8" cy="236.9" r="1.55"/><circle cx="248.4" cy="246.0" r="1.55"/><circle cx="246.7" cy="279.4" r="1.55"/><circle cx="261.4" cy="256.2" r="1.55"/><circle cx="242.3" cy="253.1" r="1.55"/><circle cx="266.7" cy="276.1" r="1.55"/><circle cx="235.3" cy="250.5" r="1.55"/><circle cx="248.4" cy="250.1" r="1.55"/><circle cx="246.4" cy="250.1" r="1.55"/><circle cx="241.8" cy="239.8" r="1.55"/><circle cx="239.4" cy="248.2" r="1.55"/><circle cx="250.6" cy="233.1" r="1.55"/><circle cx="243.6" cy="263.6" r="1.55"/><circle cx="256.3" cy="250.8" r="1.55"/><circle cx="240.3" cy="255.2" r="1.55"/><circle cx="284.4" cy="237.0" r="1.55"/><circle cx="276.0" cy="236.0" r="1.55"/><circle cx="236.2" cy="254.5" r="1.55"/><circle cx="297.9" cy="268.6" r="1.55"/><circle cx="232.5" cy="241.8" r="1.55"/><circle cx="264.8" cy="245.5" r="1.55"/><circle cx="243.0" cy="247.8" r="1.55"/><circle cx="246.6" cy="241.2" r="1.55"/><circle cx="251.5" cy="232.7" r="1.55"/><circle cx="249.8" cy="249.1" r="1.55"/><circle cx="274.0" cy="260.1" r="1.55"/><circle cx="264.8" cy="243.5" r="1.55"/><circle cx="249.7" cy="250.5" r="1.55"/><circle cx="236.6" cy="253.5" r="1.55"/><circle cx="266.0" cy="223.7" r="1.55"/><circle cx="226.6" cy="243.6" r="1.55"/><circle cx="242.2" cy="262.6" r="1.55"/><circle cx="229.6" cy="256.1" r="1.55"/><circle cx="285.2" cy="247.8" r="1.55"/><circle cx="225.3" cy="259.3" r="1.55"/><circle cx="244.1" cy="253.2" r="1.55"/><circle cx="236.4" cy="257.8" r="1.55"/><circle cx="274.8" cy="247.3" r="1.55"/><circle cx="259.5" cy="251.2" r="1.55"/><circle cx="237.5" cy="250.5" r="1.55"/><circle cx="229.3" cy="245.4" r="1.55"/><circle cx="231.8" cy="273.7" r="1.55"/><circle cx="239.1" cy="240.6" r="1.55"/><circle cx="254.6" cy="240.8" r="1.55"/><circle cx="281.9" cy="258.5" r="1.55"/><circle cx="241.5" cy="238.4" r="1.55"/><circle cx="302.1" cy="253.1" r="1.55"/><circle cx="291.9" cy="256.6" r="1.55"/><circle cx="279.0" cy="265.8" r="1.55"/><circle cx="244.4" cy="261.4" r="1.55"/><circle cx="222.7" cy="247.1" r="1.55"/><circle cx="225.4" cy="239.4" r="1.55"/><circle cx="236.9" cy="263.6" r="1.55"/><circle cx="260.9" cy="263.5" r="1.55"/><circle cx="274.4" cy="222.3" r="1.55"/><circle cx="242.3" cy="244.3" r="1.55"/><circle cx="231.0" cy="244.4" r="1.55"/><circle cx="292.9" cy="246.3" r="1.55"/><circle cx="250.5" cy="254.3" r="1.55"/><circle cx="227.6" cy="242.2" r="1.55"/><circle cx="243.9" cy="247.2" r="1.55"/><circle cx="245.3" cy="243.0" r="1.55"/><circle cx="284.4" cy="247.4" r="1.55"/><circle cx="263.4" cy="252.4" r="1.55"/><circle cx="237.1" cy="263.9" r="1.55"/><circle cx="231.3" cy="244.7" r="1.55"/><circle cx="232.7" cy="240.9" r="1.55"/><circle cx="222.5" cy="267.1" r="1.55"/><circle cx="221.3" cy="261.5" r="1.55"/><circle cx="219.1" cy="264.6" r="1.55"/><circle cx="229.6" cy="254.8" r="1.55"/><circle cx="245.7" cy="256.1" r="1.55"/><circle cx="263.6" cy="248.4" r="1.55"/><circle cx="228.6" cy="252.8" r="1.55"/><circle cx="290.6" cy="238.3" r="1.55"/><circle cx="239.7" cy="255.6" r="1.55"/><circle cx="298.7" cy="256.5" r="1.55"/><circle cx="261.1" cy="257.5" r="1.55"/><circle cx="245.0" cy="252.8" r="1.55"/><circle cx="230.7" cy="256.1" r="1.55"/><circle cx="257.1" cy="251.9" r="1.55"/><circle cx="291.9" cy="258.4" r="1.55"/><circle cx="259.1" cy="262.3" r="1.55"/><circle cx="265.4" cy="248.5" r="1.55"/><circle cx="238.1" cy="251.2" r="1.55"/><circle cx="229.8" cy="258.9" r="1.55"/><circle cx="231.4" cy="252.6" r="1.55"/><circle cx="224.8" cy="247.2" r="1.55"/><circle cx="251.9" cy="232.0" r="1.55"/><circle cx="241.8" cy="277.8" r="1.55"/><circle cx="217.5" cy="258.1" r="1.55"/><circle cx="229.1" cy="254.2" r="1.55"/><circle cx="243.2" cy="267.6" r="1.55"/><circle cx="281.9" cy="267.6" r="1.55"/><circle cx="250.8" cy="266.6" r="1.55"/><circle cx="254.4" cy="242.1" r="1.55"/><circle cx="252.2" cy="251.6" r="1.55"/><circle cx="251.4" cy="263.3" r="1.55"/><circle cx="230.0" cy="256.2" r="1.55"/><circle cx="255.0" cy="254.7" r="1.55"/><circle cx="237.4" cy="256.1" r="1.55"/><circle cx="302.3" cy="237.2" r="1.55"/><circle cx="263.6" cy="267.4" r="1.55"/><circle cx="249.1" cy="254.3" r="1.55"/><circle cx="235.2" cy="281.0" r="1.55"/><circle cx="234.7" cy="246.0" r="1.55"/><circle cx="240.2" cy="269.6" r="1.55"/><circle cx="241.9" cy="248.6" r="1.55"/><circle cx="252.4" cy="196.2" r="1.55"/><circle cx="241.2" cy="204.0" r="1.55"/><circle cx="249.8" cy="206.6" r="1.55"/><circle cx="257.1" cy="207.9" r="1.55"/><circle cx="227.6" cy="214.0" r="1.55"/><circle cx="236.7" cy="216.6" r="1.55"/><circle cx="248.5" cy="217.1" r="1.55"/><circle cx="221.4" cy="282.3" r="1.55"/><circle cx="226.1" cy="287.7" r="1.55"/><circle cx="231.5" cy="287.7" r="1.55"/><circle cx="238.4" cy="287.7" r="1.55"/><circle cx="241.7" cy="283.4" r="1.55"/><circle cx="247.1" cy="284.2" r="1.55"/><circle cx="241.7" cy="304.2" r="1.55"/><circle cx="252.1" cy="302.8" r="1.55"/><circle cx="259.7" cy="302.0" r="1.55"/><circle cx="262.3" cy="285.5" r="1.55"/><circle cx="262.3" cy="288.2" r="1.55"/><circle cx="287.7" cy="291.0" r="1.55"/><circle cx="263.6" cy="277.8" r="1.55"/><circle cx="271.8" cy="280.0" r="1.55"/><circle cx="277.3" cy="276.8" r="1.55"/><circle cx="290.4" cy="276.8" r="1.55"/><circle cx="299.1" cy="271.3" r="1.55"/><circle cx="312.8" cy="252.7" r="1.55"/><circle cx="304.6" cy="258.2" r="1.55"/><circle cx="295.9" cy="264.2" r="1.55"/><circle cx="258.1" cy="197.4" r="1.55"/><circle cx="242.1" cy="202.7" r="1.55"/><circle cx="225.0" cy="213.4" r="1.55"/><circle cx="271.5" cy="212.4" r="1.55"/><circle cx="268.8" cy="210.7" r="1.55"/><circle cx="280.6" cy="223.0" r="1.55"/><circle cx="292.9" cy="240.1" r="1.55"/><circle cx="295.5" cy="245.5" r="1.55"/><circle cx="261.2" cy="302.3" r="1.55"/><circle cx="270.3" cy="211.0" r="1.55"/><circle cx="272.2" cy="212.0" r="1.55"/><circle cx="274.6" cy="214.2" r="1.55"/><circle cx="261.9" cy="219.3" r="1.55"/><circle cx="262.2" cy="221.5" r="1.55"/><circle cx="270.0" cy="221.2" r="1.55"/><circle cx="286.0" cy="220.3" r="1.55"/><circle cx="280.9" cy="222.5" r="1.55"/><circle cx="238.9" cy="221.2" r="1.55"/><circle cx="229.5" cy="222.7" r="1.55"/><circle cx="230.5" cy="224.7" r="1.55"/><circle cx="248.8" cy="224.4" r="1.55"/><circle cx="234.9" cy="226.6" r="1.55"/><circle cx="260.2" cy="226.3" r="1.55"/><circle cx="264.6" cy="226.2" r="1.55"/><circle cx="268.1" cy="226.6" r="1.55"/><circle cx="279.2" cy="226.3" r="1.55"/><circle cx="291.9" cy="232.4" r="1.55"/><circle cx="297.3" cy="229.5" r="1.55"/><circle cx="272.4" cy="232.0" r="1.55"/><circle cx="221.3" cy="282.7" r="1.55"/><circle cx="227.6" cy="287.7" r="1.55"/><circle cx="237.5" cy="287.8" r="1.55"/><circle cx="241.5" cy="283.3" r="1.55"/><circle cx="262.0" cy="286.4" r="1.55"/><circle cx="262.4" cy="288.2" r="1.55"/><circle cx="271.6" cy="280.5" r="1.55"/><circle cx="287.6" cy="291.4" r="1.55"/><circle cx="222.5" cy="274.4" r="1.55"/><circle cx="246.9" cy="283.8" r="1.55"/><circle cx="292.2" cy="232.4" r="1.55"/><circle cx="301.6" cy="236.8" r="1.55"/><circle cx="306.0" cy="231.0" r="1.55"/><circle cx="311.1" cy="234.6" r="1.55"/><circle cx="298.0" cy="228.8" r="1.55"/><circle cx="304.5" cy="246.3" r="1.55"/><circle cx="311.8" cy="253.1" r="1.55"/><circle cx="304.5" cy="257.9" r="1.55"/>
</g>
<line x1="205.90" y1="185.22" x2="205.90" y2="317.00" stroke="#8a8a8a" stroke-width="1.4"/>
<line x1="205.90" y1="317.00" x2="337.60" y2="317.00" stroke="#8a8a8a" stroke-width="1.4"/>
<line x1="202.90" y1="316.98" x2="205.90" y2="316.98" stroke="#555" stroke-width="1"/>
<text x="201.60" y="319.88" font-size="6.8" fill="#383838" text-anchor="end" textLength="5.44" lengthAdjust="spacingAndGlyphs">-6</text>
<line x1="202.90" y1="295.02" x2="205.90" y2="295.02" stroke="#555" stroke-width="1"/>
<text x="201.60" y="297.92" font-size="6.8" fill="#383838" text-anchor="end" textLength="5.44" lengthAdjust="spacingAndGlyphs">-4</text>
<line x1="202.90" y1="273.06" x2="205.90" y2="273.06" stroke="#555" stroke-width="1"/>
<text x="201.60" y="275.96" font-size="6.8" fill="#383838" text-anchor="end" textLength="5.44" lengthAdjust="spacingAndGlyphs">-2</text>
<line x1="202.90" y1="251.10" x2="205.90" y2="251.10" stroke="#555" stroke-width="1"/>
<text x="201.60" y="254.00" font-size="6.8" fill="#383838" text-anchor="end" textLength="3.4" lengthAdjust="spacingAndGlyphs">0</text>
<line x1="202.90" y1="229.14" x2="205.90" y2="229.14" stroke="#555" stroke-width="1"/>
<text x="201.60" y="232.04" font-size="6.8" fill="#383838" text-anchor="end" textLength="3.4" lengthAdjust="spacingAndGlyphs">2</text>
<line x1="202.90" y1="207.18" x2="205.90" y2="207.18" stroke="#555" stroke-width="1"/>
<text x="201.60" y="210.08" font-size="6.8" fill="#383838" text-anchor="end" textLength="3.4" lengthAdjust="spacingAndGlyphs">4</text>
<line x1="202.90" y1="185.22" x2="205.90" y2="185.22" stroke="#555" stroke-width="1"/>
<text x="201.60" y="188.12" font-size="6.8" fill="#383838" text-anchor="end" textLength="3.4" lengthAdjust="spacingAndGlyphs">6</text>
<line x1="205.90" y1="317.00" x2="205.90" y2="320.70" stroke="#555" stroke-width="1"/>
<text x="205.90" y="328.80" font-size="6.8" fill="#383838" text-anchor="middle" textLength="3.4" lengthAdjust="spacingAndGlyphs">0</text>
<line x1="227.85" y1="317.00" x2="227.85" y2="320.70" stroke="#555" stroke-width="1"/>
<text x="227.85" y="328.80" font-size="6.8" fill="#383838" text-anchor="middle" textLength="8.51" lengthAdjust="spacingAndGlyphs">0.1</text>
<line x1="249.80" y1="317.00" x2="249.80" y2="320.70" stroke="#555" stroke-width="1"/>
<text x="249.80" y="328.80" font-size="6.8" fill="#383838" text-anchor="middle" textLength="8.51" lengthAdjust="spacingAndGlyphs">0.2</text>
<line x1="271.75" y1="317.00" x2="271.75" y2="320.70" stroke="#555" stroke-width="1"/>
<text x="271.75" y="328.80" font-size="6.8" fill="#383838" text-anchor="middle" textLength="8.51" lengthAdjust="spacingAndGlyphs">0.3</text>
<line x1="293.70" y1="317.00" x2="293.70" y2="320.70" stroke="#555" stroke-width="1"/>
<text x="293.70" y="328.80" font-size="6.8" fill="#383838" text-anchor="middle" textLength="8.51" lengthAdjust="spacingAndGlyphs">0.4</text>
<line x1="315.65" y1="317.00" x2="315.65" y2="320.70" stroke="#555" stroke-width="1"/>
<text x="315.65" y="328.80" font-size="6.8" fill="#383838" text-anchor="middle" textLength="8.51" lengthAdjust="spacingAndGlyphs">0.5</text>
<line x1="337.60" y1="317.00" x2="337.60" y2="320.70" stroke="#555" stroke-width="1"/>
<text x="337.60" y="328.80" font-size="6.8" fill="#383838" text-anchor="middle" textLength="8.51" lengthAdjust="spacingAndGlyphs">0.6</text>
<text x="219.85" y="196.10" font-size="14.2" fill="#1aae57" textLength="7.74" lengthAdjust="spacingAndGlyphs">E</text>
<text x="324.20" y="226.70" font-size="6.6" fill="#383838" textLength="11.1" lengthAdjust="spacingAndGlyphs">y=2</text>
<text x="324.20" y="248.30" font-size="6.6" fill="#383838" textLength="11.1" lengthAdjust="spacingAndGlyphs">y=0</text>
<text x="321.60" y="270.90" font-size="6.6" fill="#383838" textLength="13.6" lengthAdjust="spacingAndGlyphs">y=-2</text>
<text x="214.70" y="341.30" font-size="9.0" fill="#2d2d2d" textLength="116.7" lengthAdjust="spacingAndGlyphs">Predicted plasma dilution (PRED)</text>
<text transform="translate(188.2,253.25) rotate(-90)" x="0" y="0" font-size="8.6" fill="#2d2d2d" text-anchor="middle" textLength="149.3" lengthAdjust="spacingAndGlyphs">Conditional weighted residuals (CWRES)</text>
<line x1="382.90" y1="186.10" x2="382.90" y2="317.50" stroke="#8c8c8c" stroke-width="1.3"/>
<line x1="382.90" y1="317.50" x2="514.10" y2="317.50" stroke="#8c8c8c" stroke-width="1.3"/>
<line x1="380.50" y1="317.50" x2="382.90" y2="317.50" stroke="#555" stroke-width="1"/>
<text x="377.20" y="320.10" font-size="6.6" fill="#383838" text-anchor="end" textLength="3.3" lengthAdjust="spacingAndGlyphs">1</text>
<line x1="380.50" y1="273.70" x2="382.90" y2="273.70" stroke="#555" stroke-width="1"/>
<text x="377.20" y="276.30" font-size="6.6" fill="#383838" text-anchor="end" textLength="3.3" lengthAdjust="spacingAndGlyphs">3</text>
<line x1="380.50" y1="229.90" x2="382.90" y2="229.90" stroke="#555" stroke-width="1"/>
<text x="377.20" y="232.50" font-size="6.6" fill="#383838" text-anchor="end" textLength="3.3" lengthAdjust="spacingAndGlyphs">5</text>
<line x1="380.50" y1="186.10" x2="382.90" y2="186.10" stroke="#555" stroke-width="1"/>
<text x="377.20" y="188.70" font-size="6.6" fill="#383838" text-anchor="end" textLength="3.3" lengthAdjust="spacingAndGlyphs">7</text>
<line x1="381.40" y1="295.60" x2="382.90" y2="295.60" stroke="#555" stroke-width="1"/>
<line x1="381.40" y1="251.80" x2="382.90" y2="251.80" stroke="#555" stroke-width="1"/>
<line x1="381.40" y1="208.00" x2="382.90" y2="208.00" stroke="#555" stroke-width="1"/>
<line x1="382.90" y1="317.50" x2="382.90" y2="319.10" stroke="#555" stroke-width="1"/>
<text x="382.90" y="327.90" font-size="6.6" fill="#383838" text-anchor="middle" textLength="6.61" lengthAdjust="spacingAndGlyphs">40</text>
<line x1="415.70" y1="317.50" x2="415.70" y2="319.10" stroke="#555" stroke-width="1"/>
<text x="415.70" y="327.90" font-size="6.6" fill="#383838" text-anchor="middle" textLength="6.61" lengthAdjust="spacingAndGlyphs">60</text>
<line x1="448.50" y1="317.50" x2="448.50" y2="319.10" stroke="#555" stroke-width="1"/>
<text x="448.50" y="327.90" font-size="6.6" fill="#383838" text-anchor="middle" textLength="6.61" lengthAdjust="spacingAndGlyphs">80</text>
<line x1="481.30" y1="317.50" x2="481.30" y2="319.10" stroke="#555" stroke-width="1"/>
<text x="481.30" y="327.90" font-size="6.6" fill="#383838" text-anchor="middle" textLength="9.91" lengthAdjust="spacingAndGlyphs">100</text>
<line x1="514.10" y1="317.50" x2="514.10" y2="319.10" stroke="#555" stroke-width="1"/>
<text x="514.10" y="327.90" font-size="6.6" fill="#383838" text-anchor="middle" textLength="9.91" lengthAdjust="spacingAndGlyphs">120</text>
<line x1="399.30" y1="317.50" x2="399.30" y2="318.70" stroke="#555" stroke-width="1"/>
<line x1="432.10" y1="317.50" x2="432.10" y2="318.70" stroke="#555" stroke-width="1"/>
<line x1="464.90" y1="317.50" x2="464.90" y2="318.70" stroke="#555" stroke-width="1"/>
<line x1="497.70" y1="317.50" x2="497.70" y2="318.70" stroke="#555" stroke-width="1"/>
<line x1="382.40" y1="317.50" x2="514.10" y2="317.50" stroke="#555" stroke-width="1.0"/>
<polyline points="386.90,308.80 394.30,304.70 403.60,297.70 412.90,293.00 420.00,290.50 428.10,285.80 435.10,278.80 443.30,270.10 448.50,266.00 454.90,266.40 461.90,265.50 470.00,257.30 479.50,248.40 488.00,238.60 497.40,228.20" fill="none" stroke="#f01010" stroke-width="1.9" stroke-linejoin="round" stroke-dasharray="4.6 1.6"/>
<g fill="none" stroke="#3030ee" stroke-width="0.8">
<circle cx="452.8" cy="201.4" r="1.25"/><circle cx="443.3" cy="220.7" r="1.25"/><circle cx="443.3" cy="223.7" r="1.25"/><circle cx="443.3" cy="238.6" r="1.25"/><circle cx="430.5" cy="241.2" r="1.25"/><circle cx="440.5" cy="249.1" r="1.25"/><circle cx="449.1" cy="252.3" r="1.25"/><circle cx="437.7" cy="256.3" r="1.25"/><circle cx="433.5" cy="258.6" r="1.25"/><circle cx="497.7" cy="189.8" r="1.25"/><circle cx="477.9" cy="231.6" r="1.25"/><circle cx="477.9" cy="247.0" r="1.25"/><circle cx="427.2" cy="262.5" r="1.25"/><circle cx="441.7" cy="265.4" r="1.25"/><circle cx="428.6" cy="271.7" r="1.25"/><circle cx="431.8" cy="274.1" r="1.25"/><circle cx="436.9" cy="273.4" r="1.25"/><circle cx="440.7" cy="271.7" r="1.25"/><circle cx="445.3" cy="273.7" r="1.25"/><circle cx="445.6" cy="275.6" r="1.25"/><circle cx="407.6" cy="279.2" r="1.25"/><circle cx="408.6" cy="280.2" r="1.25"/><circle cx="415.6" cy="279.5" r="1.25"/><circle cx="423.6" cy="278.2" r="1.25"/><circle cx="427.2" cy="278.5" r="1.25"/><circle cx="440.3" cy="279.2" r="1.25"/><circle cx="406.9" cy="283.6" r="1.25"/><circle cx="415.6" cy="283.1" r="1.25"/><circle cx="418.9" cy="282.8" r="1.25"/><circle cx="426.8" cy="282.1" r="1.25"/><circle cx="432.3" cy="282.1" r="1.25"/><circle cx="435.9" cy="281.4" r="1.25"/><circle cx="437.4" cy="283.3" r="1.25"/><circle cx="404.0" cy="286.2" r="1.25"/><circle cx="423.6" cy="287.2" r="1.25"/><circle cx="435.2" cy="287.2" r="1.25"/><circle cx="398.9" cy="289.1" r="1.25"/><circle cx="448.3" cy="287.2" r="1.25"/><circle cx="412.6" cy="290.3" r="1.25"/><circle cx="419.7" cy="290.3" r="1.25"/><circle cx="425.8" cy="289.7" r="1.25"/><circle cx="429.9" cy="292.3" r="1.25"/><circle cx="399.3" cy="296.8" r="1.25"/><circle cx="400.4" cy="299.2" r="1.25"/><circle cx="402.4" cy="298.0" r="1.25"/><circle cx="406.5" cy="296.8" r="1.25"/><circle cx="412.6" cy="293.8" r="1.25"/><circle cx="415.6" cy="298.4" r="1.25"/><circle cx="416.6" cy="300.9" r="1.25"/><circle cx="423.8" cy="297.2" r="1.25"/><circle cx="424.4" cy="298.8" r="1.25"/><circle cx="428.8" cy="296.4" r="1.25"/><circle cx="429.9" cy="298.8" r="1.25"/><circle cx="437.0" cy="298.4" r="1.25"/><circle cx="440.5" cy="297.7" r="1.25"/><circle cx="431.9" cy="301.5" r="1.25"/><circle cx="427.8" cy="302.5" r="1.25"/><circle cx="393.2" cy="300.9" r="1.25"/><circle cx="395.3" cy="303.3" r="1.25"/><circle cx="387.7" cy="303.9" r="1.25"/><circle cx="405.4" cy="303.3" r="1.25"/><circle cx="407.5" cy="303.9" r="1.25"/><circle cx="410.5" cy="303.3" r="1.25"/><circle cx="412.6" cy="301.9" r="1.25"/><circle cx="418.7" cy="303.3" r="1.25"/><circle cx="425.8" cy="305.4" r="1.25"/><circle cx="435.4" cy="306.0" r="1.25"/><circle cx="389.2" cy="310.6" r="1.25"/><circle cx="392.2" cy="309.0" r="1.25"/><circle cx="394.2" cy="311.5" r="1.25"/><circle cx="397.3" cy="310.6" r="1.25"/><circle cx="399.3" cy="309.4" r="1.25"/><circle cx="409.5" cy="311.5" r="1.25"/><circle cx="431.9" cy="312.7" r="1.25"/><circle cx="449.3" cy="265.8" r="1.25"/><circle cx="450.5" cy="266.7" r="1.25"/><circle cx="451.6" cy="271.4" r="1.25"/><circle cx="454.4" cy="270.9" r="1.25"/><circle cx="458.1" cy="270.9" r="1.25"/><circle cx="461.4" cy="268.1" r="1.25"/><circle cx="471.4" cy="266.3" r="1.25"/><circle cx="451.6" cy="279.1" r="1.25"/><circle cx="458.1" cy="280.2" r="1.25"/><circle cx="474.4" cy="284.2" r="1.25"/><circle cx="448.8" cy="286.7" r="1.25"/><circle cx="448.1" cy="287.9" r="1.25"/><circle cx="445.1" cy="289.1" r="1.25"/><circle cx="445.1" cy="291.9" r="1.25"/><circle cx="407.5" cy="281.5" r="1.25"/>
</g>
<text x="396.68" y="196.00" font-size="14.2" fill="#1aae57" textLength="7.62" lengthAdjust="spacingAndGlyphs">F</text>
<text x="471.40" y="307.40" font-size="10.5" fill="#17a050" textLength="32.2" lengthAdjust="spacingAndGlyphs">N = 103</text>
<text x="420.20" y="341.30" font-size="9.0" fill="#2d2d2d" textLength="60.5" lengthAdjust="spacingAndGlyphs">Body weight (kg)</text>
<text transform="translate(365.4,254.45) rotate(-90)" font-size="9.2" fill="#2d2d2d" text-anchor="middle" textLength="83.6" lengthAdjust="spacingAndGlyphs">Central volume (<tspan font-style="italic">V</tspan><tspan font-size="6" dy="1.5" font-style="italic">c</tspan><tspan dy="-1.5">, L)</tspan></text>
<line x1="553.50" y1="192.20" x2="553.50" y2="317.60" stroke="#3c3c3c" stroke-width="1.0"/>
<line x1="553.50" y1="317.60" x2="679.30" y2="317.60" stroke="#3c3c3c" stroke-width="1.0"/>
<line x1="551.10" y1="317.60" x2="553.50" y2="317.60" stroke="#3c3c3c" stroke-width="1"/>
<text x="548.20" y="320.30" font-size="6.6" fill="#383838" text-anchor="end" textLength="3.3" lengthAdjust="spacingAndGlyphs">1</text>
<line x1="551.10" y1="275.80" x2="553.50" y2="275.80" stroke="#3c3c3c" stroke-width="1"/>
<text x="548.20" y="278.50" font-size="6.6" fill="#383838" text-anchor="end" textLength="3.3" lengthAdjust="spacingAndGlyphs">3</text>
<line x1="551.10" y1="234.00" x2="553.50" y2="234.00" stroke="#3c3c3c" stroke-width="1"/>
<text x="548.20" y="236.70" font-size="6.6" fill="#383838" text-anchor="end" textLength="3.3" lengthAdjust="spacingAndGlyphs">5</text>
<line x1="551.10" y1="192.20" x2="553.50" y2="192.20" stroke="#3c3c3c" stroke-width="1"/>
<text x="548.20" y="194.90" font-size="6.6" fill="#383838" text-anchor="end" textLength="3.3" lengthAdjust="spacingAndGlyphs">7</text>
<line x1="552.00" y1="296.70" x2="553.50" y2="296.70" stroke="#3c3c3c" stroke-width="1"/>
<line x1="552.00" y1="254.90" x2="553.50" y2="254.90" stroke="#3c3c3c" stroke-width="1"/>
<line x1="552.00" y1="213.10" x2="553.50" y2="213.10" stroke="#3c3c3c" stroke-width="1"/>
<line x1="553.50" y1="317.60" x2="553.50" y2="319.20" stroke="#3c3c3c" stroke-width="1"/>
<text x="553.50" y="327.70" font-size="6.6" fill="#383838" text-anchor="middle" textLength="6.61" lengthAdjust="spacingAndGlyphs">40</text>
<line x1="584.95" y1="317.60" x2="584.95" y2="319.20" stroke="#3c3c3c" stroke-width="1"/>
<text x="584.95" y="327.70" font-size="6.6" fill="#383838" text-anchor="middle" textLength="6.61" lengthAdjust="spacingAndGlyphs">60</text>
<line x1="616.40" y1="317.60" x2="616.40" y2="319.20" stroke="#3c3c3c" stroke-width="1"/>
<text x="616.40" y="327.70" font-size="6.6" fill="#383838" text-anchor="middle" textLength="6.61" lengthAdjust="spacingAndGlyphs">80</text>
<line x1="647.85" y1="317.60" x2="647.85" y2="319.20" stroke="#3c3c3c" stroke-width="1"/>
<text x="647.85" y="327.70" font-size="6.6" fill="#383838" text-anchor="middle" textLength="9.91" lengthAdjust="spacingAndGlyphs">100</text>
<line x1="679.30" y1="317.60" x2="679.30" y2="319.20" stroke="#3c3c3c" stroke-width="1"/>
<text x="679.30" y="327.70" font-size="6.6" fill="#383838" text-anchor="middle" textLength="9.91" lengthAdjust="spacingAndGlyphs">120</text>
<line x1="569.23" y1="317.60" x2="569.23" y2="318.80" stroke="#3c3c3c" stroke-width="1"/>
<line x1="600.67" y1="317.60" x2="600.67" y2="318.80" stroke="#3c3c3c" stroke-width="1"/>
<line x1="632.12" y1="317.60" x2="632.12" y2="318.80" stroke="#3c3c3c" stroke-width="1"/>
<line x1="663.58" y1="317.60" x2="663.58" y2="318.80" stroke="#3c3c3c" stroke-width="1"/>
<polyline points="565.20,263.10 577.90,272.60 590.70,281.90 600.70,289.60 606.00,287.00 611.60,284.20 616.00,282.30 620.50,281.90 626.00,284.00 632.10,287.80 638.00,291.50 645.00,294.30 652.00,295.30 661.20,295.40 670.00,294.50 677.60,293.60" fill="none" stroke="#f01010" stroke-width="1.9" stroke-linejoin="round" stroke-dasharray="4 1.4"/>
<g fill="none" stroke="#3030ee" stroke-width="0.8">
<circle cx="625.8" cy="195.1" r="1.25"/><circle cx="614.8" cy="206.4" r="1.25"/><circle cx="610.2" cy="225.1" r="1.25"/><circle cx="617.9" cy="227.6" r="1.25"/><circle cx="628.8" cy="235.3" r="1.25"/><circle cx="594.8" cy="241.7" r="1.25"/><circle cx="565.8" cy="244.3" r="1.25"/><circle cx="578.6" cy="249.8" r="1.25"/><circle cx="611.6" cy="251.6" r="1.25"/><circle cx="637.0" cy="254.9" r="1.25"/><circle cx="583.3" cy="258.6" r="1.25"/><circle cx="593.7" cy="261.4" r="1.25"/><circle cx="597.2" cy="264.4" r="1.25"/><circle cx="584.4" cy="269.1" r="1.25"/><circle cx="592.6" cy="270.2" r="1.25"/><circle cx="605.3" cy="267.4" r="1.25"/><circle cx="618.4" cy="268.4" r="1.25"/><circle cx="617.0" cy="269.3" r="1.25"/><circle cx="576.7" cy="273.0" r="1.25"/><circle cx="591.4" cy="275.3" r="1.25"/><circle cx="600.7" cy="275.3" r="1.25"/><circle cx="611.6" cy="275.3" r="1.25"/><circle cx="615.1" cy="273.7" r="1.25"/><circle cx="567.4" cy="284.7" r="1.25"/><circle cx="574.4" cy="281.2" r="1.25"/><circle cx="580.2" cy="283.0" r="1.25"/><circle cx="587.2" cy="280.0" r="1.25"/><circle cx="591.4" cy="281.9" r="1.25"/><circle cx="596.5" cy="280.7" r="1.25"/><circle cx="600.7" cy="281.9" r="1.25"/><circle cx="605.8" cy="283.0" r="1.25"/><circle cx="612.3" cy="282.3" r="1.25"/><circle cx="615.1" cy="281.9" r="1.25"/><circle cx="619.3" cy="282.6" r="1.25"/><circle cx="589.1" cy="285.3" r="1.25"/><circle cx="596.5" cy="286.0" r="1.25"/><circle cx="600.7" cy="286.5" r="1.25"/><circle cx="605.8" cy="285.3" r="1.25"/><circle cx="611.6" cy="284.7" r="1.25"/><circle cx="592.3" cy="288.8" r="1.25"/><circle cx="603.0" cy="290.0" r="1.25"/><circle cx="611.6" cy="289.3" r="1.25"/><circle cx="588.4" cy="291.6" r="1.25"/><circle cx="596.5" cy="293.0" r="1.25"/><circle cx="605.8" cy="295.3" r="1.25"/><circle cx="610.9" cy="297.0" r="1.25"/><circle cx="587.2" cy="298.1" r="1.25"/><circle cx="596.0" cy="300.0" r="1.25"/><circle cx="600.7" cy="300.0" r="1.25"/><circle cx="604.7" cy="299.3" r="1.25"/><circle cx="605.3" cy="301.0" r="1.25"/><circle cx="607.0" cy="302.8" r="1.25"/><circle cx="614.0" cy="300.0" r="1.25"/><circle cx="617.9" cy="299.3" r="1.25"/><circle cx="587.7" cy="304.7" r="1.25"/><circle cx="596.0" cy="301.6" r="1.25"/><circle cx="618.6" cy="304.0" r="1.25"/><circle cx="597.7" cy="311.6" r="1.25"/><circle cx="599.3" cy="312.8" r="1.25"/><circle cx="607.0" cy="309.8" r="1.25"/><circle cx="608.1" cy="311.6" r="1.25"/><circle cx="615.1" cy="309.8" r="1.25"/><circle cx="613.5" cy="274.5" r="1.25"/><circle cx="635.2" cy="276.8" r="1.25"/><circle cx="679.4" cy="273.8" r="1.25"/><circle cx="616.5" cy="284.3" r="1.25"/><circle cx="663.6" cy="283.8" r="1.25"/><circle cx="621.2" cy="287.8" r="1.25"/><circle cx="624.4" cy="288.5" r="1.25"/><circle cx="645.0" cy="288.5" r="1.25"/><circle cx="639.8" cy="290.1" r="1.25"/><circle cx="611.9" cy="292.4" r="1.25"/><circle cx="621.6" cy="292.4" r="1.25"/><circle cx="626.3" cy="291.7" r="1.25"/><circle cx="625.1" cy="293.1" r="1.25"/><circle cx="621.2" cy="297.1" r="1.25"/><circle cx="624.4" cy="298.2" r="1.25"/><circle cx="628.2" cy="298.7" r="1.25"/><circle cx="621.6" cy="300.1" r="1.25"/><circle cx="636.8" cy="297.8" r="1.25"/><circle cx="640.3" cy="297.8" r="1.25"/><circle cx="642.6" cy="299.4" r="1.25"/><circle cx="636.8" cy="301.0" r="1.25"/><circle cx="641.4" cy="302.4" r="1.25"/><circle cx="656.6" cy="301.7" r="1.25"/><circle cx="655.4" cy="303.4" r="1.25"/><circle cx="652.6" cy="304.8" r="1.25"/><circle cx="654.3" cy="307.4" r="1.25"/><circle cx="619.3" cy="304.1" r="1.25"/><circle cx="622.8" cy="304.1" r="1.25"/><circle cx="627.5" cy="304.1" r="1.25"/><circle cx="615.8" cy="306.4" r="1.25"/><circle cx="641.4" cy="304.8" r="1.25"/><circle cx="606.3" cy="302.5" r="1.25"/>
</g>
<text x="567.14" y="196.40" font-size="14.2" fill="#1aae57" textLength="10.23" lengthAdjust="spacingAndGlyphs">G</text>
<text x="565.40" y="341.60" font-size="9.0" fill="#2d2d2d" textLength="110.9" lengthAdjust="spacingAndGlyphs">Mean arterial pressure (mmHg)</text>
<text transform="translate(535.6,252.0) rotate(-90)" font-size="9.2" fill="#2d2d2d" text-anchor="middle" textLength="83.6" lengthAdjust="spacingAndGlyphs">Central volume (<tspan font-style="italic">V</tspan><tspan font-size="6" dy="1.5" font-style="italic">c</tspan><tspan dy="-1.5">, L)</tspan></text>
</svg>
</body></html>
